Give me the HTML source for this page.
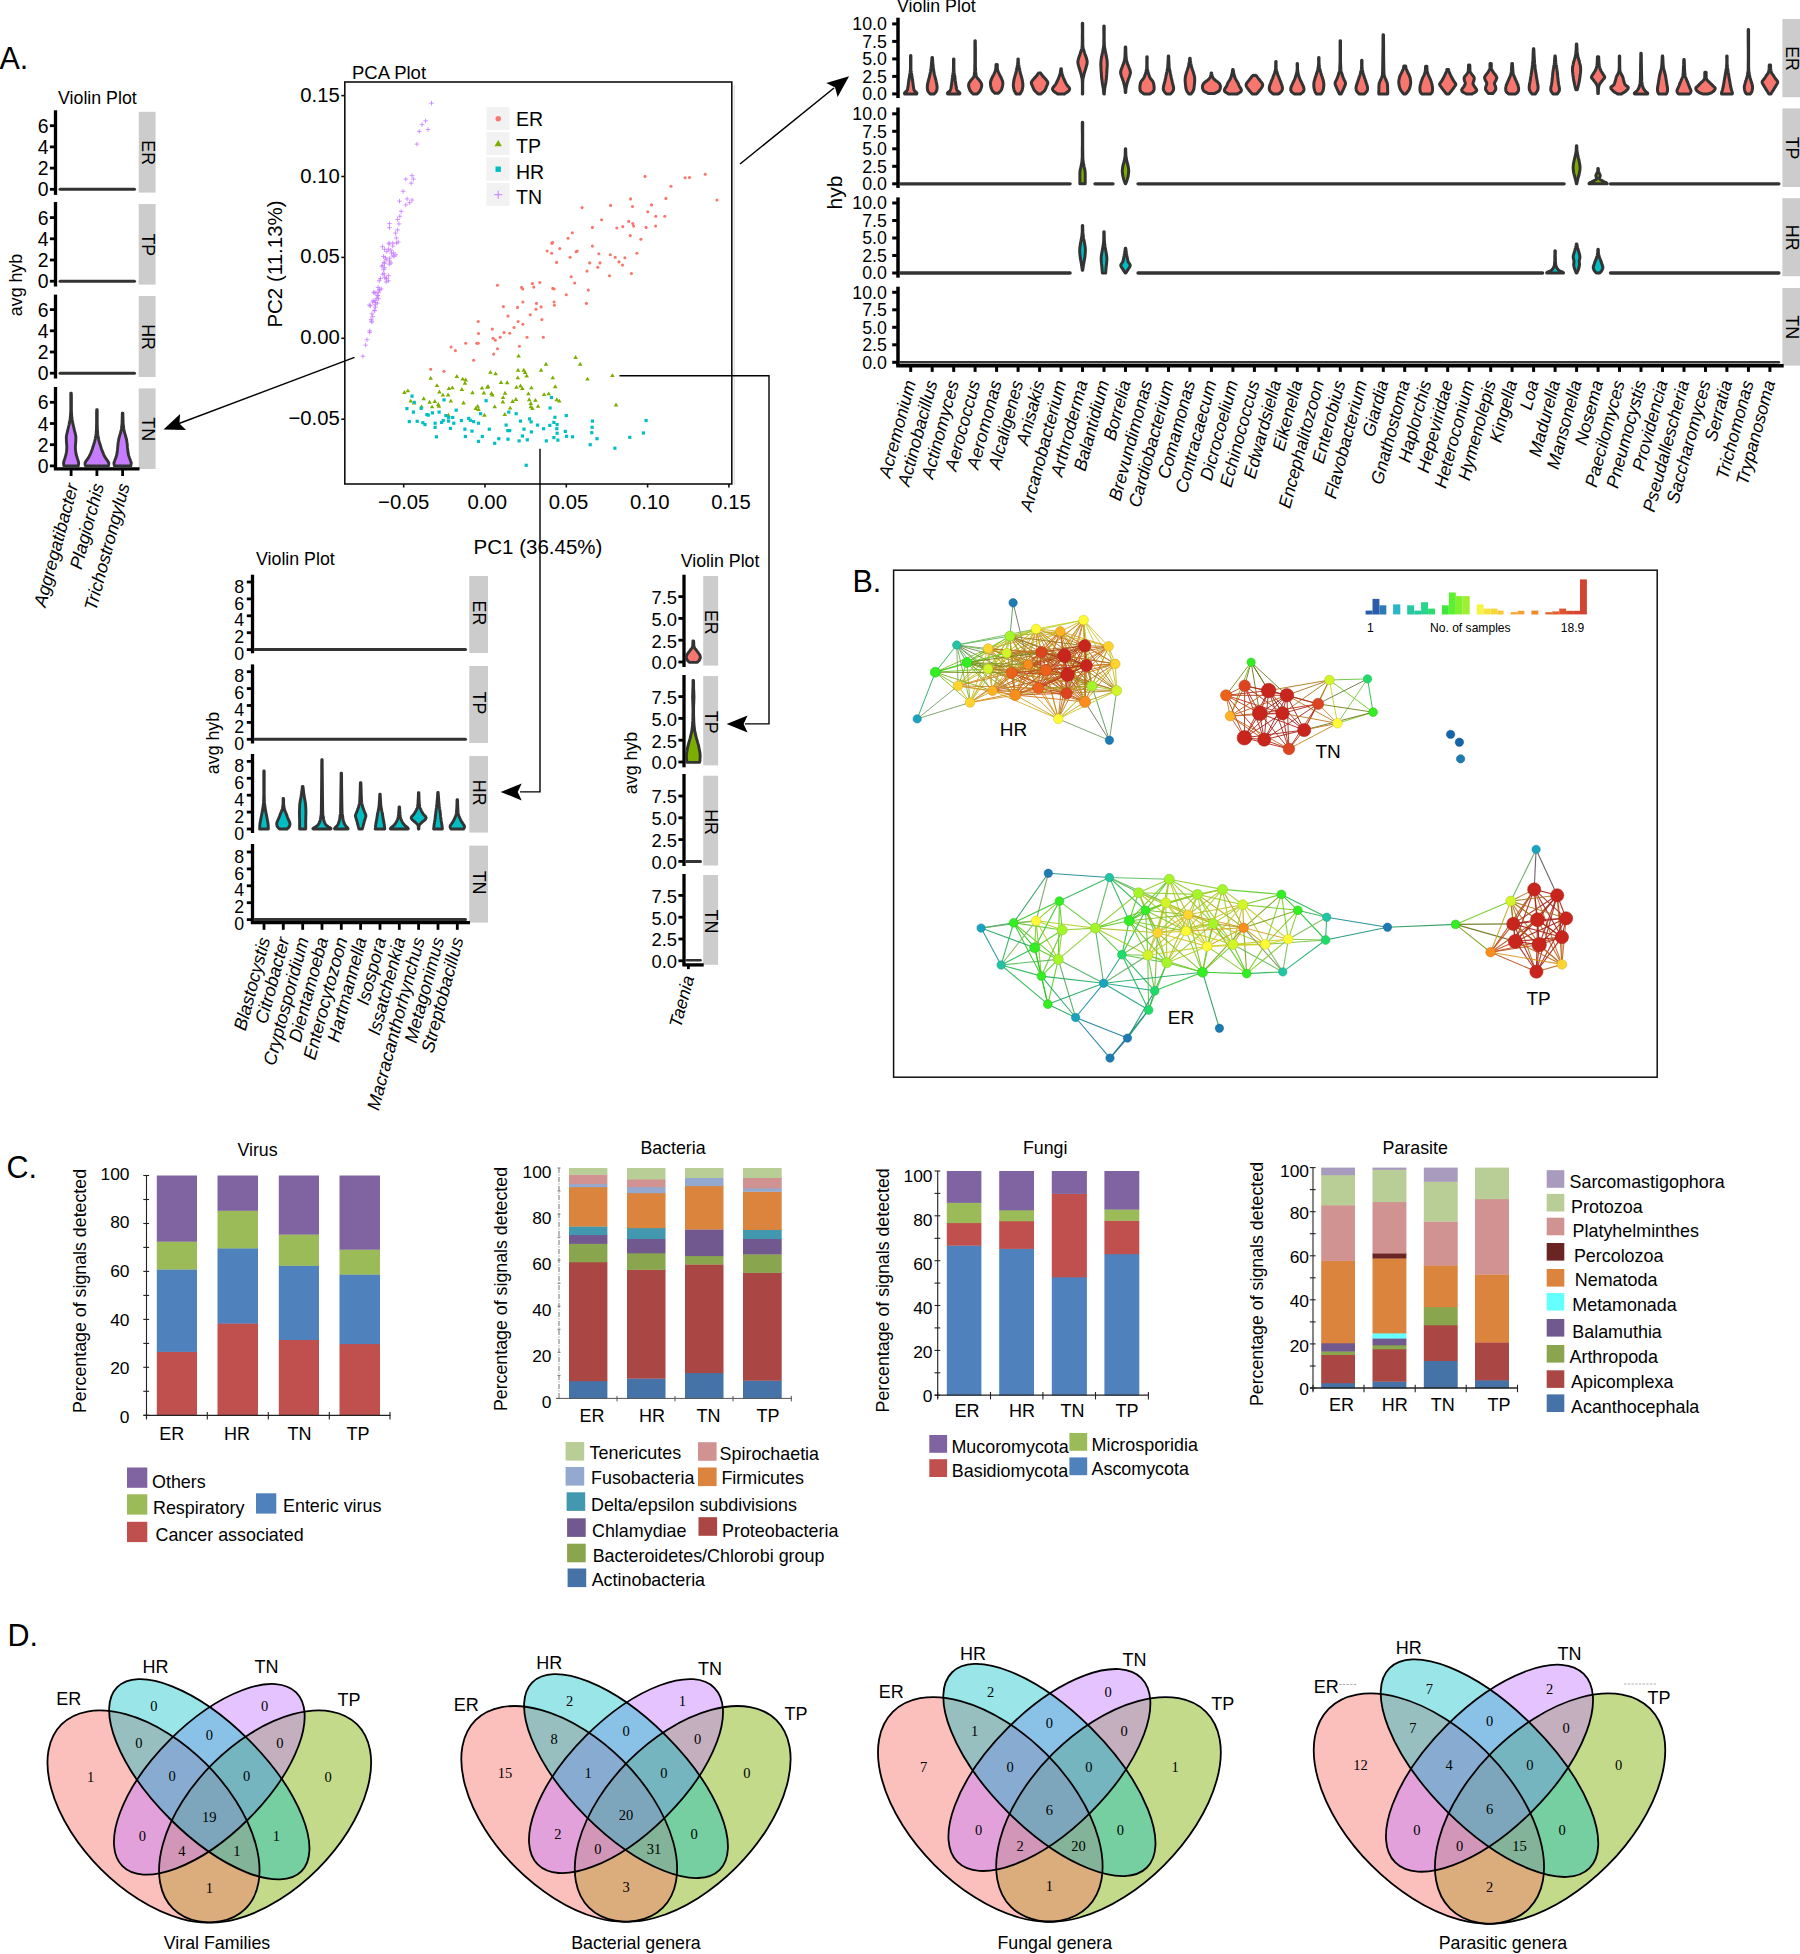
<!DOCTYPE html>
<html><head><meta charset="utf-8"><title>Figure</title>
<style>
html,body{margin:0;padding:0;background:#fff}
svg{display:block}
text{font-family:"Liberation Sans",sans-serif;fill:#000}
text.sf{font-family:"Liberation Serif",serif}
</style></head><body>
<svg width="1800" height="1954" viewBox="0 0 1800 1954" font-size="17.8">
<rect width="1800" height="1954" fill="#fff"/>
<text x="-0.5" y="68.5" font-size="30.5">A.</text>
<text x="852.5" y="591.7" font-size="30.5">B.</text>
<text x="6.5" y="1177.5" font-size="30.5">C.</text>
<text x="7.5" y="1646" font-size="30.5">D.</text>
<rect x="138.7" y="111.8" width="16.9" height="80.8" fill="#CCCCCC"/>
<text text-anchor="middle" transform="translate(141.7 152.7) rotate(90)">ER</text>
<line x1="55.5" y1="110.3" x2="55.5" y2="194.9" stroke="#000" stroke-width="3.3"/>
<line x1="49.9" y1="189.3" x2="55.5" y2="189.3" stroke="#000" stroke-width="2.8"/>
<text x="48.6" y="196.3" text-anchor="end" font-size="19.4">0</text>
<line x1="49.9" y1="168.1" x2="55.5" y2="168.1" stroke="#000" stroke-width="2.8"/>
<text x="48.6" y="175.1" text-anchor="end" font-size="19.4">2</text>
<line x1="49.9" y1="146.9" x2="55.5" y2="146.9" stroke="#000" stroke-width="2.8"/>
<text x="48.6" y="153.9" text-anchor="end" font-size="19.4">4</text>
<line x1="49.9" y1="125.7" x2="55.5" y2="125.7" stroke="#000" stroke-width="2.8"/>
<text x="48.6" y="132.7" text-anchor="end" font-size="19.4">6</text>
<rect x="138.7" y="204" width="16.9" height="80.6" fill="#CCCCCC"/>
<text text-anchor="middle" transform="translate(141.7 244.8) rotate(90)">TP</text>
<line x1="55.5" y1="202" x2="55.5" y2="286.5" stroke="#000" stroke-width="3.3"/>
<line x1="49.9" y1="281.2" x2="55.5" y2="281.2" stroke="#000" stroke-width="2.8"/>
<text x="48.6" y="288.2" text-anchor="end" font-size="19.4">0</text>
<line x1="49.9" y1="260" x2="55.5" y2="260" stroke="#000" stroke-width="2.8"/>
<text x="48.6" y="267" text-anchor="end" font-size="19.4">2</text>
<line x1="49.9" y1="238.8" x2="55.5" y2="238.8" stroke="#000" stroke-width="2.8"/>
<text x="48.6" y="245.8" text-anchor="end" font-size="19.4">4</text>
<line x1="49.9" y1="217.6" x2="55.5" y2="217.6" stroke="#000" stroke-width="2.8"/>
<text x="48.6" y="224.6" text-anchor="end" font-size="19.4">6</text>
<rect x="138.7" y="296" width="16.9" height="81" fill="#CCCCCC"/>
<text text-anchor="middle" transform="translate(141.7 337) rotate(90)">HR</text>
<line x1="55.5" y1="294.6" x2="55.5" y2="378.5" stroke="#000" stroke-width="3.3"/>
<line x1="49.9" y1="373.2" x2="55.5" y2="373.2" stroke="#000" stroke-width="2.8"/>
<text x="48.6" y="380.2" text-anchor="end" font-size="19.4">0</text>
<line x1="49.9" y1="352" x2="55.5" y2="352" stroke="#000" stroke-width="2.8"/>
<text x="48.6" y="359" text-anchor="end" font-size="19.4">2</text>
<line x1="49.9" y1="330.8" x2="55.5" y2="330.8" stroke="#000" stroke-width="2.8"/>
<text x="48.6" y="337.8" text-anchor="end" font-size="19.4">4</text>
<line x1="49.9" y1="309.6" x2="55.5" y2="309.6" stroke="#000" stroke-width="2.8"/>
<text x="48.6" y="316.6" text-anchor="end" font-size="19.4">6</text>
<rect x="138.7" y="388.4" width="16.9" height="80.6" fill="#CCCCCC"/>
<text text-anchor="middle" transform="translate(141.7 429.2) rotate(90)">TN</text>
<line x1="55.5" y1="387" x2="55.5" y2="468.9" stroke="#000" stroke-width="3.3"/>
<line x1="49.9" y1="465.9" x2="55.5" y2="465.9" stroke="#000" stroke-width="2.8"/>
<text x="48.6" y="472.9" text-anchor="end" font-size="19.4">0</text>
<line x1="49.9" y1="444.7" x2="55.5" y2="444.7" stroke="#000" stroke-width="2.8"/>
<text x="48.6" y="451.7" text-anchor="end" font-size="19.4">2</text>
<line x1="49.9" y1="423.5" x2="55.5" y2="423.5" stroke="#000" stroke-width="2.8"/>
<text x="48.6" y="430.5" text-anchor="end" font-size="19.4">4</text>
<line x1="49.9" y1="402.3" x2="55.5" y2="402.3" stroke="#000" stroke-width="2.8"/>
<text x="48.6" y="409.3" text-anchor="end" font-size="19.4">6</text>
<line x1="53.9" y1="468.9" x2="139.5" y2="468.9" stroke="#000" stroke-width="3.3"/>
<line x1="71.1" y1="468.9" x2="71.1" y2="476" stroke="#000" stroke-width="2.8"/>
<text text-anchor="end" font-style="italic" font-size="18" transform="translate(78.4 485.2) rotate(-75)">Aggregatibacter</text>
<line x1="96.9" y1="468.9" x2="96.9" y2="476" stroke="#000" stroke-width="2.8"/>
<text text-anchor="end" font-style="italic" font-size="18" transform="translate(104.2 485.2) rotate(-75)">Plagiorchis</text>
<line x1="122.6" y1="468.9" x2="122.6" y2="476" stroke="#000" stroke-width="2.8"/>
<text text-anchor="end" font-style="italic" font-size="18" transform="translate(129.9 485.2) rotate(-75)">Trichostrongylus</text>
<text x="58" y="103.7">Violin Plot</text>
<text text-anchor="middle" transform="translate(21.5 285) rotate(-90)">avg hyb</text>
<line x1="60" y1="189.3" x2="134.5" y2="189.3" stroke="#333" stroke-width="3" stroke-linecap="round"/>
<line x1="60" y1="281.2" x2="134.5" y2="281.2" stroke="#333" stroke-width="3" stroke-linecap="round"/>
<line x1="60" y1="373.2" x2="134.5" y2="373.2" stroke="#333" stroke-width="3" stroke-linecap="round"/>
<path d="M78.3 465.9 L78.4 465.1 L78.6 464 L78.6 462.7 L78.3 461.4 L77.9 459.9 L77.4 458.5 L77 457.1 L76.5 455.8 L76.1 454.2 L75.8 452.3 L75.5 450.1 L75.4 447.9 L75.4 445.7 L75.6 443.6 L75.8 441.5 L75.8 439.7 L75.9 438 L75.8 436.2 L75.4 434.2 L74.9 432.1 L74.3 429.9 L73.8 427.5 L73.2 425 L72.6 422.4 L72.2 420 L71.9 417.6 L71.6 415 L71.5 412.5 L71.4 409.8 L71.4 406.5 L71.4 402 L71.4 396.8 L71.3 393.2 L70.8 393.2 L70.8 396.8 L70.8 402 L70.8 406.5 L70.8 409.8 L70.7 412.5 L70.5 415 L70.3 417.6 L70 420 L69.5 422.4 L69 425 L68.4 427.5 L67.8 429.9 L67.3 432.1 L66.8 434.2 L66.4 436.2 L66.3 438 L66.4 439.7 L66.4 441.5 L66.6 443.6 L66.8 445.7 L66.8 447.9 L66.7 450.1 L66.4 452.3 L66 454.2 L65.7 455.8 L65.2 457.1 L64.8 458.5 L64.3 459.9 L63.9 461.4 L63.6 462.7 L63.6 464 L63.8 465.1 L63.9 465.9Z" fill="#C77CFF" stroke="#333" stroke-width="2.9" stroke-linejoin="round"/>
<path d="M108.4 465.9 L108.5 465.3 L108.7 464.5 L108.8 463.6 L108.7 462.7 L108.2 461.8 L107.6 460.9 L106.9 459.9 L106.2 459 L105.7 458.1 L105.1 457.3 L104.6 456.3 L104.1 455.3 L103.5 454.1 L103 452.7 L102.4 451.4 L101.9 450 L101.4 448.7 L101 447.4 L100.6 446.1 L100.2 444.7 L99.7 443.2 L99.2 441.6 L98.8 440 L98.5 438.3 L98.2 436.8 L97.9 435.3 L97.7 433.7 L97.6 432 L97.4 430.1 L97.3 428.2 L97.3 426 L97.2 423.5 L97.2 420.1 L97.2 416.1 L97.2 412.3 L97.2 409.7 L96.7 409.7 L96.6 412.3 L96.6 416.1 L96.6 420.1 L96.6 423.5 L96.5 426 L96.5 428.2 L96.4 430.1 L96.2 432 L96.1 433.7 L95.9 435.3 L95.6 436.8 L95.4 438.3 L95 440 L94.6 441.6 L94.1 443.2 L93.7 444.7 L93.2 446.1 L92.8 447.4 L92.4 448.7 L92 450 L91.4 451.4 L90.9 452.7 L90.3 454.1 L89.7 455.3 L89.2 456.3 L88.7 457.3 L88.1 458.1 L87.6 459 L86.9 459.9 L86.2 460.9 L85.6 461.8 L85.2 462.7 L85 463.6 L85.1 464.5 L85.3 465.3 L85.5 465.9Z" fill="#C77CFF" stroke="#333" stroke-width="2.9" stroke-linejoin="round"/>
<path d="M130.8 465.9 L130.9 465.4 L131 464.6 L131.2 463.7 L131.2 462.7 L130.9 461.7 L130.5 460.7 L130.1 459.6 L129.7 458.5 L129.3 457.5 L129 456.5 L128.6 455.4 L128.3 454.2 L128.1 452.8 L127.9 451.1 L127.7 449.4 L127.5 447.9 L127.4 446.5 L127.3 445.2 L127.2 443.9 L127 442.6 L126.8 441.3 L126.6 439.9 L126.3 438.6 L125.9 437.3 L125.6 436 L125.2 434.7 L124.8 433.4 L124.4 432 L124.1 430.5 L123.8 428.9 L123.6 427.2 L123.3 425.6 L123.2 424 L123.1 422.4 L123.1 420.8 L123 419.3 L123 417.6 L122.9 415.9 L122.9 414.4 L122.9 413.3 L122.3 413.3 L122.3 414.4 L122.3 415.9 L122.2 417.6 L122.2 419.3 L122.1 420.8 L122.1 422.4 L122 424 L121.8 425.6 L121.6 427.2 L121.4 428.9 L121.1 430.5 L120.8 432 L120.4 433.4 L120 434.7 L119.6 436 L119.2 437.3 L118.9 438.6 L118.6 439.9 L118.4 441.3 L118.1 442.6 L118 443.9 L117.9 445.2 L117.8 446.5 L117.6 447.9 L117.5 449.4 L117.3 451.1 L117.1 452.8 L116.8 454.2 L116.6 455.4 L116.2 456.5 L115.9 457.5 L115.5 458.5 L115.1 459.6 L114.7 460.7 L114.3 461.7 L114 462.7 L114 463.7 L114.2 464.6 L114.3 465.4 L114.4 465.9Z" fill="#C77CFF" stroke="#333" stroke-width="2.9" stroke-linejoin="round"/>
<rect x="344.8" y="82" width="386.99999999999994" height="402" fill="#fff" stroke="#111" stroke-width="1.6"/>
<line x1="734.3" y1="85" x2="734.3" y2="485" stroke="#e4e4e4" stroke-width="1.5"/>
<text x="352" y="79.3" font-size="18.5">PCA Plot</text>
<line x1="403.7" y1="484" x2="403.7" y2="487.5" stroke="#111" stroke-width="1.6"/>
<text x="403.7" y="509.3" text-anchor="middle" font-size="20.3">−0.05</text>
<line x1="341.3" y1="419.2" x2="344.8" y2="419.2" stroke="#111" stroke-width="1.6"/>
<text x="339.8" y="425.2" text-anchor="end" font-size="20.3">−0.05</text>
<line x1="485" y1="484" x2="485" y2="487.5" stroke="#111" stroke-width="1.6"/>
<text x="487.2" y="509.3" text-anchor="middle" font-size="20.3">0.00</text>
<line x1="341.3" y1="338.3" x2="344.8" y2="338.3" stroke="#111" stroke-width="1.6"/>
<text x="339.8" y="344.3" text-anchor="end" font-size="20.3">0.00</text>
<line x1="566.3" y1="484" x2="566.3" y2="487.5" stroke="#111" stroke-width="1.6"/>
<text x="568.5" y="509.3" text-anchor="middle" font-size="20.3">0.05</text>
<line x1="341.3" y1="257.4" x2="344.8" y2="257.4" stroke="#111" stroke-width="1.6"/>
<text x="339.8" y="263.4" text-anchor="end" font-size="20.3">0.05</text>
<line x1="647.6" y1="484" x2="647.6" y2="487.5" stroke="#111" stroke-width="1.6"/>
<text x="649.8" y="509.3" text-anchor="middle" font-size="20.3">0.10</text>
<line x1="341.3" y1="176.5" x2="344.8" y2="176.5" stroke="#111" stroke-width="1.6"/>
<text x="339.8" y="182.5" text-anchor="end" font-size="20.3">0.10</text>
<line x1="728.9" y1="484" x2="728.9" y2="487.5" stroke="#111" stroke-width="1.6"/>
<text x="731.1" y="509.3" text-anchor="middle" font-size="20.3">0.15</text>
<line x1="341.3" y1="95.6" x2="344.8" y2="95.6" stroke="#111" stroke-width="1.6"/>
<text x="339.8" y="101.6" text-anchor="end" font-size="20.3">0.15</text>
<text x="538" y="554.4" text-anchor="middle" font-size="20.5">PC1 (36.45%)</text>
<text text-anchor="middle" font-size="20.5" transform="translate(282 264) rotate(-90)">PC2 (11.13%)</text>
<g fill="#F8766D"><circle cx="645" cy="176.4" r="1.55"/><circle cx="705.2" cy="174.3" r="1.55"/><circle cx="685.1" cy="177.8" r="1.55"/><circle cx="689.5" cy="177.5" r="1.55"/><circle cx="671" cy="186.2" r="1.55"/><circle cx="716.9" cy="200" r="1.55"/><circle cx="630.6" cy="198.9" r="1.55"/><circle cx="665.9" cy="198.4" r="1.55"/><circle cx="610.6" cy="205.4" r="1.55"/><circle cx="582.1" cy="207.6" r="1.55"/><circle cx="632.5" cy="206.5" r="1.55"/><circle cx="651.5" cy="204.9" r="1.55"/><circle cx="647.7" cy="211.7" r="1.55"/><circle cx="655.8" cy="216.3" r="1.55"/><circle cx="664.8" cy="216.3" r="1.55"/><circle cx="601.6" cy="219.8" r="1.55"/><circle cx="628.7" cy="221.4" r="1.55"/><circle cx="632.8" cy="223.6" r="1.55"/><circle cx="633.6" cy="226.1" r="1.55"/><circle cx="592.4" cy="227.4" r="1.55"/><circle cx="616.8" cy="228" r="1.55"/><circle cx="622.8" cy="226.6" r="1.55"/><circle cx="646.1" cy="227.4" r="1.55"/><circle cx="655.6" cy="226.1" r="1.55"/><circle cx="572.3" cy="232.8" r="1.55"/><circle cx="568" cy="238.3" r="1.55"/><circle cx="630.3" cy="235.6" r="1.55"/><circle cx="640.9" cy="239.3" r="1.55"/><circle cx="552.5" cy="242.3" r="1.55"/><circle cx="552" cy="243.4" r="1.55"/><circle cx="559.8" cy="248.6" r="1.55"/><circle cx="592.4" cy="246.1" r="1.55"/><circle cx="547.1" cy="251" r="1.55"/><circle cx="551.7" cy="253.2" r="1.55"/><circle cx="570.1" cy="257.2" r="1.55"/><circle cx="576.1" cy="251.8" r="1.55"/><circle cx="577.2" cy="251" r="1.55"/><circle cx="598.9" cy="253.7" r="1.55"/><circle cx="610.3" cy="254.8" r="1.55"/><circle cx="615.2" cy="257.2" r="1.55"/><circle cx="624.9" cy="257.8" r="1.55"/><circle cx="636.9" cy="253.2" r="1.55"/><circle cx="556.6" cy="262.4" r="1.55"/><circle cx="589.7" cy="262.9" r="1.55"/><circle cx="600" cy="262.9" r="1.55"/><circle cx="597.8" cy="267.3" r="1.55"/><circle cx="619" cy="261.9" r="1.55"/><circle cx="622.5" cy="265.1" r="1.55"/><circle cx="587" cy="271.1" r="1.55"/><circle cx="631.4" cy="273.5" r="1.55"/><circle cx="571.2" cy="276.8" r="1.55"/><circle cx="609.5" cy="275.7" r="1.55"/><circle cx="574.7" cy="283" r="1.55"/><circle cx="532.4" cy="283.6" r="1.55"/><circle cx="539.8" cy="282.5" r="1.55"/><circle cx="497.5" cy="285.2" r="1.55"/><circle cx="521.6" cy="287.4" r="1.55"/><circle cx="522.7" cy="289" r="1.55"/><circle cx="533.8" cy="287.1" r="1.55"/><circle cx="552.8" cy="288.4" r="1.55"/><circle cx="554.1" cy="289" r="1.55"/><circle cx="588.3" cy="290.1" r="1.55"/><circle cx="566.3" cy="294.7" r="1.55"/><circle cx="522.9" cy="302" r="1.55"/><circle cx="536.5" cy="303.4" r="1.55"/><circle cx="554.1" cy="302" r="1.55"/><circle cx="554.4" cy="305.3" r="1.55"/><circle cx="586.4" cy="303.4" r="1.55"/><circle cx="503.4" cy="306.6" r="1.55"/><circle cx="517.5" cy="307.4" r="1.55"/><circle cx="536" cy="309.3" r="1.55"/><circle cx="541.1" cy="306.9" r="1.55"/><circle cx="530.3" cy="314.7" r="1.55"/><circle cx="508" cy="316.1" r="1.55"/><circle cx="541.9" cy="319.6" r="1.55"/><circle cx="478.2" cy="321.5" r="1.55"/><circle cx="518.1" cy="321.5" r="1.55"/><circle cx="522.9" cy="324.2" r="1.55"/><circle cx="492.3" cy="329.1" r="1.55"/><circle cx="514" cy="327.5" r="1.55"/><circle cx="478.5" cy="333.5" r="1.55"/><circle cx="504" cy="332.6" r="1.55"/><circle cx="509.7" cy="333.2" r="1.55"/><circle cx="493.1" cy="338.3" r="1.55"/><circle cx="500.2" cy="337.3" r="1.55"/><circle cx="495.3" cy="340.2" r="1.55"/><circle cx="527" cy="337.3" r="1.55"/><circle cx="543.3" cy="337.3" r="1.55"/><circle cx="465.7" cy="343.2" r="1.55"/><circle cx="476.8" cy="343.2" r="1.55"/><circle cx="478.2" cy="343.2" r="1.55"/><circle cx="451.1" cy="347" r="1.55"/><circle cx="455.4" cy="350.6" r="1.55"/><circle cx="497.5" cy="348.7" r="1.55"/><circle cx="519.4" cy="346.2" r="1.55"/><circle cx="493.7" cy="354.1" r="1.55"/><circle cx="473.6" cy="360.3" r="1.55"/><circle cx="430.7" cy="369.3" r="1.55"/><circle cx="444" cy="371.2" r="1.55"/></g>
<g fill="#7CAE00"><path d="M518.6 353.7l2.3 3.9h-4.6z"/><path d="M575.6 355l2.3 3.9h-4.6z"/><path d="M546 361.8l2.3 3.9h-4.6z"/><path d="M580.2 361.8l2.3 3.9h-4.6z"/><path d="M518.1 367.8l2.3 3.9h-4.6z"/><path d="M523.8 367.8l2.3 3.9h-4.6z"/><path d="M541.1 367.8l2.3 3.9h-4.6z"/><path d="M490.4 369.9l2.3 3.9h-4.6z"/><path d="M495.6 371.3l2.3 3.9h-4.6z"/><path d="M525.1 370.2l2.3 3.9h-4.6z"/><path d="M526.7 373.5l2.3 3.9h-4.6z"/><path d="M612.4 373.2l2.3 3.9h-4.6z"/><path d="M456.8 374l2.3 3.9h-4.6z"/><path d="M430.7 375.9l2.3 3.9h-4.6z"/><path d="M462.7 376.7l2.3 3.9h-4.6z"/><path d="M465.7 377.5l2.3 3.9h-4.6z"/><path d="M517.8 375.4l2.3 3.9h-4.6z"/><path d="M552.8 375.4l2.3 3.9h-4.6z"/><path d="M587.5 376.7l2.3 3.9h-4.6z"/><path d="M464.9 380.8l2.3 3.9h-4.6z"/><path d="M501 380l2.3 3.9h-4.6z"/><path d="M507.2 380.3l2.3 3.9h-4.6z"/><path d="M437 383.2l2.3 3.9h-4.6z"/><path d="M488 384.1l2.3 3.9h-4.6z"/><path d="M482 385.7l2.3 3.9h-4.6z"/><path d="M487.4 384.9l2.3 3.9h-4.6z"/><path d="M448.9 386.2l2.3 3.9h-4.6z"/><path d="M452.4 385.4l2.3 3.9h-4.6z"/><path d="M461.9 387l2.3 3.9h-4.6z"/><path d="M516.4 384.9l2.3 3.9h-4.6z"/><path d="M520.5 383.5l2.3 3.9h-4.6z"/><path d="M522.4 386.2l2.3 3.9h-4.6z"/><path d="M531.4 385.4l2.3 3.9h-4.6z"/><path d="M555.2 384.3l2.3 3.9h-4.6z"/><path d="M404.4 390l2.3 3.9h-4.6z"/><path d="M407.9 388.4l2.3 3.9h-4.6z"/><path d="M439.4 389.5l2.3 3.9h-4.6z"/><path d="M472.5 390.3l2.3 3.9h-4.6z"/><path d="M483.9 390.6l2.3 3.9h-4.6z"/><path d="M491.5 391.1l2.3 3.9h-4.6z"/><path d="M492.3 392.5l2.3 3.9h-4.6z"/><path d="M505 390.8l2.3 3.9h-4.6z"/><path d="M528.4 391.4l2.3 3.9h-4.6z"/><path d="M544.1 392.2l2.3 3.9h-4.6z"/><path d="M548.7 391.4l2.3 3.9h-4.6z"/><path d="M442.9 392.7l2.3 3.9h-4.6z"/><path d="M448.1 392.5l2.3 3.9h-4.6z"/><path d="M423.7 396.3l2.3 3.9h-4.6z"/><path d="M503.1 395.2l2.3 3.9h-4.6z"/><path d="M515.9 397.1l2.3 3.9h-4.6z"/><path d="M529.2 397.3l2.3 3.9h-4.6z"/><path d="M535.4 397.9l2.3 3.9h-4.6z"/><path d="M556.8 397.3l2.3 3.9h-4.6z"/><path d="M559.3 398.7l2.3 3.9h-4.6z"/><path d="M410.7 398.7l2.3 3.9h-4.6z"/><path d="M414.2 400.6l2.3 3.9h-4.6z"/><path d="M429.6 399.8l2.3 3.9h-4.6z"/><path d="M434.8 399l2.3 3.9h-4.6z"/><path d="M438.3 402l2.3 3.9h-4.6z"/><path d="M450.8 398.7l2.3 3.9h-4.6z"/><path d="M463.5 400.6l2.3 3.9h-4.6z"/><path d="M502.9 399.5l2.3 3.9h-4.6z"/><path d="M512.6 399l2.3 3.9h-4.6z"/><path d="M530.8 401.1l2.3 3.9h-4.6z"/><path d="M616 402.5l2.3 3.9h-4.6z"/><path d="M421.5 404.4l2.3 3.9h-4.6z"/><path d="M432.1 404.4l2.3 3.9h-4.6z"/><path d="M438.9 403.9l2.3 3.9h-4.6z"/><path d="M477.7 403.9l2.3 3.9h-4.6z"/><path d="M475.8 406l2.3 3.9h-4.6z"/><path d="M478.5 407.1l2.3 3.9h-4.6z"/><path d="M494.7 404.4l2.3 3.9h-4.6z"/><path d="M510.2 405.7l2.3 3.9h-4.6z"/><path d="M530.8 404.4l2.3 3.9h-4.6z"/><path d="M532.4 406l2.3 3.9h-4.6z"/><path d="M538.1 403.9l2.3 3.9h-4.6z"/><path d="M484.4 412.8l2.3 3.9h-4.6z"/><path d="M504.8 412l2.3 3.9h-4.6z"/><path d="M448.4 412.8l2.3 3.9h-4.6z"/></g>
<g fill="#00BFC4"><rect x="410.4" y="394.5" width="3.2" height="3.2"/><rect x="412.6" y="400.8" width="3.2" height="3.2"/><rect x="442.4" y="398.3" width="3.2" height="3.2"/><rect x="484.5" y="399.1" width="3.2" height="3.2"/><rect x="549.8" y="395.9" width="3.2" height="3.2"/><rect x="405.3" y="407" width="3.2" height="3.2"/><rect x="411.8" y="410.5" width="3.2" height="3.2"/><rect x="419.6" y="406.7" width="3.2" height="3.2"/><rect x="454.6" y="408.6" width="3.2" height="3.2"/><rect x="548.5" y="406.4" width="3.2" height="3.2"/><rect x="430.8" y="411.3" width="3.2" height="3.2"/><rect x="425.3" y="413" width="3.2" height="3.2"/><rect x="426.7" y="413.5" width="3.2" height="3.2"/><rect x="437.5" y="410.5" width="3.2" height="3.2"/><rect x="444.3" y="414" width="3.2" height="3.2"/><rect x="447" y="415.9" width="3.2" height="3.2"/><rect x="451.1" y="415.9" width="3.2" height="3.2"/><rect x="467.1" y="416.8" width="3.2" height="3.2"/><rect x="479" y="412.1" width="3.2" height="3.2"/><rect x="507.2" y="410.5" width="3.2" height="3.2"/><rect x="514.6" y="412.1" width="3.2" height="3.2"/><rect x="527.9" y="417.3" width="3.2" height="3.2"/><rect x="553.3" y="415.7" width="3.2" height="3.2"/><rect x="564.7" y="414" width="3.2" height="3.2"/><rect x="407.7" y="420" width="3.2" height="3.2"/><rect x="415.6" y="419.7" width="3.2" height="3.2"/><rect x="421.3" y="421.1" width="3.2" height="3.2"/><rect x="423.4" y="423" width="3.2" height="3.2"/><rect x="433.5" y="421.6" width="3.2" height="3.2"/><rect x="440" y="420.8" width="3.2" height="3.2"/><rect x="441.6" y="418.9" width="3.2" height="3.2"/><rect x="447" y="419.5" width="3.2" height="3.2"/><rect x="452.2" y="421.6" width="3.2" height="3.2"/><rect x="459.8" y="418.9" width="3.2" height="3.2"/><rect x="468.7" y="418.7" width="3.2" height="3.2"/><rect x="472" y="420" width="3.2" height="3.2"/><rect x="476.9" y="421.6" width="3.2" height="3.2"/><rect x="504.5" y="423.5" width="3.2" height="3.2"/><rect x="518.9" y="419.5" width="3.2" height="3.2"/><rect x="529.5" y="420.3" width="3.2" height="3.2"/><rect x="536" y="423.5" width="3.2" height="3.2"/><rect x="548.2" y="423.8" width="3.2" height="3.2"/><rect x="552.3" y="420.8" width="3.2" height="3.2"/><rect x="555.5" y="423" width="3.2" height="3.2"/><rect x="590.8" y="419.5" width="3.2" height="3.2"/><rect x="644.5" y="418.9" width="3.2" height="3.2"/><rect x="433.5" y="425.7" width="3.2" height="3.2"/><rect x="448.9" y="426.8" width="3.2" height="3.2"/><rect x="463.3" y="427.6" width="3.2" height="3.2"/><rect x="470.4" y="429.5" width="3.2" height="3.2"/><rect x="487.7" y="427.6" width="3.2" height="3.2"/><rect x="506.2" y="429" width="3.2" height="3.2"/><rect x="508.1" y="429" width="3.2" height="3.2"/><rect x="522.4" y="427.6" width="3.2" height="3.2"/><rect x="529.8" y="430.3" width="3.2" height="3.2"/><rect x="542" y="427.1" width="3.2" height="3.2"/><rect x="555.2" y="427.1" width="3.2" height="3.2"/><rect x="555.5" y="431.7" width="3.2" height="3.2"/><rect x="563.7" y="429.8" width="3.2" height="3.2"/><rect x="590.5" y="425.7" width="3.2" height="3.2"/><rect x="590.2" y="431.1" width="3.2" height="3.2"/><rect x="641.8" y="431.4" width="3.2" height="3.2"/><rect x="434.8" y="435.2" width="3.2" height="3.2"/><rect x="463.8" y="434.9" width="3.2" height="3.2"/><rect x="480.7" y="434.9" width="3.2" height="3.2"/><rect x="476.9" y="439.8" width="3.2" height="3.2"/><rect x="497.2" y="437.1" width="3.2" height="3.2"/><rect x="506.4" y="437.6" width="3.2" height="3.2"/><rect x="520.8" y="434.4" width="3.2" height="3.2"/><rect x="517.5" y="439.3" width="3.2" height="3.2"/><rect x="525.7" y="438.2" width="3.2" height="3.2"/><rect x="493.1" y="441.7" width="3.2" height="3.2"/><rect x="544.7" y="439.3" width="3.2" height="3.2"/><rect x="552.3" y="436" width="3.2" height="3.2"/><rect x="556.3" y="438.5" width="3.2" height="3.2"/><rect x="565" y="434.7" width="3.2" height="3.2"/><rect x="571" y="435.2" width="3.2" height="3.2"/><rect x="595.4" y="437.1" width="3.2" height="3.2"/><rect x="628.2" y="435.7" width="3.2" height="3.2"/><rect x="588.6" y="443.1" width="3.2" height="3.2"/><rect x="613.3" y="446.6" width="3.2" height="3.2"/><rect x="524.6" y="463.7" width="3.2" height="3.2"/></g>
<path d="M429.2 103.2h4.6M431.5 100.9v4.6M423.3 120.8h4.6M425.6 118.5v4.6M419.8 124.6h4.6M422.1 122.3v4.6M425.7 129.5h4.6M428 127.2v4.6M417 131.4h4.6M419.3 129.1v4.6M414.6 144.1h4.6M416.9 141.8v4.6M409.7 175.6h4.6M412 173.3v4.6M403.5 179.1h4.6M405.8 176.8v4.6M408.9 183.2h4.6M411.2 180.9v4.6M411.1 179.1h4.6M413.4 176.8v4.6M400.8 191.3h4.6M403.1 189v4.6M397.2 201.1h4.6M399.5 198.8v4.6M404.8 198.9h4.6M407.1 196.6v4.6M409.7 200h4.6M412 197.7v4.6M407.3 202.7h4.6M409.6 200.4v4.6M403.5 204.9h4.6M405.8 202.6v4.6M398.9 211.4h4.6M401.2 209.1v4.6M397.5 216.3h4.6M399.8 214v4.6M395.3 219.5h4.6M397.6 217.2v4.6M387.2 223.6h4.6M389.5 221.3v4.6M396.7 223.9h4.6M399 221.6v4.6M387.2 227.7h4.6M389.5 225.4v4.6M395.3 229.9h4.6M397.6 227.6v4.6M393.2 233.1h4.6M395.5 230.8v4.6M394 238h4.6M396.3 235.7v4.6M395.9 242.1h4.6M398.2 239.8v4.6M386.7 244h4.6M389 241.7v4.6M390.5 246.1h4.6M392.8 243.8v4.6M382.3 249.4h4.6M384.6 247.1v4.6M384.5 251.6h4.6M386.8 249.3v4.6M388.6 250.2h4.6M390.9 247.9v4.6M391.3 252.9h4.6M393.6 250.6v4.6M391.8 256.2h4.6M394.1 253.9v4.6M383.1 257.8h4.6M385.4 255.5v4.6M383.9 259.7h4.6M386.2 257.4v4.6M381.8 262.4h4.6M384.1 260.1v4.6M387.2 261h4.6M389.5 258.7v4.6M388.6 262.9h4.6M390.9 260.6v4.6M380.4 265.7h4.6M382.7 263.4v4.6M382.3 267.8h4.6M384.6 265.5v4.6M381.8 273.8h4.6M384.1 271.5v4.6M382.3 277.3h4.6M384.6 275v4.6M383.9 278.1h4.6M386.2 275.8v4.6M376.9 280.8h4.6M379.2 278.5v4.6M386.1 280.8h4.6M388.4 278.5v4.6M375.8 287.4h4.6M378.1 285.1v4.6M377.2 290.1h4.6M379.5 287.8v4.6M371.5 292.2h4.6M373.8 289.9v4.6M373.6 292.8h4.6M375.9 290.5v4.6M376.4 292.2h4.6M378.7 289.9v4.6M375.5 295.5h4.6M377.8 293.2v4.6M374.5 298.2h4.6M376.8 295.9v4.6M370.9 300.9h4.6M373.2 298.6v4.6M373.1 302.5h4.6M375.4 300.2v4.6M375 303.1h4.6M377.3 300.8v4.6M368.2 305.8h4.6M370.5 303.5v4.6M373.1 307.2h4.6M375.4 304.9v4.6M372.3 310.4h4.6M374.6 308.1v4.6M369.6 313.9h4.6M371.9 311.6v4.6M370.4 316.6h4.6M372.7 314.3v4.6M368.8 319.4h4.6M371.1 317.1v4.6M369.6 322.1h4.6M371.9 319.8v4.6M367.4 330.8h4.6M369.7 328.5v4.6M367.4 332.4h4.6M369.7 330.1v4.6M364.7 339.7h4.6M367 337.4v4.6M363.3 345.1h4.6M365.6 342.8v4.6M360.6 356.2h4.6M362.9 353.9v4.6M394.2 243h4.6M396.5 240.7v4.6M386.8 243.1h4.6M389.1 240.8v4.6M390.5 243.1h4.6M392.8 240.8v4.6M380.2 246.7h4.6M382.5 244.4v4.6M386.1 249.1h4.6M388.4 246.8v4.6M389.2 253.1h4.6M391.5 250.8v4.6M390.8 256h4.6M393.1 253.7v4.6M393.6 254.8h4.6M395.9 252.5v4.6M381.3 256.5h4.6M383.6 254.2v4.6M382.2 263.3h4.6M384.5 261v4.6M387.4 258.2h4.6M389.7 255.9v4.6M387.1 264.1h4.6M389.4 261.8v4.6M379.5 266.2h4.6M381.8 263.9v4.6M381.3 269.7h4.6M383.6 267.4v4.6M380.5 274.3h4.6M382.8 272v4.6M384.2 278.8h4.6M386.5 276.5v4.6M386.3 275.6h4.6M388.6 273.3v4.6M378.2 278.6h4.6M380.5 276.3v4.6M383.9 281.9h4.6M386.2 279.6v4.6M379 288.9h4.6M381.3 286.6v4.6M371.9 292.8h4.6M374.2 290.5v4.6M375.3 295.7h4.6M377.6 293.4v4.6M377.2 289.4h4.6M379.5 287.1v4.6M376.3 298.7h4.6M378.6 296.4v4.6M370.4 302h4.6M372.7 299.7v4.6M372.9 300.4h4.6M375.2 298.1v4.6M372.8 304.8h4.6M375.1 302.5v4.6M367 305.1h4.6M369.3 302.8v4.6M372 310.7h4.6M374.3 308.4v4.6M369.2 321.2h4.6M371.5 318.9v4.6" stroke="#C77CFF" stroke-width="0.8" fill="none"/>
<rect x="486.5" y="107" width="23" height="23" fill="#F2F2F2"/>
<circle cx="498.2" cy="118.7" r="2.7" fill="#F8766D"/>
<text x="516" y="126.4" font-size="19.5">ER</text>
<rect x="486.5" y="132" width="23" height="23" fill="#F2F2F2"/>
<path d="M498.2 139.89999999999998l3.7 6.3h-7.4z" fill="#7CAE00"/>
<text x="516" y="153.4" font-size="19.5">TP</text>
<rect x="486.5" y="157.5" width="23" height="23" fill="#F2F2F2"/>
<rect x="495.5" y="166.5" width="5.4" height="5.4" fill="#00BFC4"/>
<text x="516" y="178.6" font-size="19.5">HR</text>
<rect x="486.5" y="183" width="23" height="23" fill="#F2F2F2"/>
<path d="M494.2 194.7h8M498.2 190.7v8" stroke="#C77CFF" stroke-width="1" fill="none"/>
<text x="516" y="204" font-size="19.5">TN</text>
<rect x="1782.4" y="19" width="17.6" height="78.2" fill="#CCCCCC"/>
<text text-anchor="middle" transform="translate(1785.8 58.5) rotate(90)">ER</text>
<line x1="898" y1="17.7" x2="898" y2="98" stroke="#000" stroke-width="3.5"/>
<line x1="892.2" y1="93.9" x2="898" y2="93.9" stroke="#000" stroke-width="3"/>
<text x="886.9" y="100.3" text-anchor="end">0.0</text>
<line x1="892.2" y1="76.4" x2="898" y2="76.4" stroke="#000" stroke-width="3"/>
<text x="886.9" y="82.8" text-anchor="end">2.5</text>
<line x1="892.2" y1="58.9" x2="898" y2="58.9" stroke="#000" stroke-width="3"/>
<text x="886.9" y="65.3" text-anchor="end">5.0</text>
<line x1="892.2" y1="41.4" x2="898" y2="41.4" stroke="#000" stroke-width="3"/>
<text x="886.9" y="47.8" text-anchor="end">7.5</text>
<line x1="892.2" y1="23.9" x2="898" y2="23.9" stroke="#000" stroke-width="3"/>
<text x="886.9" y="30.3" text-anchor="end">10.0</text>
<rect x="1782.4" y="108.4" width="17.6" height="78.6" fill="#CCCCCC"/>
<text text-anchor="middle" transform="translate(1785.8 148.1) rotate(90)">TP</text>
<line x1="898" y1="107.5" x2="898" y2="187.9" stroke="#000" stroke-width="3.5"/>
<line x1="892.2" y1="183.8" x2="898" y2="183.8" stroke="#000" stroke-width="3"/>
<text x="886.9" y="190.2" text-anchor="end">0.0</text>
<line x1="892.2" y1="166.3" x2="898" y2="166.3" stroke="#000" stroke-width="3"/>
<text x="886.9" y="172.7" text-anchor="end">2.5</text>
<line x1="892.2" y1="148.8" x2="898" y2="148.8" stroke="#000" stroke-width="3"/>
<text x="886.9" y="155.2" text-anchor="end">5.0</text>
<line x1="892.2" y1="131.3" x2="898" y2="131.3" stroke="#000" stroke-width="3"/>
<text x="886.9" y="137.7" text-anchor="end">7.5</text>
<line x1="892.2" y1="113.8" x2="898" y2="113.8" stroke="#000" stroke-width="3"/>
<text x="886.9" y="120.2" text-anchor="end">10.0</text>
<rect x="1782.4" y="198.2" width="17.6" height="78.1" fill="#CCCCCC"/>
<text text-anchor="middle" transform="translate(1785.8 237.7) rotate(90)">HR</text>
<line x1="898" y1="197.4" x2="898" y2="277.7" stroke="#000" stroke-width="3.5"/>
<line x1="892.2" y1="273" x2="898" y2="273" stroke="#000" stroke-width="3"/>
<text x="886.9" y="279.4" text-anchor="end">0.0</text>
<line x1="892.2" y1="255.5" x2="898" y2="255.5" stroke="#000" stroke-width="3"/>
<text x="886.9" y="261.9" text-anchor="end">2.5</text>
<line x1="892.2" y1="238" x2="898" y2="238" stroke="#000" stroke-width="3"/>
<text x="886.9" y="244.4" text-anchor="end">5.0</text>
<line x1="892.2" y1="220.5" x2="898" y2="220.5" stroke="#000" stroke-width="3"/>
<text x="886.9" y="226.9" text-anchor="end">7.5</text>
<line x1="892.2" y1="203" x2="898" y2="203" stroke="#000" stroke-width="3"/>
<text x="886.9" y="209.4" text-anchor="end">10.0</text>
<rect x="1782.4" y="288" width="17.6" height="77.6" fill="#CCCCCC"/>
<text text-anchor="middle" transform="translate(1785.8 327.2) rotate(90)">TN</text>
<line x1="898" y1="286.7" x2="898" y2="365.8" stroke="#000" stroke-width="3.5"/>
<line x1="892.2" y1="362.3" x2="898" y2="362.3" stroke="#000" stroke-width="3"/>
<text x="886.9" y="368.7" text-anchor="end">0.0</text>
<line x1="892.2" y1="344.8" x2="898" y2="344.8" stroke="#000" stroke-width="3"/>
<text x="886.9" y="351.2" text-anchor="end">2.5</text>
<line x1="892.2" y1="327.3" x2="898" y2="327.3" stroke="#000" stroke-width="3"/>
<text x="886.9" y="333.7" text-anchor="end">5.0</text>
<line x1="892.2" y1="309.8" x2="898" y2="309.8" stroke="#000" stroke-width="3"/>
<text x="886.9" y="316.2" text-anchor="end">7.5</text>
<line x1="892.2" y1="292.3" x2="898" y2="292.3" stroke="#000" stroke-width="3"/>
<text x="886.9" y="298.7" text-anchor="end">10.0</text>
<line x1="896.2" y1="365.8" x2="1783.7" y2="365.8" stroke="#000" stroke-width="3.5"/>
<line x1="910.7" y1="365.8" x2="910.7" y2="371.9" stroke="#000" stroke-width="3"/>
<text text-anchor="end" font-style="italic" transform="translate(916 382.3) rotate(-75)">Acremonium</text>
<line x1="932.2" y1="365.8" x2="932.2" y2="371.9" stroke="#000" stroke-width="3"/>
<text text-anchor="end" font-style="italic" transform="translate(937.5 382.3) rotate(-75)">Actinobacillus</text>
<line x1="953.7" y1="365.8" x2="953.7" y2="371.9" stroke="#000" stroke-width="3"/>
<text text-anchor="end" font-style="italic" transform="translate(959 382.3) rotate(-75)">Actinomyces</text>
<line x1="975.1" y1="365.8" x2="975.1" y2="371.9" stroke="#000" stroke-width="3"/>
<text text-anchor="end" font-style="italic" transform="translate(980.4 382.3) rotate(-75)">Aerococcus</text>
<line x1="996.6" y1="365.8" x2="996.6" y2="371.9" stroke="#000" stroke-width="3"/>
<text text-anchor="end" font-style="italic" transform="translate(1001.9 382.3) rotate(-75)">Aeromonas</text>
<line x1="1018.1" y1="365.8" x2="1018.1" y2="371.9" stroke="#000" stroke-width="3"/>
<text text-anchor="end" font-style="italic" transform="translate(1023.4 382.3) rotate(-75)">Alcaligenes</text>
<line x1="1039.6" y1="365.8" x2="1039.6" y2="371.9" stroke="#000" stroke-width="3"/>
<text text-anchor="end" font-style="italic" transform="translate(1044.9 382.3) rotate(-75)">Anisakis</text>
<line x1="1061.1" y1="365.8" x2="1061.1" y2="371.9" stroke="#000" stroke-width="3"/>
<text text-anchor="end" font-style="italic" transform="translate(1066.4 382.3) rotate(-75)">Arcanobacterium</text>
<line x1="1082.5" y1="365.8" x2="1082.5" y2="371.9" stroke="#000" stroke-width="3"/>
<text text-anchor="end" font-style="italic" transform="translate(1087.8 382.3) rotate(-75)">Arthroderma</text>
<line x1="1104" y1="365.8" x2="1104" y2="371.9" stroke="#000" stroke-width="3"/>
<text text-anchor="end" font-style="italic" transform="translate(1109.3 382.3) rotate(-75)">Balantidium</text>
<line x1="1125.5" y1="365.8" x2="1125.5" y2="371.9" stroke="#000" stroke-width="3"/>
<text text-anchor="end" font-style="italic" transform="translate(1130.8 382.3) rotate(-75)">Borrelia</text>
<line x1="1147" y1="365.8" x2="1147" y2="371.9" stroke="#000" stroke-width="3"/>
<text text-anchor="end" font-style="italic" transform="translate(1152.3 382.3) rotate(-75)">Brevundimonas</text>
<line x1="1168.5" y1="365.8" x2="1168.5" y2="371.9" stroke="#000" stroke-width="3"/>
<text text-anchor="end" font-style="italic" transform="translate(1173.8 382.3) rotate(-75)">Cardiobacterium</text>
<line x1="1189.9" y1="365.8" x2="1189.9" y2="371.9" stroke="#000" stroke-width="3"/>
<text text-anchor="end" font-style="italic" transform="translate(1195.2 382.3) rotate(-75)">Comamonas</text>
<line x1="1211.4" y1="365.8" x2="1211.4" y2="371.9" stroke="#000" stroke-width="3"/>
<text text-anchor="end" font-style="italic" transform="translate(1216.7 382.3) rotate(-75)">Contracaecum</text>
<line x1="1232.9" y1="365.8" x2="1232.9" y2="371.9" stroke="#000" stroke-width="3"/>
<text text-anchor="end" font-style="italic" transform="translate(1238.2 382.3) rotate(-75)">Dicrocoelium</text>
<line x1="1254.4" y1="365.8" x2="1254.4" y2="371.9" stroke="#000" stroke-width="3"/>
<text text-anchor="end" font-style="italic" transform="translate(1259.7 382.3) rotate(-75)">Echinococcus</text>
<line x1="1275.9" y1="365.8" x2="1275.9" y2="371.9" stroke="#000" stroke-width="3"/>
<text text-anchor="end" font-style="italic" transform="translate(1281.2 382.3) rotate(-75)">Edwardsiella</text>
<line x1="1297.3" y1="365.8" x2="1297.3" y2="371.9" stroke="#000" stroke-width="3"/>
<text text-anchor="end" font-style="italic" transform="translate(1302.6 382.3) rotate(-75)">Eikenella</text>
<line x1="1318.8" y1="365.8" x2="1318.8" y2="371.9" stroke="#000" stroke-width="3"/>
<text text-anchor="end" font-style="italic" transform="translate(1324.1 382.3) rotate(-75)">Encephalitozoon</text>
<line x1="1340.3" y1="365.8" x2="1340.3" y2="371.9" stroke="#000" stroke-width="3"/>
<text text-anchor="end" font-style="italic" transform="translate(1345.6 382.3) rotate(-75)">Enterobius</text>
<line x1="1361.8" y1="365.8" x2="1361.8" y2="371.9" stroke="#000" stroke-width="3"/>
<text text-anchor="end" font-style="italic" transform="translate(1367.1 382.3) rotate(-75)">Flavobacterium</text>
<line x1="1383.3" y1="365.8" x2="1383.3" y2="371.9" stroke="#000" stroke-width="3"/>
<text text-anchor="end" font-style="italic" transform="translate(1388.6 382.3) rotate(-75)">Giardia</text>
<line x1="1404.7" y1="365.8" x2="1404.7" y2="371.9" stroke="#000" stroke-width="3"/>
<text text-anchor="end" font-style="italic" transform="translate(1410 382.3) rotate(-75)">Gnathostoma</text>
<line x1="1426.2" y1="365.8" x2="1426.2" y2="371.9" stroke="#000" stroke-width="3"/>
<text text-anchor="end" font-style="italic" transform="translate(1431.5 382.3) rotate(-75)">Haplorchis</text>
<line x1="1447.7" y1="365.8" x2="1447.7" y2="371.9" stroke="#000" stroke-width="3"/>
<text text-anchor="end" font-style="italic" transform="translate(1453 382.3) rotate(-75)">Hepeviridae</text>
<line x1="1469.2" y1="365.8" x2="1469.2" y2="371.9" stroke="#000" stroke-width="3"/>
<text text-anchor="end" font-style="italic" transform="translate(1474.5 382.3) rotate(-75)">Heteroconium</text>
<line x1="1490.7" y1="365.8" x2="1490.7" y2="371.9" stroke="#000" stroke-width="3"/>
<text text-anchor="end" font-style="italic" transform="translate(1496 382.3) rotate(-75)">Hymenolepis</text>
<line x1="1512.1" y1="365.8" x2="1512.1" y2="371.9" stroke="#000" stroke-width="3"/>
<text text-anchor="end" font-style="italic" transform="translate(1517.4 382.3) rotate(-75)">Kingella</text>
<line x1="1533.6" y1="365.8" x2="1533.6" y2="371.9" stroke="#000" stroke-width="3"/>
<text text-anchor="end" font-style="italic" transform="translate(1538.9 382.3) rotate(-75)">Loa</text>
<line x1="1555.1" y1="365.8" x2="1555.1" y2="371.9" stroke="#000" stroke-width="3"/>
<text text-anchor="end" font-style="italic" transform="translate(1560.4 382.3) rotate(-75)">Madurella</text>
<line x1="1576.6" y1="365.8" x2="1576.6" y2="371.9" stroke="#000" stroke-width="3"/>
<text text-anchor="end" font-style="italic" transform="translate(1581.9 382.3) rotate(-75)">Mansonella</text>
<line x1="1598.1" y1="365.8" x2="1598.1" y2="371.9" stroke="#000" stroke-width="3"/>
<text text-anchor="end" font-style="italic" transform="translate(1603.4 382.3) rotate(-75)">Nosema</text>
<line x1="1619.5" y1="365.8" x2="1619.5" y2="371.9" stroke="#000" stroke-width="3"/>
<text text-anchor="end" font-style="italic" transform="translate(1624.8 382.3) rotate(-75)">Paecilomyces</text>
<line x1="1641" y1="365.8" x2="1641" y2="371.9" stroke="#000" stroke-width="3"/>
<text text-anchor="end" font-style="italic" transform="translate(1646.3 382.3) rotate(-75)">Pneumocystis</text>
<line x1="1662.5" y1="365.8" x2="1662.5" y2="371.9" stroke="#000" stroke-width="3"/>
<text text-anchor="end" font-style="italic" transform="translate(1667.8 382.3) rotate(-75)">Providencia</text>
<line x1="1684" y1="365.8" x2="1684" y2="371.9" stroke="#000" stroke-width="3"/>
<text text-anchor="end" font-style="italic" transform="translate(1689.3 382.3) rotate(-75)">Pseudallescheria</text>
<line x1="1705.5" y1="365.8" x2="1705.5" y2="371.9" stroke="#000" stroke-width="3"/>
<text text-anchor="end" font-style="italic" transform="translate(1710.8 382.3) rotate(-75)">Saccharomyces</text>
<line x1="1726.9" y1="365.8" x2="1726.9" y2="371.9" stroke="#000" stroke-width="3"/>
<text text-anchor="end" font-style="italic" transform="translate(1732.2 382.3) rotate(-75)">Serratia</text>
<line x1="1748.4" y1="365.8" x2="1748.4" y2="371.9" stroke="#000" stroke-width="3"/>
<text text-anchor="end" font-style="italic" transform="translate(1753.7 382.3) rotate(-75)">Trichomonas</text>
<line x1="1769.9" y1="365.8" x2="1769.9" y2="371.9" stroke="#000" stroke-width="3"/>
<text text-anchor="end" font-style="italic" transform="translate(1775.2 382.3) rotate(-75)">Trypanosoma</text>
<text x="897" y="12.3">Violin Plot</text>
<text text-anchor="middle" font-size="21" transform="translate(842 192.6) rotate(-90)">hyb</text>
<path d="M916.7 93.9 L916.7 93.8 L916.8 93.6 L916.9 93.4 L916.9 93.2 L916.8 92.9 L916.4 92.5 L915.9 92 L915.3 91.5 L914.7 91 L914.3 90.4 L914 89.8 L913.8 89.1 L913.7 88.4 L913.6 87.7 L913.5 86.9 L913.3 86.1 L913.2 85.3 L913.1 84.4 L913 83.6 L912.9 82.7 L912.8 81.9 L912.7 81.1 L912.5 80.2 L912.4 79.4 L912.3 78.5 L912.1 77.6 L911.9 76.6 L911.8 75.6 L911.6 74.6 L911.5 73.6 L911.3 72.8 L911.2 72 L911.1 71.3 L911 70.2 L910.9 68.7 L910.9 66.4 L910.9 63.3 L910.9 60.2 L910.9 57.3 L910.9 55.4 L910.5 55.4 L910.5 57.3 L910.5 60.2 L910.5 63.3 L910.5 66.4 L910.5 68.7 L910.4 70.2 L910.3 71.3 L910.2 72 L910.1 72.8 L909.9 73.6 L909.8 74.6 L909.6 75.6 L909.5 76.6 L909.3 77.6 L909.1 78.5 L909 79.4 L908.9 80.2 L908.7 81.1 L908.6 81.9 L908.5 82.7 L908.4 83.6 L908.3 84.4 L908.2 85.3 L908.1 86.1 L907.9 86.9 L907.8 87.7 L907.7 88.4 L907.6 89.1 L907.4 89.8 L907.1 90.4 L906.7 91 L906.1 91.5 L905.5 92 L905 92.5 L904.6 92.9 L904.5 93.2 L904.5 93.4 L904.6 93.6 L904.7 93.8 L904.7 93.9Z" fill="#F8766D" stroke="#333" stroke-width="3" stroke-linejoin="round"/>
<path d="M934.3 93.9 L934.6 93.5 L935.1 93 L935.6 92.5 L936 91.8 L936.4 91.1 L936.7 90.4 L936.9 89.6 L937 88.7 L937.1 87.9 L937.1 86.9 L937 85.9 L936.8 84.8 L936.6 83.6 L936.4 82.4 L936.1 81.3 L935.9 80.2 L935.6 79.1 L935.3 77.9 L935 76.8 L934.7 75.7 L934.4 74.6 L934.2 73.5 L934 72.3 L933.8 71.2 L933.6 70.1 L933.5 69 L933.3 67.9 L933.2 66.8 L933.1 65.7 L932.9 64.5 L932.8 63.1 L932.7 61.5 L932.6 59.9 L932.5 58.5 L932.4 57.5 L931.9 57.5 L931.9 58.5 L931.8 59.9 L931.7 61.5 L931.5 63.1 L931.4 64.5 L931.3 65.7 L931.2 66.8 L931 67.9 L930.9 69 L930.7 70.1 L930.6 71.2 L930.4 72.3 L930.2 73.5 L929.9 74.6 L929.7 75.7 L929.4 76.8 L929.1 77.9 L928.8 79.1 L928.5 80.2 L928.2 81.3 L928 82.4 L927.7 83.6 L927.5 84.8 L927.4 85.9 L927.3 86.9 L927.3 87.9 L927.4 88.7 L927.5 89.6 L927.7 90.4 L927.9 91.1 L928.3 91.8 L928.8 92.5 L929.3 93 L929.8 93.5 L930.1 93.9Z" fill="#F8766D" stroke="#333" stroke-width="3" stroke-linejoin="round"/>
<path d="M959.6 93.9 L959.7 93.8 L959.8 93.6 L959.9 93.4 L959.9 93.2 L959.8 92.9 L959.4 92.5 L958.8 92 L958.2 91.5 L957.6 91 L957.1 90.4 L956.8 89.8 L956.6 89.2 L956.4 88.5 L956.3 87.8 L956.2 86.9 L956 85.9 L955.8 84.8 L955.7 83.6 L955.5 82.5 L955.4 81.3 L955.2 80.2 L955.1 79 L955 77.9 L954.8 76.8 L954.7 75.7 L954.5 74.8 L954.4 74 L954.2 73.2 L954.1 72.2 L954 70.8 L953.9 68.7 L953.9 66 L953.9 63.1 L953.9 60.6 L953.9 58.9 L953.5 58.9 L953.5 60.6 L953.5 63.1 L953.5 66 L953.4 68.7 L953.4 70.8 L953.3 72.2 L953.1 73.2 L952.9 74 L952.8 74.8 L952.6 75.7 L952.5 76.8 L952.4 77.9 L952.2 79 L952.1 80.2 L952 81.3 L951.8 82.5 L951.7 83.6 L951.5 84.8 L951.3 85.9 L951.2 86.9 L951 87.8 L950.9 88.5 L950.7 89.2 L950.5 89.8 L950.2 90.4 L949.8 91 L949.2 91.5 L948.5 92 L947.9 92.5 L947.6 92.9 L947.4 93.2 L947.4 93.4 L947.5 93.6 L947.6 93.8 L947.7 93.9Z" fill="#F8766D" stroke="#333" stroke-width="3" stroke-linejoin="round"/>
<path d="M977.2 93.9 L977.7 93.5 L978.3 92.9 L979 92.1 L979.7 91.3 L980.2 90.4 L980.7 89.4 L981.1 88.2 L981.5 87 L981.7 85.9 L981.7 84.8 L981.5 83.9 L981.1 83 L980.7 82.2 L980.1 81.4 L979.6 80.6 L979 79.9 L978.4 79.1 L977.7 78.5 L977.2 77.8 L976.7 77.1 L976.4 76.5 L976.2 75.9 L976.1 75.3 L976 74.6 L975.9 73.6 L975.8 72.6 L975.7 71.7 L975.6 70.4 L975.5 68.6 L975.4 65.9 L975.4 61.6 L975.4 55.9 L975.4 49.8 L975.3 44.4 L975.3 40.7 L974.9 40.7 L974.9 44.4 L974.9 49.8 L974.9 55.9 L974.9 61.6 L974.8 65.9 L974.8 68.6 L974.7 70.4 L974.6 71.7 L974.5 72.6 L974.4 73.6 L974.3 74.6 L974.2 75.3 L974.1 75.9 L973.9 76.5 L973.6 77.1 L973.1 77.8 L972.5 78.5 L971.9 79.1 L971.3 79.9 L970.7 80.6 L970.2 81.4 L969.6 82.2 L969.1 83 L968.8 83.9 L968.6 84.8 L968.6 85.9 L968.8 87 L969.2 88.2 L969.6 89.4 L970 90.4 L970.6 91.3 L971.3 92.1 L972 92.9 L972.6 93.5 L973 93.9Z" fill="#F8766D" stroke="#333" stroke-width="3" stroke-linejoin="round"/>
<path d="M998.4 93.2 L998.7 92.9 L999.2 92.4 L999.8 91.8 L1000.4 91.2 L1000.9 90.5 L1001.4 89.7 L1001.8 88.8 L1002.1 87.8 L1002.4 86.6 L1002.6 85.5 L1002.8 84.4 L1002.9 83.4 L1002.8 82.5 L1002.7 81.7 L1002.4 80.9 L1002.2 80.1 L1001.8 79.3 L1001.5 78.5 L1001.2 77.7 L1000.7 76.8 L1000.3 76 L999.8 75.2 L999.4 74.4 L999.1 73.6 L998.7 72.9 L998.4 72.2 L998.1 71.5 L997.9 70.8 L997.7 70.1 L997.5 69.4 L997.4 68.6 L997.3 67.6 L997.3 66.7 L997.3 65.8 L997.3 65 L997.3 64.5 L996 64.5 L996 65 L996 65.8 L995.9 66.7 L995.9 67.6 L995.8 68.6 L995.7 69.4 L995.5 70.1 L995.3 70.8 L995.1 71.5 L994.8 72.2 L994.5 72.9 L994.2 73.6 L993.8 74.4 L993.4 75.2 L992.9 76 L992.5 76.8 L992.1 77.7 L991.7 78.5 L991.4 79.3 L991.1 80.1 L990.8 80.9 L990.6 81.7 L990.4 82.5 L990.4 83.4 L990.5 84.4 L990.6 85.5 L990.8 86.6 L991.1 87.8 L991.5 88.8 L991.9 89.7 L992.3 90.5 L992.9 91.2 L993.4 91.8 L994 92.4 L994.5 92.9 L994.9 93.2Z" fill="#F8766D" stroke="#333" stroke-width="3" stroke-linejoin="round"/>
<path d="M1020.2 93.9 L1020.5 93.3 L1020.9 92.6 L1021.4 91.6 L1021.9 90.7 L1022.2 89.7 L1022.4 88.8 L1022.6 87.9 L1022.8 86.9 L1022.9 85.9 L1022.9 84.8 L1022.8 83.6 L1022.6 82.3 L1022.4 81 L1022.2 79.7 L1021.9 78.5 L1021.6 77.3 L1021.3 76.2 L1021 75.1 L1020.6 74 L1020.3 72.9 L1020.1 71.8 L1019.8 70.6 L1019.6 69.5 L1019.3 68.4 L1019.1 67.3 L1018.9 66.3 L1018.8 65.2 L1018.6 64.2 L1018.5 63.3 L1018.4 62.4 L1018.3 61.6 L1018.3 60.7 L1018.3 60 L1018.3 59.4 L1018.3 58.9 L1017.9 58.9 L1017.9 59.4 L1017.9 60 L1017.9 60.7 L1017.9 61.6 L1017.8 62.4 L1017.7 63.3 L1017.6 64.2 L1017.4 65.2 L1017.3 66.3 L1017.1 67.3 L1016.9 68.4 L1016.6 69.5 L1016.4 70.6 L1016.1 71.8 L1015.9 72.9 L1015.6 74 L1015.2 75.1 L1014.9 76.2 L1014.6 77.3 L1014.3 78.5 L1014 79.7 L1013.8 81 L1013.6 82.3 L1013.4 83.6 L1013.3 84.8 L1013.3 85.9 L1013.4 86.9 L1013.6 87.9 L1013.8 88.8 L1014 89.7 L1014.3 90.7 L1014.8 91.6 L1015.3 92.6 L1015.7 93.3 L1016 93.9Z" fill="#F8766D" stroke="#333" stroke-width="3" stroke-linejoin="round"/>
<path d="M1041 93.9 L1041.5 93.4 L1042.3 92.8 L1043.2 92 L1044 91.2 L1044.7 90.4 L1045.1 89.7 L1045.5 89 L1045.8 88.4 L1046.1 87.6 L1046.3 86.9 L1046.7 86.1 L1047.1 85.2 L1047.5 84.4 L1047.8 83.5 L1047.8 82.7 L1047.6 81.9 L1047.2 81.2 L1046.7 80.5 L1046.2 79.8 L1045.7 79.2 L1045.2 78.6 L1044.6 78 L1044.1 77.5 L1043.5 76.9 L1043 76.4 L1042.5 75.8 L1042.1 75.2 L1041.7 74.6 L1041.3 74 L1041 73.6 L1040.8 73.3 L1040.6 73.1 L1040.5 73 L1040.4 73 L1040.3 72.9 L1038.8 72.9 L1038.7 73 L1038.7 73 L1038.5 73.1 L1038.4 73.3 L1038.1 73.6 L1037.8 74 L1037.5 74.6 L1037.1 75.2 L1036.6 75.8 L1036.1 76.4 L1035.6 76.9 L1035.1 77.5 L1034.5 78 L1034 78.6 L1033.5 79.2 L1033 79.8 L1032.4 80.5 L1031.9 81.2 L1031.5 81.9 L1031.3 82.7 L1031.4 83.5 L1031.7 84.4 L1032 85.2 L1032.4 86.1 L1032.8 86.9 L1033.1 87.6 L1033.4 88.4 L1033.7 89 L1034 89.7 L1034.5 90.4 L1035.1 91.2 L1036 92 L1036.8 92.8 L1037.6 93.4 L1038.1 93.9Z" fill="#F8766D" stroke="#333" stroke-width="3" stroke-linejoin="round"/>
<path d="M1064.5 93.9 L1065.1 93.5 L1065.9 93 L1066.9 92.4 L1067.8 91.7 L1068.5 91.1 L1068.9 90.6 L1069.3 90 L1069.5 89.5 L1069.6 88.9 L1069.5 88.3 L1069.2 87.7 L1068.7 87 L1068 86.3 L1067.4 85.6 L1066.8 84.8 L1066.3 84 L1065.9 83.2 L1065.5 82.3 L1065 81.5 L1064.6 80.6 L1064.2 79.7 L1063.9 78.9 L1063.5 78 L1063.2 77.2 L1062.9 76.4 L1062.6 75.7 L1062.4 75 L1062.2 74.3 L1062 73.6 L1061.8 72.9 L1061.7 72 L1061.5 71.1 L1061.4 70.1 L1061.4 69.3 L1061.3 68.7 L1060.8 68.7 L1060.8 69.3 L1060.7 70.1 L1060.6 71.1 L1060.4 72 L1060.3 72.9 L1060.1 73.6 L1059.9 74.3 L1059.7 75 L1059.5 75.7 L1059.2 76.4 L1058.9 77.2 L1058.6 78 L1058.3 78.9 L1057.9 79.7 L1057.5 80.6 L1057.1 81.5 L1056.7 82.3 L1056.2 83.2 L1055.8 84 L1055.3 84.8 L1054.7 85.6 L1054.1 86.3 L1053.5 87 L1052.9 87.7 L1052.6 88.3 L1052.5 88.9 L1052.6 89.5 L1052.8 90 L1053.2 90.6 L1053.6 91.1 L1054.3 91.7 L1055.2 92.4 L1056.2 93 L1057 93.5 L1057.6 93.9Z" fill="#F8766D" stroke="#333" stroke-width="3" stroke-linejoin="round"/>
<path d="M1082.7 93.9 L1082.7 92.1 L1082.7 89.5 L1082.7 86.5 L1082.7 83.7 L1082.8 81.3 L1082.9 79.5 L1083.1 78.1 L1083.4 76.8 L1083.7 75.6 L1084 74.3 L1084.4 72.9 L1084.8 71.4 L1085.3 70 L1085.7 68.6 L1086.1 67.3 L1086.4 66.1 L1086.7 65 L1087 63.9 L1087.1 62.8 L1087.2 61.7 L1087 60.6 L1086.8 59.5 L1086.4 58.3 L1086.1 57.2 L1085.7 56.1 L1085.3 55 L1084.9 53.9 L1084.5 52.7 L1084.2 51.6 L1083.8 50.5 L1083.6 49.6 L1083.3 49 L1083.1 48.3 L1083 47.1 L1082.8 44.9 L1082.8 41.2 L1082.7 36.3 L1082.7 31.1 L1082.7 26.4 L1082.7 23.2 L1082.3 23.2 L1082.3 26.4 L1082.4 31.1 L1082.3 36.3 L1082.3 41.2 L1082.2 44.9 L1082.1 47.1 L1081.9 48.3 L1081.7 49 L1081.5 49.6 L1081.2 50.5 L1080.9 51.6 L1080.5 52.7 L1080.1 53.9 L1079.7 55 L1079.4 56.1 L1079 57.2 L1078.6 58.3 L1078.3 59.5 L1078 60.6 L1077.9 61.7 L1077.9 62.8 L1078.1 63.9 L1078.3 65 L1078.7 66.1 L1079 67.3 L1079.3 68.6 L1079.8 70 L1080.3 71.4 L1080.7 72.9 L1081.1 74.3 L1081.4 75.6 L1081.7 76.8 L1082 78.1 L1082.2 79.5 L1082.3 81.3 L1082.4 83.7 L1082.4 86.5 L1082.4 89.5 L1082.4 92.1 L1082.3 93.9Z" fill="#F8766D" stroke="#333" stroke-width="3" stroke-linejoin="round"/>
<path d="M1104.3 93.9 L1104.3 93.2 L1104.4 92.1 L1104.5 90.9 L1104.6 89.6 L1104.8 88.3 L1105 87 L1105.2 85.7 L1105.5 84.3 L1105.8 82.8 L1106 81.3 L1106.2 79.7 L1106.4 78.1 L1106.5 76.5 L1106.7 74.7 L1106.8 72.9 L1106.9 70.9 L1107 68.7 L1107.2 66.4 L1107.2 64.3 L1107.2 62.4 L1107.1 60.8 L1106.9 59.3 L1106.6 57.9 L1106.4 56.7 L1106.1 55.4 L1105.9 54.2 L1105.7 53.1 L1105.5 52 L1105.2 50.9 L1105.1 49.8 L1104.9 48.8 L1104.7 47.9 L1104.5 46.9 L1104.4 45.5 L1104.3 43.5 L1104.2 40.4 L1104.2 36.5 L1104.2 32.3 L1104.2 28.6 L1104.2 26 L1103.8 26 L1103.8 28.6 L1103.8 32.3 L1103.9 36.5 L1103.8 40.4 L1103.8 43.5 L1103.7 45.5 L1103.5 46.9 L1103.4 47.9 L1103.2 48.8 L1103 49.8 L1102.8 50.9 L1102.6 52 L1102.4 53.1 L1102.1 54.2 L1101.9 55.4 L1101.7 56.7 L1101.4 57.9 L1101.2 59.3 L1101 60.8 L1100.9 62.4 L1100.8 64.3 L1100.9 66.4 L1101 68.7 L1101.1 70.9 L1101.3 72.9 L1101.4 74.7 L1101.5 76.5 L1101.7 78.1 L1101.9 79.7 L1102.1 81.3 L1102.3 82.8 L1102.5 84.3 L1102.8 85.7 L1103 87 L1103.3 88.3 L1103.4 89.6 L1103.5 90.9 L1103.6 92.1 L1103.7 93.2 L1103.8 93.9Z" fill="#F8766D" stroke="#333" stroke-width="3" stroke-linejoin="round"/>
<path d="M1125.7 92.5 L1125.8 91.7 L1125.8 90.7 L1125.9 89.4 L1126.1 88.1 L1126.3 86.9 L1126.5 85.8 L1126.8 84.6 L1127.1 83.5 L1127.4 82.4 L1127.7 81.3 L1128.1 80.3 L1128.4 79.3 L1128.8 78.3 L1129.2 77.3 L1129.5 76.4 L1129.7 75.5 L1130 74.7 L1130.2 73.9 L1130.4 73.1 L1130.4 72.2 L1130.3 71.3 L1130 70.3 L1129.7 69.3 L1129.3 68.3 L1128.9 67.3 L1128.6 66.3 L1128.2 65.3 L1127.8 64.4 L1127.4 63.4 L1127.1 62.4 L1126.8 61.5 L1126.6 60.7 L1126.4 59.9 L1126.3 58.8 L1126.1 57.5 L1126 55.6 L1125.9 53.2 L1125.8 50.7 L1125.8 48.5 L1125.7 47 L1125.3 47 L1125.2 48.5 L1125.2 50.7 L1125.1 53.2 L1125 55.6 L1124.9 57.5 L1124.7 58.8 L1124.6 59.9 L1124.4 60.7 L1124.2 61.5 L1123.9 62.4 L1123.6 63.4 L1123.2 64.4 L1122.8 65.3 L1122.4 66.3 L1122.1 67.3 L1121.7 68.3 L1121.3 69.3 L1121 70.3 L1120.7 71.3 L1120.6 72.2 L1120.6 73.1 L1120.8 73.9 L1121 74.7 L1121.3 75.5 L1121.5 76.4 L1121.8 77.3 L1122.2 78.3 L1122.6 79.3 L1122.9 80.3 L1123.3 81.3 L1123.6 82.4 L1123.9 83.5 L1124.2 84.6 L1124.5 85.8 L1124.7 86.9 L1124.9 88.1 L1125.1 89.4 L1125.2 90.7 L1125.2 91.7 L1125.3 92.5Z" fill="#F8766D" stroke="#333" stroke-width="3" stroke-linejoin="round"/>
<path d="M1150.1 93.9 L1150.6 93.5 L1151.3 93 L1152.1 92.5 L1152.9 91.8 L1153.4 91.1 L1153.7 90.4 L1154 89.6 L1154.1 88.7 L1154.1 87.8 L1154.1 86.9 L1154 86 L1153.9 85 L1153.7 83.9 L1153.4 82.9 L1153.1 82 L1152.6 81.1 L1152 80.3 L1151.3 79.5 L1150.6 78.7 L1150.1 77.8 L1149.6 76.9 L1149.2 75.9 L1148.9 74.9 L1148.6 73.9 L1148.3 72.9 L1148 71.9 L1147.8 70.9 L1147.5 69.9 L1147.3 68.7 L1147.2 67.3 L1147.1 65.3 L1147.1 62.9 L1147.1 60.5 L1147.2 58.3 L1147.2 56.8 L1146.8 56.8 L1146.8 58.3 L1146.8 60.5 L1146.8 62.9 L1146.8 65.3 L1146.7 67.3 L1146.6 68.7 L1146.4 69.9 L1146.2 70.9 L1146 71.9 L1145.7 72.9 L1145.4 73.9 L1145.1 74.9 L1144.7 75.9 L1144.3 76.9 L1143.9 77.8 L1143.3 78.7 L1142.7 79.5 L1142 80.3 L1141.4 81.1 L1140.9 82 L1140.5 82.9 L1140.3 83.9 L1140.1 85 L1139.9 86 L1139.9 86.9 L1139.9 87.8 L1139.9 88.7 L1140 89.6 L1140.2 90.4 L1140.5 91.1 L1141.1 91.8 L1141.8 92.5 L1142.7 93 L1143.4 93.5 L1143.9 93.9Z" fill="#F8766D" stroke="#333" stroke-width="3" stroke-linejoin="round"/>
<path d="M1170.6 93.9 L1170.8 93.6 L1171.2 93.2 L1171.7 92.7 L1172.2 92.2 L1172.6 91.6 L1172.9 91.1 L1173.1 90.6 L1173.3 90.1 L1173.5 89.7 L1173.6 89.1 L1173.6 88.4 L1173.6 87.6 L1173.4 86.6 L1173.1 85.3 L1172.8 84 L1172.4 82.6 L1172.1 81.2 L1171.8 79.9 L1171.5 78.7 L1171.2 77.5 L1171 76.4 L1170.8 75.2 L1170.5 74.1 L1170.3 72.9 L1170.1 71.8 L1169.8 70.7 L1169.6 69.6 L1169.4 68.4 L1169.2 67.2 L1169.1 65.9 L1169 64.3 L1168.9 62.5 L1168.8 60.6 L1168.7 58.7 L1168.7 57.2 L1168.7 56.1 L1168.3 56.1 L1168.2 57.2 L1168.2 58.7 L1168.1 60.6 L1168 62.5 L1167.9 64.3 L1167.8 65.9 L1167.7 67.2 L1167.5 68.4 L1167.3 69.6 L1167.1 70.7 L1166.9 71.8 L1166.6 72.9 L1166.4 74.1 L1166.2 75.2 L1165.9 76.4 L1165.7 77.5 L1165.4 78.7 L1165.2 79.9 L1164.9 81.2 L1164.5 82.6 L1164.1 84 L1163.8 85.3 L1163.5 86.6 L1163.4 87.6 L1163.3 88.4 L1163.3 89.1 L1163.4 89.7 L1163.6 90.1 L1163.8 90.6 L1164 91.1 L1164.3 91.6 L1164.8 92.2 L1165.2 92.7 L1165.7 93.2 L1166.1 93.6 L1166.4 93.9Z" fill="#F8766D" stroke="#333" stroke-width="3" stroke-linejoin="round"/>
<path d="M1191.1 93.9 L1191.4 93.4 L1191.9 92.8 L1192.5 92.1 L1193 91.2 L1193.4 90.4 L1193.7 89.5 L1193.9 88.6 L1194 87.7 L1194.2 86.6 L1194.3 85.5 L1194.4 84.2 L1194.6 82.8 L1194.7 81.3 L1194.7 79.8 L1194.7 78.5 L1194.6 77.3 L1194.4 76.2 L1194.1 75.1 L1193.8 74 L1193.5 72.9 L1193.2 71.8 L1192.8 70.7 L1192.4 69.5 L1192 68.4 L1191.7 67.3 L1191.4 66.1 L1191.2 65 L1190.9 63.8 L1190.7 62.7 L1190.6 61.7 L1190.4 60.8 L1190.3 60 L1190.2 59.2 L1190.2 58.6 L1190.1 58.2 L1189.7 58.2 L1189.7 58.6 L1189.6 59.2 L1189.6 60 L1189.4 60.8 L1189.3 61.7 L1189.1 62.7 L1188.9 63.8 L1188.7 65 L1188.5 66.1 L1188.2 67.3 L1187.8 68.4 L1187.5 69.5 L1187.1 70.7 L1186.7 71.8 L1186.4 72.9 L1186.1 74 L1185.8 75.1 L1185.5 76.2 L1185.3 77.3 L1185.2 78.5 L1185.1 79.8 L1185.2 81.3 L1185.3 82.8 L1185.4 84.2 L1185.6 85.5 L1185.7 86.6 L1185.8 87.7 L1186 88.6 L1186.2 89.5 L1186.5 90.4 L1186.9 91.2 L1187.4 92.1 L1188 92.8 L1188.4 93.4 L1188.8 93.9Z" fill="#F8766D" stroke="#333" stroke-width="3" stroke-linejoin="round"/>
<path d="M1214.2 93.6 L1214.8 93.3 L1215.6 92.9 L1216.6 92.4 L1217.6 91.9 L1218.5 91.4 L1219.2 90.8 L1219.6 90.1 L1220 89.3 L1220.2 88.5 L1220.4 87.7 L1220.4 86.9 L1220.4 86.2 L1220.3 85.5 L1220.1 84.9 L1219.8 84.3 L1219.4 83.8 L1219 83.2 L1218.5 82.7 L1218 82.2 L1217.4 81.7 L1216.7 81.3 L1216 80.8 L1215.4 80.4 L1214.9 79.9 L1214.4 79.4 L1213.9 79 L1213.5 78.6 L1213.2 78.1 L1212.9 77.6 L1212.6 77.1 L1212.3 76.4 L1212.1 75.6 L1212 74.8 L1211.8 74 L1211.7 73.4 L1211.7 72.9 L1211.2 72.9 L1211.1 73.4 L1211 74 L1210.9 74.8 L1210.7 75.6 L1210.5 76.4 L1210.3 77.1 L1210 77.6 L1209.6 78.1 L1209.3 78.6 L1208.9 79 L1208.5 79.4 L1208 79.9 L1207.4 80.4 L1206.8 80.8 L1206.1 81.3 L1205.5 81.7 L1204.8 82.2 L1204.3 82.7 L1203.9 83.2 L1203.5 83.8 L1203.1 84.3 L1202.8 84.9 L1202.6 85.5 L1202.5 86.2 L1202.4 86.9 L1202.5 87.7 L1202.6 88.5 L1202.9 89.3 L1203.2 90.1 L1203.7 90.8 L1204.3 91.4 L1205.2 91.9 L1206.2 92.4 L1207.2 92.9 L1208.1 93.3 L1208.7 93.6Z" fill="#F8766D" stroke="#333" stroke-width="3" stroke-linejoin="round"/>
<path d="M1237.3 93.9 L1237.8 93.6 L1238.6 93.2 L1239.4 92.7 L1240.1 92.3 L1240.7 91.8 L1241 91.4 L1241.3 91 L1241.4 90.6 L1241.4 90.2 L1241.3 89.7 L1241.1 89.1 L1240.7 88.4 L1240.2 87.7 L1239.7 86.9 L1239.3 86.2 L1239 85.5 L1238.7 84.8 L1238.5 84.2 L1238.2 83.4 L1237.8 82.7 L1237.4 81.9 L1236.8 81.1 L1236.3 80.3 L1235.8 79.4 L1235.3 78.5 L1235 77.6 L1234.6 76.6 L1234.3 75.5 L1234 74.5 L1233.8 73.6 L1233.6 72.6 L1233.4 71.7 L1233.3 70.7 L1233.2 70 L1233.1 69.4 L1232.7 69.4 L1232.6 70 L1232.5 70.7 L1232.4 71.7 L1232.2 72.6 L1232 73.6 L1231.8 74.5 L1231.5 75.5 L1231.2 76.6 L1230.8 77.6 L1230.5 78.5 L1230 79.4 L1229.5 80.3 L1229 81.1 L1228.4 81.9 L1228 82.7 L1227.6 83.4 L1227.3 84.2 L1227.1 84.8 L1226.8 85.5 L1226.5 86.2 L1226.1 86.9 L1225.6 87.7 L1225.1 88.4 L1224.7 89.1 L1224.5 89.7 L1224.4 90.2 L1224.4 90.6 L1224.5 91 L1224.8 91.4 L1225.1 91.8 L1225.7 92.3 L1226.4 92.7 L1227.2 93.2 L1228 93.6 L1228.5 93.9Z" fill="#F8766D" stroke="#333" stroke-width="3" stroke-linejoin="round"/>
<path d="M1256.5 93.9 L1256.8 93.6 L1257.2 93.2 L1257.6 92.7 L1258.2 92.1 L1258.7 91.5 L1259.2 90.9 L1259.7 90.3 L1260.1 89.7 L1260.6 89.1 L1261 88.5 L1261.4 87.9 L1261.8 87.3 L1262.2 86.7 L1262.5 86 L1262.6 85.4 L1262.7 84.8 L1262.6 84.2 L1262.3 83.6 L1261.9 82.9 L1261.4 82.3 L1260.9 81.7 L1260.4 81.1 L1259.9 80.5 L1259.5 79.9 L1259.1 79.3 L1258.6 78.7 L1258.1 78.1 L1257.7 77.5 L1257.2 77 L1256.8 76.5 L1256.5 76 L1256.1 75.7 L1255.9 75.5 L1255.7 75.3 L1255.6 75.3 L1255.4 75.3 L1255.3 75.3 L1255.3 75.3 L1255.2 75.4 L1255.1 75.4 L1253.6 75.4 L1253.6 75.4 L1253.5 75.3 L1253.4 75.3 L1253.3 75.3 L1253.2 75.3 L1253.1 75.3 L1252.9 75.5 L1252.6 75.7 L1252.3 76 L1251.9 76.5 L1251.5 77 L1251.1 77.5 L1250.6 78.1 L1250.2 78.7 L1249.7 79.3 L1249.3 79.9 L1248.8 80.5 L1248.3 81.1 L1247.8 81.7 L1247.3 82.3 L1246.9 82.9 L1246.5 83.6 L1246.2 84.2 L1246.1 84.8 L1246.1 85.4 L1246.3 86 L1246.6 86.7 L1246.9 87.3 L1247.3 87.9 L1247.8 88.5 L1248.2 89.1 L1248.6 89.7 L1249 90.3 L1249.5 90.9 L1250.1 91.5 L1250.6 92.1 L1251.1 92.7 L1251.6 93.2 L1252 93.6 L1252.3 93.9Z" fill="#F8766D" stroke="#333" stroke-width="3" stroke-linejoin="round"/>
<path d="M1278.6 93.9 L1279.1 93.5 L1279.7 93 L1280.4 92.4 L1281.1 91.7 L1281.6 91.1 L1282 90.5 L1282.2 89.8 L1282.4 89.1 L1282.4 88.4 L1282.4 87.6 L1282.3 86.7 L1282 85.7 L1281.7 84.7 L1281.3 83.7 L1281 82.7 L1280.6 81.7 L1280.2 80.7 L1279.8 79.8 L1279.4 78.8 L1279 77.8 L1278.6 76.8 L1278.2 75.8 L1277.8 74.8 L1277.5 73.8 L1277.2 72.9 L1276.9 72.1 L1276.7 71.3 L1276.5 70.6 L1276.3 69.7 L1276.2 68.7 L1276.1 67.3 L1276.1 65.6 L1276 63.9 L1276.1 62.4 L1276.1 61.4 L1275.7 61.4 L1275.7 62.4 L1275.7 63.9 L1275.7 65.6 L1275.6 67.3 L1275.6 68.7 L1275.4 69.7 L1275.3 70.6 L1275.1 71.3 L1274.8 72.1 L1274.6 72.9 L1274.3 73.8 L1273.9 74.8 L1273.5 75.8 L1273.1 76.8 L1272.8 77.8 L1272.4 78.8 L1271.9 79.8 L1271.5 80.7 L1271.1 81.7 L1270.8 82.7 L1270.4 83.7 L1270 84.7 L1269.7 85.7 L1269.4 86.7 L1269.3 87.6 L1269.3 88.4 L1269.3 89.1 L1269.5 89.8 L1269.8 90.5 L1270.1 91.1 L1270.6 91.7 L1271.3 92.4 L1272 93 L1272.7 93.5 L1273.1 93.9Z" fill="#F8766D" stroke="#333" stroke-width="3" stroke-linejoin="round"/>
<path d="M1300.4 93.9 L1300.9 93.6 L1301.5 93.1 L1302.2 92.6 L1302.8 92 L1303.3 91.5 L1303.6 90.9 L1303.8 90.3 L1304 89.7 L1304 89.1 L1303.9 88.3 L1303.7 87.4 L1303.3 86.4 L1302.9 85.4 L1302.4 84.4 L1302 83.4 L1301.6 82.5 L1301.2 81.7 L1300.7 80.9 L1300.3 80.1 L1300 79.2 L1299.6 78.3 L1299.3 77.3 L1298.9 76.2 L1298.6 75.2 L1298.4 74.3 L1298.1 73.5 L1298 72.7 L1297.8 71.9 L1297.7 71.1 L1297.6 70.1 L1297.5 68.8 L1297.5 67.3 L1297.5 65.7 L1297.5 64.4 L1297.5 63.5 L1297.1 63.5 L1297.1 64.4 L1297.2 65.7 L1297.2 67.3 L1297.2 68.8 L1297.1 70.1 L1297 71.1 L1296.9 71.9 L1296.7 72.7 L1296.5 73.5 L1296.3 74.3 L1296 75.2 L1295.7 76.2 L1295.4 77.3 L1295.1 78.3 L1294.7 79.2 L1294.3 80.1 L1293.9 80.9 L1293.5 81.7 L1293.1 82.5 L1292.7 83.4 L1292.3 84.4 L1291.8 85.4 L1291.4 86.4 L1291 87.4 L1290.8 88.3 L1290.7 89.1 L1290.7 89.7 L1290.8 90.3 L1291.1 90.9 L1291.4 91.5 L1291.8 92 L1292.5 92.6 L1293.2 93.1 L1293.8 93.6 L1294.2 93.9Z" fill="#F8766D" stroke="#333" stroke-width="3" stroke-linejoin="round"/>
<path d="M1321.3 93.9 L1321.5 93.5 L1321.9 92.9 L1322.3 92.1 L1322.7 91.3 L1323.1 90.4 L1323.3 89.4 L1323.5 88.3 L1323.7 87.1 L1323.8 85.9 L1323.9 84.8 L1323.8 83.8 L1323.7 82.8 L1323.5 81.9 L1323.3 80.9 L1323.1 79.9 L1322.8 78.8 L1322.4 77.7 L1322 76.6 L1321.6 75.4 L1321.3 74.3 L1320.9 73.2 L1320.6 72 L1320.3 70.9 L1320 69.8 L1319.7 68.7 L1319.5 67.7 L1319.4 66.8 L1319.2 65.8 L1319.1 64.9 L1319.1 63.8 L1319 62.5 L1319 61.1 L1319 59.6 L1319 58.4 L1319 57.5 L1318.6 57.5 L1318.6 58.4 L1318.6 59.6 L1318.6 61.1 L1318.6 62.5 L1318.6 63.8 L1318.5 64.9 L1318.4 65.8 L1318.3 66.8 L1318.1 67.7 L1317.9 68.7 L1317.7 69.8 L1317.4 70.9 L1317.1 72 L1316.7 73.2 L1316.4 74.3 L1316 75.4 L1315.6 76.6 L1315.2 77.7 L1314.9 78.8 L1314.6 79.9 L1314.3 80.9 L1314.1 81.9 L1313.9 82.8 L1313.8 83.8 L1313.8 84.8 L1313.8 85.9 L1313.9 87.1 L1314.1 88.3 L1314.3 89.4 L1314.6 90.4 L1314.9 91.3 L1315.3 92.1 L1315.7 92.9 L1316.1 93.5 L1316.4 93.9Z" fill="#F8766D" stroke="#333" stroke-width="3" stroke-linejoin="round"/>
<path d="M1341.2 93.9 L1341.5 93.2 L1342 92.3 L1342.5 91.2 L1343 90.1 L1343.5 89 L1344 87.9 L1344.5 86.7 L1345 85.6 L1345.4 84.4 L1345.5 83.4 L1345.4 82.5 L1345.1 81.7 L1344.7 80.9 L1344.3 80.1 L1343.9 79.2 L1343.5 78.3 L1343.1 77.3 L1342.7 76.3 L1342.4 75.3 L1342.1 74.3 L1341.8 73.4 L1341.5 72.6 L1341.3 71.8 L1341.1 70.7 L1340.9 69.4 L1340.8 67.8 L1340.7 66 L1340.6 63.9 L1340.5 61.6 L1340.5 58.9 L1340.5 55.5 L1340.5 51.3 L1340.5 47 L1340.5 43.3 L1340.5 40.7 L1340.1 40.7 L1340.1 43.3 L1340.1 47 L1340.1 51.3 L1340.1 55.5 L1340.1 58.9 L1340.1 61.6 L1340 63.9 L1339.9 66 L1339.8 67.8 L1339.7 69.4 L1339.5 70.7 L1339.3 71.8 L1339.1 72.6 L1338.8 73.4 L1338.5 74.3 L1338.2 75.3 L1337.9 76.3 L1337.5 77.3 L1337.1 78.3 L1336.7 79.2 L1336.3 80.1 L1335.9 80.9 L1335.5 81.7 L1335.2 82.5 L1335.1 83.4 L1335.2 84.4 L1335.6 85.6 L1336.1 86.7 L1336.6 87.9 L1337.1 89 L1337.6 90.1 L1338.1 91.2 L1338.6 92.3 L1339.1 93.2 L1339.4 93.9Z" fill="#F8766D" stroke="#333" stroke-width="3" stroke-linejoin="round"/>
<path d="M1364.5 93.9 L1364.9 93.5 L1365.4 93 L1366 92.4 L1366.5 91.7 L1366.9 91.1 L1367.2 90.5 L1367.4 89.8 L1367.5 89.1 L1367.6 88.4 L1367.5 87.6 L1367.4 86.7 L1367.2 85.7 L1366.9 84.7 L1366.5 83.7 L1366.2 82.7 L1365.9 81.7 L1365.6 80.7 L1365.2 79.8 L1364.9 78.8 L1364.5 77.8 L1364.2 76.8 L1363.9 75.8 L1363.6 74.9 L1363.3 73.9 L1363 72.9 L1362.8 72 L1362.6 71.1 L1362.4 70.2 L1362.2 69.2 L1362.1 68 L1362 66.5 L1362 64.8 L1362 63 L1362 61.4 L1362 60.3 L1361.6 60.3 L1361.6 61.4 L1361.6 63 L1361.6 64.8 L1361.6 66.5 L1361.5 68 L1361.4 69.2 L1361.2 70.2 L1361 71.1 L1360.8 72 L1360.5 72.9 L1360.3 73.9 L1360 74.9 L1359.7 75.8 L1359.3 76.8 L1359 77.8 L1358.7 78.8 L1358.3 79.8 L1358 80.7 L1357.7 81.7 L1357.3 82.7 L1357 83.7 L1356.7 84.7 L1356.4 85.7 L1356.1 86.7 L1356 87.6 L1356 88.4 L1356.1 89.1 L1356.2 89.8 L1356.4 90.5 L1356.7 91.1 L1357.1 91.7 L1357.6 92.4 L1358.2 93 L1358.7 93.5 L1359 93.9Z" fill="#F8766D" stroke="#333" stroke-width="3" stroke-linejoin="round"/>
<path d="M1387.5 93.9 L1387.5 93.9 L1387.6 93.9 L1387.6 93.9 L1387.7 93.8 L1387.7 93.5 L1387.7 92.9 L1387.7 91.8 L1387.7 90.3 L1387.6 88.7 L1387.6 87 L1387.5 85.4 L1387.4 84.1 L1387.2 83.1 L1387 82.3 L1386.7 81.7 L1386.4 81.1 L1386.1 80.5 L1385.9 79.9 L1385.7 79.3 L1385.4 78.7 L1385.2 78.2 L1385 77.6 L1384.7 77.1 L1384.6 76.4 L1384.4 76 L1384.3 76.1 L1384.2 76 L1384.1 75.5 L1384 74.2 L1383.9 71.5 L1383.8 66.8 L1383.7 60.2 L1383.6 52.8 L1383.6 45.5 L1383.5 39.1 L1383.5 34.8 L1383.1 34.8 L1383 39.1 L1383 45.5 L1382.9 52.8 L1382.8 60.2 L1382.7 66.8 L1382.6 71.5 L1382.5 74.2 L1382.4 75.5 L1382.3 76 L1382.2 76.1 L1382.1 76 L1382 76.4 L1381.8 77.1 L1381.6 77.6 L1381.3 78.2 L1381.1 78.7 L1380.9 79.3 L1380.6 79.9 L1380.4 80.5 L1380.1 81.1 L1379.8 81.7 L1379.6 82.3 L1379.3 83.1 L1379.2 84.1 L1379 85.4 L1378.9 87 L1378.9 88.7 L1378.9 90.3 L1378.8 91.8 L1378.8 92.9 L1378.8 93.5 L1378.9 93.8 L1378.9 93.9 L1379 93.9 L1379 93.9 L1379 93.9Z" fill="#F8766D" stroke="#333" stroke-width="3" stroke-linejoin="round"/>
<path d="M1405.9 93.9 L1406.4 93.3 L1407 92.5 L1407.7 91.6 L1408.4 90.6 L1409 89.7 L1409.4 88.9 L1409.7 88 L1409.9 87.2 L1410.1 86.3 L1410.3 85.5 L1410.5 84.7 L1410.6 83.9 L1410.7 83 L1410.7 82.2 L1410.6 81.3 L1410.5 80.4 L1410.4 79.4 L1410.2 78.3 L1409.9 77.3 L1409.6 76.4 L1409.3 75.5 L1408.9 74.6 L1408.4 73.8 L1408 73 L1407.6 72.2 L1407.3 71.4 L1407 70.7 L1406.7 70 L1406.4 69.3 L1406.2 68.7 L1406 68.1 L1405.9 67.4 L1405.8 66.8 L1405.7 66.3 L1405.6 65.9 L1403.8 65.9 L1403.8 66.3 L1403.7 66.8 L1403.6 67.4 L1403.5 68.1 L1403.3 68.7 L1403.1 69.3 L1402.8 70 L1402.5 70.7 L1402.2 71.4 L1401.8 72.2 L1401.5 73 L1401 73.8 L1400.6 74.6 L1400.2 75.5 L1399.8 76.4 L1399.6 77.3 L1399.3 78.3 L1399.1 79.4 L1398.9 80.4 L1398.8 81.3 L1398.8 82.2 L1398.8 83 L1398.9 83.9 L1399 84.7 L1399.2 85.5 L1399.3 86.3 L1399.6 87.2 L1399.8 88 L1400.1 88.9 L1400.5 89.7 L1401.1 90.6 L1401.8 91.6 L1402.5 92.5 L1403.1 93.3 L1403.6 93.9Z" fill="#F8766D" stroke="#333" stroke-width="3" stroke-linejoin="round"/>
<path d="M1430.7 93.9 L1430.9 93.6 L1431.2 93.3 L1431.6 92.9 L1431.9 92.4 L1432.2 91.8 L1432.4 91.1 L1432.5 90.3 L1432.5 89.4 L1432.6 88.5 L1432.5 87.6 L1432.4 86.7 L1432.2 85.7 L1432 84.6 L1431.8 83.6 L1431.5 82.7 L1431.3 81.8 L1431 81 L1430.7 80.1 L1430.3 79.3 L1430 78.5 L1429.6 77.6 L1429.2 76.8 L1428.8 75.9 L1428.4 75.1 L1428.1 74.3 L1427.8 73.6 L1427.6 72.9 L1427.4 72.2 L1427.2 71.6 L1427.1 70.8 L1427 69.9 L1427 68.8 L1426.9 67.8 L1426.9 66.9 L1426.9 66.2 L1425.6 66.2 L1425.6 66.9 L1425.5 67.8 L1425.5 68.8 L1425.4 69.9 L1425.3 70.8 L1425.2 71.6 L1425 72.2 L1424.9 72.9 L1424.6 73.6 L1424.4 74.3 L1424.1 75.1 L1423.7 75.9 L1423.2 76.8 L1422.8 77.6 L1422.5 78.5 L1422.1 79.3 L1421.8 80.1 L1421.5 81 L1421.2 81.8 L1420.9 82.7 L1420.7 83.6 L1420.4 84.6 L1420.2 85.7 L1420 86.7 L1419.9 87.6 L1419.9 88.5 L1419.9 89.4 L1420 90.3 L1420.1 91.1 L1420.3 91.8 L1420.5 92.4 L1420.9 92.9 L1421.2 93.3 L1421.6 93.6 L1421.8 93.9Z" fill="#F8766D" stroke="#333" stroke-width="3" stroke-linejoin="round"/>
<path d="M1449 93.9 L1449.5 93.3 L1450.2 92.5 L1450.9 91.5 L1451.7 90.5 L1452.3 89.7 L1452.8 89.1 L1453.3 88.5 L1453.6 88 L1454 87.4 L1454.3 86.9 L1454.7 86.4 L1455.1 85.8 L1455.5 85.3 L1455.8 84.7 L1455.8 84.1 L1455.6 83.5 L1455.1 82.8 L1454.6 82.1 L1454 81.4 L1453.5 80.6 L1453 79.8 L1452.6 79 L1452.1 78.1 L1451.7 77.3 L1451.3 76.4 L1450.8 75.5 L1450.4 74.7 L1450 73.8 L1449.6 73 L1449.3 72.2 L1449 71.5 L1448.8 70.8 L1448.7 70.3 L1448.6 69.8 L1448.5 69.4 L1446.9 69.4 L1446.8 69.8 L1446.7 70.3 L1446.6 70.8 L1446.4 71.5 L1446.1 72.2 L1445.8 73 L1445.4 73.8 L1445 74.7 L1444.6 75.5 L1444.1 76.4 L1443.7 77.3 L1443.3 78.1 L1442.8 79 L1442.4 79.8 L1441.9 80.6 L1441.4 81.4 L1440.8 82.1 L1440.3 82.8 L1439.8 83.5 L1439.6 84.1 L1439.6 84.7 L1439.9 85.3 L1440.3 85.8 L1440.7 86.4 L1441.1 86.9 L1441.4 87.4 L1441.8 88 L1442.1 88.5 L1442.6 89.1 L1443.1 89.7 L1443.7 90.5 L1444.5 91.5 L1445.2 92.5 L1445.9 93.3 L1446.4 93.9Z" fill="#F8766D" stroke="#333" stroke-width="3" stroke-linejoin="round"/>
<path d="M1472.1 93.9 L1472.8 93.5 L1473.9 93 L1475 92.4 L1475.8 91.8 L1476.3 91.3 L1476.6 90.8 L1476.7 90.3 L1476.6 89.7 L1476.2 88.9 L1475.6 88 L1474.9 87.1 L1474.3 86.2 L1473.8 85.5 L1473.4 84.8 L1473.1 84.1 L1473 83.4 L1473.1 82.6 L1473.5 81.7 L1473.8 80.7 L1474.1 79.9 L1474.2 79.2 L1474.2 78.5 L1474.2 77.8 L1473.9 77.1 L1473.4 76.3 L1472.7 75.4 L1471.9 74.4 L1471.3 73.6 L1470.9 72.9 L1470.5 72.4 L1470.3 71.7 L1470.1 70.8 L1469.9 69.4 L1469.9 67.7 L1469.8 66 L1469.8 64.9 L1468.5 64.9 L1468.5 66 L1468.5 67.7 L1468.4 69.4 L1468.3 70.8 L1468.1 71.7 L1467.8 72.4 L1467.5 72.9 L1467.1 73.6 L1466.5 74.4 L1465.7 75.4 L1464.9 76.3 L1464.4 77.1 L1464.2 77.8 L1464.1 78.5 L1464.2 79.2 L1464.3 79.9 L1464.5 80.7 L1464.9 81.7 L1465.2 82.6 L1465.3 83.4 L1465.2 84.1 L1464.9 84.8 L1464.5 85.5 L1464.1 86.2 L1463.5 87.1 L1462.8 88 L1462.1 88.9 L1461.7 89.7 L1461.7 90.3 L1461.8 90.8 L1462.1 91.3 L1462.5 91.8 L1463.4 92.4 L1464.5 93 L1465.5 93.5 L1466.3 93.9Z" fill="#F8766D" stroke="#333" stroke-width="3" stroke-linejoin="round"/>
<path d="M1492.8 93.6 L1493.3 93 L1494 92.2 L1494.7 91.2 L1495.3 90.4 L1495.6 89.7 L1495.8 89.1 L1495.8 88.4 L1495.8 87.6 L1495.5 86.6 L1495.1 85.5 L1494.6 84.4 L1494.5 83.4 L1494.7 82.5 L1495.2 81.6 L1495.7 80.7 L1496.1 79.9 L1496.4 79.2 L1496.6 78.5 L1496.8 77.8 L1496.7 77.1 L1496.3 76.3 L1495.7 75.4 L1495 74.4 L1494.4 73.6 L1493.9 72.9 L1493.3 72.2 L1492.9 71.5 L1492.4 70.8 L1492.1 70.1 L1491.8 69.5 L1491.6 68.8 L1491.4 68 L1491.3 66.9 L1491.3 65.5 L1491.3 64.3 L1491.3 63.5 L1490 63.5 L1490 64.3 L1490 65.5 L1490 66.9 L1489.9 68 L1489.7 68.8 L1489.5 69.5 L1489.2 70.1 L1488.9 70.8 L1488.5 71.5 L1488 72.2 L1487.4 72.9 L1486.9 73.6 L1486.3 74.4 L1485.6 75.4 L1485 76.3 L1484.6 77.1 L1484.6 77.8 L1484.7 78.5 L1484.9 79.2 L1485.2 79.9 L1485.6 80.7 L1486.1 81.6 L1486.6 82.5 L1486.8 83.4 L1486.7 84.4 L1486.3 85.5 L1485.8 86.6 L1485.6 87.6 L1485.5 88.4 L1485.6 89.1 L1485.7 89.7 L1486 90.4 L1486.6 91.2 L1487.3 92.2 L1488.1 93 L1488.6 93.6Z" fill="#F8766D" stroke="#333" stroke-width="3" stroke-linejoin="round"/>
<path d="M1515.7 93.9 L1516.1 93.6 L1516.6 93.2 L1517.2 92.6 L1517.7 92.1 L1518.1 91.5 L1518.4 90.8 L1518.5 90 L1518.6 89.2 L1518.6 88.4 L1518.6 87.6 L1518.4 86.8 L1518.2 85.9 L1517.9 85.1 L1517.6 84.2 L1517.2 83.4 L1516.9 82.6 L1516.6 81.8 L1516.2 80.9 L1515.8 80.1 L1515.4 79.2 L1515 78.2 L1514.6 77.2 L1514.1 76.2 L1513.7 75.2 L1513.4 74.3 L1513.2 73.6 L1513.1 73 L1513 72.4 L1513 71.7 L1512.9 70.8 L1512.8 69.5 L1512.7 67.8 L1512.6 66 L1512.5 64.5 L1512.4 63.5 L1511.8 63.5 L1511.8 64.5 L1511.7 66 L1511.6 67.8 L1511.5 69.5 L1511.4 70.8 L1511.3 71.7 L1511.2 72.4 L1511.2 73 L1511 73.6 L1510.8 74.3 L1510.5 75.2 L1510.1 76.2 L1509.7 77.2 L1509.3 78.2 L1508.8 79.2 L1508.5 80.1 L1508.1 80.9 L1507.7 81.8 L1507.4 82.6 L1507 83.4 L1506.7 84.2 L1506.4 85.1 L1506.1 85.9 L1505.9 86.8 L1505.7 87.6 L1505.7 88.4 L1505.7 89.2 L1505.8 90 L1505.9 90.8 L1506.2 91.5 L1506.6 92.1 L1507.1 92.6 L1507.7 93.2 L1508.2 93.6 L1508.6 93.9Z" fill="#F8766D" stroke="#333" stroke-width="3" stroke-linejoin="round"/>
<path d="M1535.4 93.9 L1535.7 93.4 L1536.2 92.8 L1536.7 92 L1537.2 91.2 L1537.6 90.4 L1537.8 89.7 L1538 89.1 L1538 88.5 L1538.1 87.7 L1538.1 86.9 L1538 85.9 L1537.8 84.9 L1537.6 83.7 L1537.4 82.5 L1537.2 81.3 L1537 80 L1536.7 78.6 L1536.5 77.2 L1536.3 75.7 L1536.1 74.3 L1535.8 72.9 L1535.6 71.5 L1535.4 70.1 L1535.2 68.7 L1535.1 67.3 L1534.9 66 L1534.8 64.7 L1534.6 63.4 L1534.5 62 L1534.4 60.3 L1534.3 58.1 L1534.1 55.5 L1534 52.8 L1533.9 50.4 L1533.8 48.8 L1533.4 48.8 L1533.3 50.4 L1533.2 52.8 L1533.1 55.5 L1533 58.1 L1532.9 60.3 L1532.7 62 L1532.6 63.4 L1532.5 64.7 L1532.3 66 L1532.2 67.3 L1532 68.7 L1531.8 70.1 L1531.6 71.5 L1531.4 72.9 L1531.2 74.3 L1531 75.7 L1530.7 77.2 L1530.5 78.6 L1530.3 80 L1530.1 81.3 L1529.8 82.5 L1529.6 83.7 L1529.4 84.9 L1529.3 85.9 L1529.2 86.9 L1529.2 87.7 L1529.2 88.5 L1529.3 89.1 L1529.4 89.7 L1529.7 90.4 L1530 91.2 L1530.5 92 L1531 92.8 L1531.5 93.4 L1531.9 93.9Z" fill="#F8766D" stroke="#333" stroke-width="3" stroke-linejoin="round"/>
<path d="M1557.2 93.9 L1557.5 93.5 L1557.9 93 L1558.3 92.4 L1558.8 91.7 L1559.1 91.1 L1559.3 90.6 L1559.4 90.1 L1559.4 89.6 L1559.4 89 L1559.4 88.3 L1559.3 87.4 L1559.1 86.3 L1558.8 85.1 L1558.6 83.9 L1558.4 82.7 L1558.2 81.5 L1558.1 80.3 L1558 79 L1557.9 77.7 L1557.7 76.4 L1557.6 75 L1557.4 73.5 L1557.3 72.1 L1557.1 70.7 L1556.9 69.4 L1556.8 68.3 L1556.6 67.5 L1556.4 66.6 L1556.2 65.7 L1556 64.5 L1555.8 62.9 L1555.7 61 L1555.5 59 L1555.4 57.3 L1555.3 56.1 L1554.9 56.1 L1554.8 57.3 L1554.7 59 L1554.5 61 L1554.4 62.9 L1554.2 64.5 L1554 65.7 L1553.8 66.6 L1553.6 67.5 L1553.4 68.3 L1553.3 69.4 L1553.1 70.7 L1552.9 72.1 L1552.8 73.5 L1552.6 75 L1552.5 76.4 L1552.3 77.7 L1552.2 79 L1552.1 80.3 L1552 81.5 L1551.8 82.7 L1551.6 83.9 L1551.4 85.1 L1551.1 86.3 L1550.9 87.4 L1550.8 88.3 L1550.8 89 L1550.8 89.6 L1550.8 90.1 L1550.9 90.6 L1551.1 91.1 L1551.4 91.7 L1551.9 92.4 L1552.3 93 L1552.7 93.5 L1553 93.9Z" fill="#F8766D" stroke="#333" stroke-width="3" stroke-linejoin="round"/>
<path d="M1577.2 89.7 L1577.4 89.2 L1577.6 88.5 L1577.8 87.6 L1578.1 86.6 L1578.3 85.5 L1578.6 84.3 L1578.9 83 L1579.2 81.6 L1579.5 80.1 L1579.7 78.5 L1580 76.8 L1580.2 74.9 L1580.5 72.9 L1580.6 71.1 L1580.7 69.4 L1580.6 67.9 L1580.5 66.6 L1580.3 65.4 L1580 64.3 L1579.7 63.1 L1579.5 61.9 L1579.1 60.8 L1578.8 59.7 L1578.4 58.6 L1578.1 57.5 L1577.9 56.4 L1577.7 55.4 L1577.5 54.3 L1577.4 53.2 L1577.2 51.9 L1577.1 50.3 L1577 48.5 L1576.9 46.6 L1576.8 45 L1576.8 43.9 L1576.4 43.9 L1576.3 45 L1576.3 46.6 L1576.2 48.5 L1576.1 50.3 L1575.9 51.9 L1575.8 53.2 L1575.6 54.3 L1575.5 55.4 L1575.3 56.4 L1575 57.5 L1574.7 58.6 L1574.4 59.7 L1574 60.8 L1573.7 61.9 L1573.4 63.1 L1573.2 64.3 L1572.9 65.4 L1572.7 66.6 L1572.5 67.9 L1572.5 69.4 L1572.5 71.1 L1572.7 72.9 L1572.9 74.9 L1573.2 76.8 L1573.4 78.5 L1573.7 80.1 L1574 81.6 L1574.3 83 L1574.5 84.3 L1574.8 85.5 L1575.1 86.6 L1575.3 87.6 L1575.6 88.5 L1575.8 89.2 L1575.9 89.7Z" fill="#F8766D" stroke="#333" stroke-width="3" stroke-linejoin="round"/>
<path d="M1598.3 93.6 L1598.3 92.6 L1598.4 91.2 L1598.4 89.7 L1598.5 88.1 L1598.7 86.9 L1598.9 86 L1599.1 85.3 L1599.4 84.6 L1599.8 84 L1600.2 83.4 L1600.6 82.7 L1601.2 82 L1601.8 81.2 L1602.3 80.6 L1602.8 79.9 L1603.3 79.3 L1603.8 78.8 L1604.3 78.2 L1604.6 77.7 L1604.7 77.1 L1604.5 76.5 L1604.2 75.8 L1603.7 75.1 L1603.2 74.4 L1602.7 73.6 L1602.2 72.8 L1601.7 72 L1601.2 71.2 L1600.7 70.3 L1600.3 69.4 L1600 68.5 L1599.7 67.6 L1599.5 66.7 L1599.3 65.7 L1599.1 64.5 L1599 63 L1598.9 61.3 L1598.8 59.5 L1598.7 57.9 L1598.7 56.8 L1597.4 56.8 L1597.4 57.9 L1597.3 59.5 L1597.3 61.3 L1597.2 63 L1597 64.5 L1596.9 65.7 L1596.7 66.7 L1596.4 67.6 L1596.2 68.5 L1595.8 69.4 L1595.4 70.3 L1594.9 71.2 L1594.4 72 L1593.9 72.8 L1593.4 73.6 L1592.9 74.4 L1592.4 75.1 L1591.9 75.8 L1591.6 76.5 L1591.4 77.1 L1591.5 77.7 L1591.9 78.2 L1592.3 78.8 L1592.8 79.3 L1593.3 79.9 L1593.8 80.6 L1594.4 81.2 L1594.9 82 L1595.5 82.7 L1596 83.4 L1596.3 84 L1596.7 84.6 L1597 85.3 L1597.2 86 L1597.4 86.9 L1597.6 88.1 L1597.7 89.7 L1597.7 91.2 L1597.8 92.6 L1597.8 93.6Z" fill="#F8766D" stroke="#333" stroke-width="3" stroke-linejoin="round"/>
<path d="M1621.5 93.9 L1622.1 93.5 L1623 93 L1624 92.4 L1625 91.7 L1625.8 91.1 L1626.5 90.4 L1627.2 89.7 L1627.8 89 L1628.2 88.3 L1628.3 87.6 L1628 87 L1627.4 86.5 L1626.7 85.9 L1625.9 85.4 L1625.3 84.8 L1624.9 84.2 L1624.6 83.5 L1624.4 82.8 L1624.1 82.1 L1623.9 81.3 L1623.7 80.5 L1623.5 79.7 L1623.3 78.8 L1623.1 78 L1622.8 77.1 L1622.5 76.3 L1622 75.4 L1621.5 74.6 L1621.1 73.7 L1620.7 72.9 L1620.4 72.2 L1620.2 71.6 L1620.1 71 L1619.9 70.1 L1619.8 68.7 L1619.8 66.5 L1619.7 63.7 L1619.7 60.6 L1619.7 57.9 L1619.7 56.1 L1619.3 56.1 L1619.3 57.9 L1619.3 60.6 L1619.3 63.7 L1619.3 66.5 L1619.2 68.7 L1619.1 70.1 L1619 71 L1618.8 71.6 L1618.6 72.2 L1618.4 72.9 L1618 73.7 L1617.6 74.6 L1617.1 75.4 L1616.6 76.3 L1616.2 77.1 L1616 78 L1615.8 78.8 L1615.6 79.7 L1615.4 80.5 L1615.2 81.3 L1614.9 82.1 L1614.7 82.8 L1614.5 83.5 L1614.2 84.2 L1613.8 84.8 L1613.2 85.4 L1612.4 85.9 L1611.7 86.5 L1611 87 L1610.8 87.6 L1610.9 88.3 L1611.3 89 L1611.9 89.7 L1612.6 90.4 L1613.3 91.1 L1614.1 91.7 L1615.1 92.4 L1616.1 93 L1617 93.5 L1617.6 93.9Z" fill="#F8766D" stroke="#333" stroke-width="3" stroke-linejoin="round"/>
<path d="M1647.5 93.9 L1647.5 93.8 L1647.6 93.7 L1647.7 93.6 L1647.8 93.5 L1647.7 93.3 L1647.6 93.1 L1647.3 92.7 L1646.8 92.3 L1646.3 91.9 L1645.7 91.4 L1645.2 90.9 L1644.7 90.4 L1644.4 89.9 L1644.1 89.5 L1643.8 89.1 L1643.6 88.6 L1643.3 88.1 L1643.1 87.6 L1642.9 87.1 L1642.7 86.6 L1642.6 86 L1642.4 85.4 L1642.3 84.8 L1642.2 84.1 L1642.1 83.5 L1642 83.1 L1641.9 82.7 L1641.8 81.9 L1641.7 80.6 L1641.7 78.5 L1641.6 75.1 L1641.5 70.6 L1641.4 65.5 L1641.3 60.6 L1641.3 56.3 L1641.2 53.3 L1640.8 53.3 L1640.8 56.3 L1640.7 60.6 L1640.6 65.5 L1640.6 70.6 L1640.5 75.1 L1640.4 78.5 L1640.3 80.6 L1640.2 81.9 L1640.2 82.7 L1640.1 83.1 L1640 83.5 L1639.9 84.1 L1639.7 84.8 L1639.6 85.4 L1639.5 86 L1639.3 86.6 L1639.1 87.1 L1638.9 87.6 L1638.7 88.1 L1638.5 88.6 L1638.2 89.1 L1638 89.5 L1637.7 89.9 L1637.3 90.4 L1636.9 90.9 L1636.3 91.4 L1635.8 91.9 L1635.2 92.3 L1634.8 92.7 L1634.5 93.1 L1634.3 93.3 L1634.3 93.5 L1634.3 93.6 L1634.4 93.7 L1634.5 93.8 L1634.6 93.9Z" fill="#F8766D" stroke="#333" stroke-width="3" stroke-linejoin="round"/>
<path d="M1666.3 93.9 L1666.4 93.6 L1666.6 93.3 L1666.9 92.8 L1667.1 92.3 L1667.3 91.8 L1667.4 91.2 L1667.5 90.6 L1667.5 89.9 L1667.5 89.2 L1667.5 88.3 L1667.4 87.3 L1667.2 86.2 L1667 85.1 L1666.8 83.9 L1666.6 82.7 L1666.4 81.5 L1666.2 80.2 L1666 78.9 L1665.8 77.6 L1665.6 76.4 L1665.3 75.2 L1665.1 74.1 L1664.8 73 L1664.5 71.9 L1664.3 70.8 L1664 69.9 L1663.8 69 L1663.6 68.2 L1663.4 67.2 L1663.3 65.9 L1663.1 64.1 L1663 61.9 L1662.9 59.5 L1662.8 57.5 L1662.7 56.1 L1662.3 56.1 L1662.2 57.5 L1662.1 59.5 L1662 61.9 L1661.9 64.1 L1661.7 65.9 L1661.6 67.2 L1661.4 68.2 L1661.2 69 L1661 69.9 L1660.7 70.8 L1660.5 71.9 L1660.2 73 L1659.9 74.1 L1659.7 75.2 L1659.4 76.4 L1659.2 77.6 L1659 78.9 L1658.8 80.2 L1658.6 81.5 L1658.4 82.7 L1658.2 83.9 L1658 85.1 L1657.8 86.2 L1657.6 87.3 L1657.5 88.3 L1657.5 89.2 L1657.5 89.9 L1657.5 90.6 L1657.6 91.2 L1657.7 91.8 L1657.9 92.3 L1658.1 92.8 L1658.4 93.3 L1658.6 93.6 L1658.7 93.9Z" fill="#F8766D" stroke="#333" stroke-width="3" stroke-linejoin="round"/>
<path d="M1689.3 93.9 L1689.5 93.7 L1689.8 93.5 L1690.1 93.2 L1690.4 92.8 L1690.6 92.5 L1690.8 92.1 L1690.9 91.8 L1690.9 91.4 L1691 90.9 L1690.9 90.4 L1690.7 89.8 L1690.4 89.1 L1690.1 88.4 L1689.7 87.7 L1689.4 86.9 L1689.1 86.1 L1688.8 85.3 L1688.5 84.4 L1688.1 83.6 L1687.8 82.7 L1687.5 81.9 L1687.1 81 L1686.7 80.2 L1686.4 79.3 L1686.1 78.5 L1685.8 77.8 L1685.5 77.3 L1685.3 76.7 L1685.1 75.8 L1684.9 74.3 L1684.7 71.8 L1684.5 68.5 L1684.4 64.9 L1684.3 61.8 L1684.2 59.6 L1683.8 59.6 L1683.7 61.8 L1683.6 64.9 L1683.4 68.5 L1683.3 71.8 L1683.1 74.3 L1682.9 75.8 L1682.7 76.7 L1682.4 77.3 L1682.2 77.8 L1681.9 78.5 L1681.6 79.3 L1681.2 80.2 L1680.9 81 L1680.5 81.9 L1680.1 82.7 L1679.8 83.6 L1679.5 84.4 L1679.2 85.3 L1678.9 86.1 L1678.5 86.9 L1678.2 87.7 L1677.9 88.4 L1677.5 89.1 L1677.3 89.8 L1677.1 90.4 L1677 90.9 L1677 91.4 L1677.1 91.8 L1677.2 92.1 L1677.3 92.5 L1677.6 92.8 L1677.9 93.2 L1678.2 93.5 L1678.5 93.7 L1678.7 93.9Z" fill="#F8766D" stroke="#333" stroke-width="3" stroke-linejoin="round"/>
<path d="M1708.2 93.9 L1708.9 93.6 L1709.9 93.3 L1711 92.8 L1712 92.3 L1712.9 91.8 L1713.6 91.2 L1714.2 90.5 L1714.7 89.7 L1715.1 89 L1715.2 88.3 L1715 87.7 L1714.5 87.1 L1713.8 86.6 L1713.2 86 L1712.6 85.5 L1712 84.9 L1711.5 84.4 L1711 83.8 L1710.4 83.3 L1709.9 82.7 L1709.3 82.1 L1708.7 81.6 L1708 81 L1707.5 80.5 L1707 79.9 L1706.7 79.4 L1706.5 78.9 L1706.4 78.4 L1706.3 77.8 L1706.2 77.1 L1706.2 76.2 L1706.1 75.1 L1706.1 73.9 L1706.1 72.9 L1706.1 72.2 L1704.8 72.2 L1704.8 72.9 L1704.8 73.9 L1704.8 75.1 L1704.8 76.2 L1704.7 77.1 L1704.6 77.8 L1704.5 78.4 L1704.4 78.9 L1704.2 79.4 L1703.9 79.9 L1703.4 80.5 L1702.9 81 L1702.3 81.6 L1701.6 82.1 L1701 82.7 L1700.5 83.3 L1699.9 83.8 L1699.4 84.4 L1698.9 84.9 L1698.4 85.5 L1697.8 86 L1697.1 86.6 L1696.4 87.1 L1696 87.7 L1695.8 88.3 L1695.9 89 L1696.2 89.7 L1696.7 90.5 L1697.3 91.2 L1698 91.8 L1698.9 92.3 L1699.9 92.8 L1701 93.3 L1702 93.6 L1702.7 93.9Z" fill="#F8766D" stroke="#333" stroke-width="3" stroke-linejoin="round"/>
<path d="M1732.2 93.9 L1732.3 93.8 L1732.4 93.7 L1732.4 93.6 L1732.4 93.3 L1732.4 92.9 L1732.2 92.2 L1731.9 91.3 L1731.6 90.4 L1731.3 89.3 L1731 88.3 L1730.8 87.3 L1730.6 86.2 L1730.4 85 L1730.2 83.9 L1730 82.7 L1729.8 81.5 L1729.5 80.2 L1729.3 79 L1729.1 77.7 L1728.9 76.4 L1728.7 75.1 L1728.5 73.8 L1728.2 72.6 L1728 71.3 L1727.8 70.1 L1727.7 69 L1727.5 67.9 L1727.4 66.9 L1727.3 65.8 L1727.2 64.5 L1727.1 62.9 L1727.1 60.9 L1727.1 59 L1727.1 57.3 L1727.1 56.1 L1726.7 56.1 L1726.7 57.3 L1726.8 59 L1726.8 60.9 L1726.8 62.9 L1726.7 64.5 L1726.6 65.8 L1726.5 66.9 L1726.4 67.9 L1726.2 69 L1726 70.1 L1725.9 71.3 L1725.6 72.6 L1725.4 73.8 L1725.2 75.1 L1725 76.4 L1724.8 77.7 L1724.5 79 L1724.3 80.2 L1724.1 81.5 L1723.9 82.7 L1723.7 83.9 L1723.5 85 L1723.3 86.2 L1723.1 87.3 L1722.8 88.3 L1722.6 89.3 L1722.3 90.4 L1721.9 91.3 L1721.7 92.2 L1721.5 92.9 L1721.4 93.3 L1721.5 93.6 L1721.5 93.7 L1721.6 93.8 L1721.6 93.9Z" fill="#F8766D" stroke="#333" stroke-width="3" stroke-linejoin="round"/>
<path d="M1750.5 93.9 L1750.7 93.5 L1751 93 L1751.4 92.5 L1751.7 91.8 L1752 91.1 L1752.2 90.3 L1752.3 89.5 L1752.5 88.6 L1752.5 87.8 L1752.5 86.9 L1752.4 86.1 L1752.3 85.2 L1752.1 84.4 L1751.8 83.5 L1751.6 82.7 L1751.3 81.9 L1751.1 81.1 L1750.8 80.2 L1750.5 79.4 L1750.3 78.5 L1750 77.6 L1749.8 76.7 L1749.6 75.8 L1749.4 74.8 L1749.2 73.6 L1749 72.7 L1748.9 72.1 L1748.8 71.2 L1748.7 69.3 L1748.6 65.9 L1748.6 59.9 L1748.6 51.7 L1748.6 42.8 L1748.6 34.9 L1748.6 29.5 L1748.2 29.5 L1748.2 34.9 L1748.2 42.8 L1748.3 51.7 L1748.3 59.9 L1748.2 65.9 L1748.2 69.3 L1748.1 71.2 L1747.9 72.1 L1747.8 72.7 L1747.7 73.6 L1747.5 74.8 L1747.3 75.8 L1747.1 76.7 L1746.8 77.6 L1746.6 78.5 L1746.3 79.4 L1746.1 80.2 L1745.8 81.1 L1745.5 81.9 L1745.3 82.7 L1745 83.5 L1744.8 84.4 L1744.6 85.2 L1744.4 86.1 L1744.3 86.9 L1744.3 87.8 L1744.4 88.6 L1744.5 89.5 L1744.7 90.3 L1744.9 91.1 L1745.1 91.8 L1745.4 92.5 L1745.8 93 L1746.1 93.5 L1746.3 93.9Z" fill="#F8766D" stroke="#333" stroke-width="3" stroke-linejoin="round"/>
<path d="M1770.9 93.9 L1771.2 93.4 L1771.6 92.8 L1772.1 92 L1772.6 91.2 L1773.1 90.4 L1773.6 89.6 L1774.1 88.8 L1774.6 87.9 L1775.2 87.1 L1775.7 86.2 L1776.2 85.3 L1776.7 84.5 L1777.2 83.6 L1777.6 82.8 L1777.7 82 L1777.5 81.3 L1777 80.5 L1776.5 79.9 L1775.9 79.2 L1775.3 78.5 L1774.9 77.8 L1774.4 77.1 L1774 76.4 L1773.5 75.7 L1773.1 75 L1772.6 74.4 L1772.2 73.8 L1771.7 73.1 L1771.4 72.4 L1771.1 71.5 L1770.9 70.3 L1770.7 68.7 L1770.6 67.2 L1770.6 65.8 L1770.5 64.9 L1769.3 64.9 L1769.2 65.8 L1769.2 67.2 L1769.1 68.7 L1768.9 70.3 L1768.7 71.5 L1768.4 72.4 L1768.1 73.1 L1767.6 73.8 L1767.2 74.4 L1766.7 75 L1766.3 75.7 L1765.8 76.4 L1765.4 77.1 L1764.9 77.8 L1764.5 78.5 L1763.9 79.2 L1763.3 79.9 L1762.8 80.5 L1762.3 81.3 L1762.1 82 L1762.2 82.8 L1762.6 83.6 L1763.1 84.5 L1763.6 85.3 L1764.1 86.2 L1764.6 87.1 L1765.2 87.9 L1765.7 88.8 L1766.2 89.6 L1766.7 90.4 L1767.2 91.2 L1767.7 92 L1768.2 92.8 L1768.6 93.4 L1768.9 93.9Z" fill="#F8766D" stroke="#333" stroke-width="3" stroke-linejoin="round"/>
<line x1="900.5" y1="183.8" x2="1070.1" y2="183.8" stroke="#333" stroke-width="3.3" stroke-linecap="round"/>
<line x1="1095" y1="183.8" x2="1113" y2="183.8" stroke="#333" stroke-width="3.3" stroke-linecap="round"/>
<line x1="1138" y1="183.8" x2="1564.1" y2="183.8" stroke="#333" stroke-width="3.3" stroke-linecap="round"/>
<line x1="1610.5" y1="183.8" x2="1778.9" y2="183.8" stroke="#333" stroke-width="3.3" stroke-linecap="round"/>
<path d="M1085.2 183.8 L1085.2 183.1 L1085.2 182.2 L1085.2 181 L1085.2 179.8 L1085.2 178.6 L1085.2 177.5 L1085.2 176.4 L1085.2 175.4 L1085.2 174.3 L1085.2 173.2 L1085.1 172.2 L1085 171.2 L1084.9 170.2 L1084.7 169.3 L1084.5 168.4 L1084.3 167.5 L1084 166.6 L1083.8 165.6 L1083.7 164.6 L1083.5 163.7 L1083.3 162.8 L1083.2 161.7 L1083 160.6 L1082.9 159.3 L1082.9 158 L1082.8 156.7 L1082.8 155.3 L1082.8 153.6 L1082.8 151.5 L1082.7 148.8 L1082.7 145 L1082.7 140.2 L1082.7 134.9 L1082.7 129.8 L1082.7 125.4 L1082.7 122.3 L1082.3 122.3 L1082.3 125.4 L1082.3 129.8 L1082.4 134.9 L1082.4 140.2 L1082.4 145 L1082.3 148.8 L1082.3 151.5 L1082.3 153.6 L1082.3 155.3 L1082.3 156.7 L1082.2 158 L1082.1 159.3 L1082 160.6 L1081.9 161.7 L1081.8 162.8 L1081.6 163.7 L1081.4 164.6 L1081.2 165.6 L1081 166.6 L1080.8 167.5 L1080.6 168.4 L1080.4 169.3 L1080.2 170.2 L1080 171.2 L1080 172.2 L1079.9 173.2 L1079.9 174.3 L1079.9 175.4 L1079.9 176.4 L1079.9 177.5 L1079.9 178.6 L1079.9 179.8 L1079.9 181 L1079.9 182.2 L1079.9 183.1 L1079.9 183.8Z" fill="#7CAE00" stroke="#333" stroke-width="3" stroke-linejoin="round"/>
<path d="M1125.7 183.8 L1125.9 183.3 L1126.1 182.7 L1126.4 182 L1126.7 181.1 L1127 180.3 L1127.3 179.4 L1127.5 178.4 L1127.8 177.4 L1128.1 176.4 L1128.2 175.4 L1128.4 174.4 L1128.5 173.4 L1128.6 172.5 L1128.7 171.5 L1128.7 170.5 L1128.6 169.5 L1128.5 168.5 L1128.4 167.6 L1128.2 166.6 L1128 165.6 L1127.8 164.6 L1127.5 163.6 L1127.2 162.7 L1127 161.7 L1126.8 160.7 L1126.5 159.8 L1126.3 158.8 L1126.2 157.9 L1126 156.9 L1125.9 155.8 L1125.8 154.4 L1125.8 152.8 L1125.7 151.2 L1125.7 149.8 L1125.7 148.8 L1125.3 148.8 L1125.3 149.8 L1125.3 151.2 L1125.2 152.8 L1125.2 154.4 L1125.1 155.8 L1125 156.9 L1124.8 157.9 L1124.7 158.8 L1124.5 159.8 L1124.2 160.7 L1124 161.7 L1123.8 162.7 L1123.5 163.6 L1123.2 164.6 L1123 165.6 L1122.8 166.6 L1122.6 167.6 L1122.5 168.5 L1122.4 169.5 L1122.3 170.5 L1122.3 171.5 L1122.4 172.5 L1122.5 173.4 L1122.6 174.4 L1122.8 175.4 L1122.9 176.4 L1123.2 177.4 L1123.5 178.4 L1123.7 179.4 L1124 180.3 L1124.3 181.1 L1124.6 182 L1124.9 182.7 L1125.1 183.3 L1125.3 183.8Z" fill="#7CAE00" stroke="#333" stroke-width="3" stroke-linejoin="round"/>
<path d="M1576.8 183.8 L1576.9 183.1 L1577.1 182.2 L1577.3 181.1 L1577.6 180 L1577.8 178.9 L1578.1 177.8 L1578.4 176.7 L1578.8 175.6 L1579.1 174.4 L1579.3 173.3 L1579.5 172.2 L1579.7 171.1 L1579.9 169.9 L1580 168.8 L1580 167.7 L1580 166.6 L1579.9 165.5 L1579.7 164.3 L1579.5 163.2 L1579.3 162.1 L1579.1 161 L1578.9 159.8 L1578.6 158.7 L1578.3 157.6 L1578.1 156.5 L1577.9 155.5 L1577.6 154.5 L1577.4 153.6 L1577.2 152.6 L1577.1 151.6 L1577 150.4 L1576.9 149 L1576.8 147.7 L1576.8 146.5 L1576.8 145.7 L1576.4 145.7 L1576.4 146.5 L1576.3 147.7 L1576.3 149 L1576.2 150.4 L1576.1 151.6 L1575.9 152.6 L1575.7 153.6 L1575.5 154.5 L1575.3 155.5 L1575.1 156.5 L1574.8 157.6 L1574.6 158.7 L1574.3 159.8 L1574 161 L1573.8 162.1 L1573.6 163.2 L1573.4 164.3 L1573.3 165.5 L1573.2 166.6 L1573.1 167.7 L1573.2 168.8 L1573.3 169.9 L1573.4 171.1 L1573.6 172.2 L1573.8 173.3 L1574.1 174.4 L1574.4 175.6 L1574.7 176.7 L1575 177.8 L1575.3 178.9 L1575.6 180 L1575.8 181.1 L1576.1 182.2 L1576.2 183.1 L1576.4 183.8Z" fill="#7CAE00" stroke="#333" stroke-width="3" stroke-linejoin="round"/>
<path d="M1607.2 183.8 L1607.1 183.7 L1607.1 183.6 L1607.1 183.5 L1607 183.3 L1606.8 183.2 L1606.6 183 L1606.2 182.7 L1605.7 182.5 L1605.2 182.3 L1604.6 182 L1604 181.7 L1603.4 181.4 L1602.7 181 L1602 180.6 L1601.2 180.2 L1600.5 179.8 L1599.9 179.4 L1599.6 178.9 L1599.4 178.4 L1599.5 177.8 L1599.7 177.2 L1600 176.6 L1600.2 176 L1600.2 175.4 L1600.1 174.8 L1599.8 174.2 L1599.5 173.7 L1599.2 173.1 L1598.9 172.5 L1598.7 171.9 L1598.5 171.3 L1598.4 170.6 L1598.4 169.9 L1598.3 169.3 L1598.3 168.8 L1598.3 168.4 L1597.9 168.4 L1597.8 168.8 L1597.8 169.3 L1597.8 169.9 L1597.7 170.6 L1597.6 171.3 L1597.5 171.9 L1597.2 172.5 L1596.9 173.1 L1596.6 173.7 L1596.3 174.2 L1596.1 174.8 L1595.9 175.4 L1595.9 176 L1596.1 176.6 L1596.4 177.2 L1596.6 177.8 L1596.7 178.4 L1596.6 178.9 L1596.2 179.4 L1595.6 179.8 L1594.9 180.2 L1594.1 180.6 L1593.4 181 L1592.8 181.4 L1592.2 181.7 L1591.6 182 L1591 182.3 L1590.4 182.5 L1589.9 182.7 L1589.6 183 L1589.3 183.2 L1589.1 183.3 L1589.1 183.5 L1589 183.6 L1589 183.7 L1589 183.8Z" fill="#7CAE00" stroke="#333" stroke-width="3" stroke-linejoin="round"/>
<line x1="900.5" y1="273" x2="1070.1" y2="273" stroke="#333" stroke-width="3.3" stroke-linecap="round"/>
<line x1="1138" y1="273" x2="1542.6" y2="273" stroke="#333" stroke-width="3.3" stroke-linecap="round"/>
<line x1="1610.5" y1="273" x2="1778.9" y2="273" stroke="#333" stroke-width="3.3" stroke-linecap="round"/>
<path d="M1082.7 270.2 L1082.8 269.5 L1083 268.4 L1083.1 267.2 L1083.3 265.9 L1083.5 264.6 L1083.8 263.3 L1084 261.9 L1084.3 260.5 L1084.6 259.1 L1084.8 257.6 L1085 256.1 L1085.1 254.5 L1085.3 252.9 L1085.3 251.4 L1085.4 249.9 L1085.3 248.5 L1085.2 247.2 L1085 246 L1084.8 244.8 L1084.6 243.6 L1084.4 242.4 L1084.2 241.3 L1084 240.2 L1083.7 239.1 L1083.5 238 L1083.4 236.9 L1083.2 235.8 L1083.1 234.7 L1082.9 233.6 L1082.8 232.4 L1082.8 231 L1082.8 229.4 L1082.7 227.8 L1082.7 226.4 L1082.7 225.4 L1082.3 225.4 L1082.3 226.4 L1082.3 227.8 L1082.3 229.4 L1082.3 231 L1082.2 232.4 L1082.1 233.6 L1082 234.7 L1081.9 235.8 L1081.7 236.9 L1081.5 238 L1081.3 239.1 L1081.1 240.2 L1080.9 241.3 L1080.6 242.4 L1080.4 243.6 L1080.3 244.8 L1080.1 246 L1079.9 247.2 L1079.8 248.5 L1079.7 249.9 L1079.7 251.4 L1079.8 252.9 L1079.9 254.5 L1080.1 256.1 L1080.3 257.6 L1080.5 259.1 L1080.8 260.5 L1081 261.9 L1081.3 263.3 L1081.5 264.6 L1081.7 265.9 L1081.9 267.2 L1082.1 268.4 L1082.2 269.5 L1082.3 270.2Z" fill="#00BFC4" stroke="#333" stroke-width="3" stroke-linejoin="round"/>
<path d="M1105.7 273 L1105.7 272.2 L1105.8 271.2 L1105.9 269.9 L1106 268.6 L1106.1 267.4 L1106.2 266.3 L1106.4 265.1 L1106.5 263.9 L1106.6 262.8 L1106.7 261.8 L1106.8 260.9 L1106.8 260.1 L1106.9 259.3 L1106.9 258.5 L1106.8 257.6 L1106.7 256.6 L1106.6 255.5 L1106.4 254.3 L1106.2 253.1 L1106 252 L1105.8 250.9 L1105.6 249.8 L1105.4 248.6 L1105.2 247.5 L1105 246.4 L1104.9 245.3 L1104.7 244.3 L1104.6 243.3 L1104.5 242.1 L1104.4 240.8 L1104.3 239.1 L1104.3 237 L1104.2 234.9 L1104.2 233 L1104.2 231.7 L1103.8 231.7 L1103.8 233 L1103.8 234.9 L1103.8 237 L1103.7 239.1 L1103.7 240.8 L1103.6 242.1 L1103.5 243.3 L1103.3 244.3 L1103.2 245.3 L1103 246.4 L1102.8 247.5 L1102.6 248.6 L1102.4 249.8 L1102.2 250.9 L1102 252 L1101.8 253.1 L1101.6 254.3 L1101.4 255.5 L1101.3 256.6 L1101.2 257.6 L1101.2 258.5 L1101.2 259.3 L1101.2 260.1 L1101.2 260.9 L1101.3 261.8 L1101.4 262.8 L1101.5 263.9 L1101.7 265.1 L1101.8 266.3 L1101.9 267.4 L1102 268.6 L1102.1 269.9 L1102.2 271.2 L1102.3 272.2 L1102.4 273Z" fill="#00BFC4" stroke="#333" stroke-width="3" stroke-linejoin="round"/>
<path d="M1125.8 273 L1126 272.6 L1126.4 272.1 L1126.8 271.5 L1127.2 270.8 L1127.6 270.2 L1128 269.5 L1128.4 268.8 L1128.9 268.1 L1129.4 267.4 L1129.8 266.7 L1130.1 266 L1130.2 265.3 L1130.1 264.7 L1129.8 264.1 L1129.4 263.6 L1129 263 L1128.6 262.4 L1128.2 261.8 L1128 261.1 L1127.8 260.5 L1127.7 259.8 L1127.5 259.1 L1127.4 258.3 L1127.2 257.6 L1127.1 256.8 L1126.9 256 L1126.8 255.2 L1126.6 254.3 L1126.4 253.5 L1126.3 252.7 L1126.2 251.9 L1126.1 251 L1125.9 250.2 L1125.8 249.4 L1125.8 248.7 L1125.7 248.2 L1125.3 248.2 L1125.2 248.7 L1125.2 249.4 L1125.1 250.2 L1124.9 251 L1124.8 251.9 L1124.7 252.7 L1124.6 253.5 L1124.4 254.3 L1124.2 255.2 L1124.1 256 L1123.9 256.8 L1123.8 257.6 L1123.6 258.3 L1123.5 259.1 L1123.3 259.8 L1123.2 260.5 L1123 261.1 L1122.8 261.8 L1122.4 262.4 L1122 263 L1121.6 263.6 L1121.2 264.1 L1120.9 264.7 L1120.8 265.3 L1120.9 266 L1121.2 266.7 L1121.6 267.4 L1122.1 268.1 L1122.6 268.8 L1123 269.5 L1123.4 270.2 L1123.8 270.8 L1124.2 271.5 L1124.6 272.1 L1125 272.6 L1125.2 273Z" fill="#00BFC4" stroke="#333" stroke-width="3" stroke-linejoin="round"/>
<path d="M1563.5 273 L1563.5 272.9 L1563.5 272.9 L1563.5 272.8 L1563.4 272.7 L1563.4 272.6 L1563.3 272.5 L1563.1 272.3 L1562.8 272.2 L1562.5 272 L1562 271.8 L1561.5 271.6 L1560.9 271.3 L1560.3 271.1 L1559.7 270.8 L1559.2 270.5 L1558.7 270.2 L1558.3 269.8 L1557.9 269.4 L1557.6 269 L1557.3 268.6 L1557 268.1 L1556.7 267.7 L1556.5 267.2 L1556.3 266.7 L1556.1 266.3 L1556 265.9 L1555.9 265.5 L1555.8 265.1 L1555.7 264.7 L1555.6 264.1 L1555.6 263.4 L1555.5 262.5 L1555.4 261.3 L1555.4 259.8 L1555.4 258.1 L1555.3 256.3 L1555.3 254.6 L1555.3 253 L1555.3 251.6 L1555.3 250.7 L1554.9 250.7 L1554.9 251.6 L1554.9 253 L1554.9 254.6 L1554.8 256.3 L1554.8 258.1 L1554.8 259.8 L1554.8 261.3 L1554.7 262.5 L1554.6 263.4 L1554.6 264.1 L1554.5 264.7 L1554.4 265.1 L1554.3 265.5 L1554.2 265.9 L1554.1 266.3 L1553.9 266.7 L1553.7 267.2 L1553.5 267.7 L1553.2 268.1 L1552.9 268.6 L1552.6 269 L1552.3 269.4 L1551.9 269.8 L1551.5 270.2 L1551 270.5 L1550.5 270.8 L1549.9 271.1 L1549.3 271.3 L1548.7 271.6 L1548.2 271.8 L1547.7 272 L1547.3 272.2 L1547.1 272.3 L1546.9 272.5 L1546.8 272.6 L1546.8 272.7 L1546.7 272.8 L1546.7 272.9 L1546.7 272.9 L1546.7 273Z" fill="#00BFC4" stroke="#333" stroke-width="3" stroke-linejoin="round"/>
<path d="M1576.9 273 L1577.1 272.4 L1577.5 271.6 L1577.9 270.7 L1578.3 269.7 L1578.6 268.8 L1578.8 267.9 L1579.1 267.1 L1579.2 266.2 L1579.4 265.4 L1579.5 264.6 L1579.5 263.9 L1579.4 263.2 L1579.3 262.5 L1579.2 261.8 L1579.2 261.1 L1579.3 260.3 L1579.5 259.5 L1579.7 258.7 L1579.9 257.8 L1579.9 256.9 L1579.8 256 L1579.6 255 L1579.4 253.9 L1579.1 252.9 L1578.8 252 L1578.6 251.1 L1578.3 250.3 L1578.1 249.4 L1577.8 248.6 L1577.6 247.8 L1577.4 246.9 L1577.2 246 L1577 245.2 L1576.9 244.4 L1576.8 243.9 L1576.4 243.9 L1576.3 244.4 L1576.1 245.2 L1576 246 L1575.8 246.9 L1575.6 247.8 L1575.4 248.6 L1575.1 249.4 L1574.8 250.3 L1574.6 251.1 L1574.3 252 L1574.1 252.9 L1573.8 253.9 L1573.5 255 L1573.3 256 L1573.2 256.9 L1573.3 257.8 L1573.4 258.7 L1573.7 259.5 L1573.9 260.3 L1574 261.1 L1574 261.8 L1573.9 262.5 L1573.8 263.2 L1573.7 263.9 L1573.7 264.6 L1573.8 265.4 L1573.9 266.2 L1574.1 267.1 L1574.3 267.9 L1574.6 268.8 L1574.9 269.7 L1575.3 270.7 L1575.7 271.6 L1576 272.4 L1576.3 273Z" fill="#00BFC4" stroke="#333" stroke-width="3" stroke-linejoin="round"/>
<path d="M1599.7 273 L1600 272.7 L1600.4 272.2 L1600.9 271.7 L1601.4 271.1 L1601.8 270.6 L1602.1 270 L1602.4 269.4 L1602.6 268.7 L1602.8 268.1 L1602.9 267.4 L1602.8 266.7 L1602.6 266 L1602.3 265.3 L1602.1 264.6 L1601.8 263.9 L1601.6 263.2 L1601.4 262.5 L1601.2 261.9 L1600.9 261.1 L1600.7 260.4 L1600.4 259.6 L1600 258.8 L1599.7 257.9 L1599.3 257.1 L1599.1 256.2 L1598.9 255.3 L1598.7 254.5 L1598.6 253.6 L1598.4 252.8 L1598.4 252 L1598.3 251.3 L1598.3 250.6 L1598.3 250.1 L1598.3 249.6 L1598.3 249.2 L1597.9 249.2 L1597.9 249.6 L1597.9 250.1 L1597.8 250.6 L1597.8 251.3 L1597.8 252 L1597.7 252.8 L1597.6 253.6 L1597.4 254.5 L1597.3 255.3 L1597.1 256.2 L1596.8 257.1 L1596.5 257.9 L1596.1 258.8 L1595.8 259.6 L1595.5 260.4 L1595.2 261.1 L1595 261.9 L1594.7 262.5 L1594.5 263.2 L1594.3 263.9 L1594.1 264.6 L1593.8 265.3 L1593.5 266 L1593.3 266.7 L1593.3 267.4 L1593.3 268.1 L1593.5 268.7 L1593.7 269.4 L1594 270 L1594.3 270.6 L1594.7 271.1 L1595.2 271.7 L1595.7 272.2 L1596.1 272.7 L1596.4 273Z" fill="#00BFC4" stroke="#333" stroke-width="3" stroke-linejoin="round"/>
<line x1="900.5" y1="362.3" x2="1778.9" y2="362.3" stroke="#333" stroke-width="2.6" stroke-linecap="round"/>
<rect x="469.3" y="576" width="18.7" height="77" fill="#CCCCCC"/>
<text text-anchor="middle" transform="translate(473.2 612.9) rotate(90)">ER</text>
<line x1="252.5" y1="574.7" x2="252.5" y2="653.3" stroke="#000" stroke-width="3.3"/>
<line x1="246.8" y1="649.6" x2="252.5" y2="649.6" stroke="#000" stroke-width="2.8"/>
<text x="244.2" y="660.2" text-anchor="end">0</text>
<line x1="246.8" y1="632.7" x2="252.5" y2="632.7" stroke="#000" stroke-width="2.8"/>
<text x="244.2" y="643.3" text-anchor="end">2</text>
<line x1="246.8" y1="615.8" x2="252.5" y2="615.8" stroke="#000" stroke-width="2.8"/>
<text x="244.2" y="626.4" text-anchor="end">4</text>
<line x1="246.8" y1="598.9" x2="252.5" y2="598.9" stroke="#000" stroke-width="2.8"/>
<text x="244.2" y="609.5" text-anchor="end">6</text>
<line x1="246.8" y1="582" x2="252.5" y2="582" stroke="#000" stroke-width="2.8"/>
<text x="244.2" y="592.6" text-anchor="end">8</text>
<rect x="469.3" y="666" width="18.7" height="77" fill="#CCCCCC"/>
<text text-anchor="middle" transform="translate(473.2 702.9) rotate(90)">TP</text>
<line x1="252.5" y1="664.4" x2="252.5" y2="743.5" stroke="#000" stroke-width="3.3"/>
<line x1="246.8" y1="739.3" x2="252.5" y2="739.3" stroke="#000" stroke-width="2.8"/>
<text x="244.2" y="749.9" text-anchor="end">0</text>
<line x1="246.8" y1="722.4" x2="252.5" y2="722.4" stroke="#000" stroke-width="2.8"/>
<text x="244.2" y="733" text-anchor="end">2</text>
<line x1="246.8" y1="705.5" x2="252.5" y2="705.5" stroke="#000" stroke-width="2.8"/>
<text x="244.2" y="716.1" text-anchor="end">4</text>
<line x1="246.8" y1="688.6" x2="252.5" y2="688.6" stroke="#000" stroke-width="2.8"/>
<text x="244.2" y="699.2" text-anchor="end">6</text>
<line x1="246.8" y1="671.7" x2="252.5" y2="671.7" stroke="#000" stroke-width="2.8"/>
<text x="244.2" y="682.3" text-anchor="end">8</text>
<rect x="469.3" y="756" width="18.7" height="76.6" fill="#CCCCCC"/>
<text text-anchor="middle" transform="translate(473.2 792.7) rotate(90)">HR</text>
<line x1="252.5" y1="754" x2="252.5" y2="833" stroke="#000" stroke-width="3.3"/>
<line x1="246.8" y1="829" x2="252.5" y2="829" stroke="#000" stroke-width="2.8"/>
<text x="244.2" y="839.6" text-anchor="end">0</text>
<line x1="246.8" y1="812.1" x2="252.5" y2="812.1" stroke="#000" stroke-width="2.8"/>
<text x="244.2" y="822.7" text-anchor="end">2</text>
<line x1="246.8" y1="795.2" x2="252.5" y2="795.2" stroke="#000" stroke-width="2.8"/>
<text x="244.2" y="805.8" text-anchor="end">4</text>
<line x1="246.8" y1="778.3" x2="252.5" y2="778.3" stroke="#000" stroke-width="2.8"/>
<text x="244.2" y="788.9" text-anchor="end">6</text>
<line x1="246.8" y1="761.4" x2="252.5" y2="761.4" stroke="#000" stroke-width="2.8"/>
<text x="244.2" y="772" text-anchor="end">8</text>
<rect x="469.3" y="845.6" width="18.7" height="77" fill="#CCCCCC"/>
<text text-anchor="middle" transform="translate(473.2 882.5) rotate(90)">TN</text>
<line x1="252.5" y1="844" x2="252.5" y2="922.6" stroke="#000" stroke-width="3.3"/>
<line x1="246.8" y1="919.6" x2="252.5" y2="919.6" stroke="#000" stroke-width="2.8"/>
<text x="244.2" y="930.2" text-anchor="end">0</text>
<line x1="246.8" y1="902.7" x2="252.5" y2="902.7" stroke="#000" stroke-width="2.8"/>
<text x="244.2" y="913.3" text-anchor="end">2</text>
<line x1="246.8" y1="885.8" x2="252.5" y2="885.8" stroke="#000" stroke-width="2.8"/>
<text x="244.2" y="896.4" text-anchor="end">4</text>
<line x1="246.8" y1="868.9" x2="252.5" y2="868.9" stroke="#000" stroke-width="2.8"/>
<text x="244.2" y="879.5" text-anchor="end">6</text>
<line x1="246.8" y1="852" x2="252.5" y2="852" stroke="#000" stroke-width="2.8"/>
<text x="244.2" y="862.6" text-anchor="end">8</text>
<line x1="250.8" y1="922.6" x2="470" y2="922.6" stroke="#000" stroke-width="3.3"/>
<line x1="264" y1="922.6" x2="264" y2="929.8" stroke="#000" stroke-width="2.8"/>
<text text-anchor="end" font-style="italic" font-size="18.1" transform="translate(270.3 939.2) rotate(-75)">Blastocystis</text>
<line x1="283.3" y1="922.6" x2="283.3" y2="929.8" stroke="#000" stroke-width="2.8"/>
<text text-anchor="end" font-style="italic" font-size="18.1" transform="translate(289.6 939.2) rotate(-75)">Citrobacter</text>
<line x1="302.7" y1="922.6" x2="302.7" y2="929.8" stroke="#000" stroke-width="2.8"/>
<text text-anchor="end" font-style="italic" font-size="18.1" transform="translate(309 939.2) rotate(-75)">Cryptosporidium</text>
<line x1="322" y1="922.6" x2="322" y2="929.8" stroke="#000" stroke-width="2.8"/>
<text text-anchor="end" font-style="italic" font-size="18.1" transform="translate(328.3 939.2) rotate(-75)">Dientamoeba</text>
<line x1="341.3" y1="922.6" x2="341.3" y2="929.8" stroke="#000" stroke-width="2.8"/>
<text text-anchor="end" font-style="italic" font-size="18.1" transform="translate(347.6 939.2) rotate(-75)">Enterocytozoon</text>
<line x1="360.6" y1="922.6" x2="360.6" y2="929.8" stroke="#000" stroke-width="2.8"/>
<text text-anchor="end" font-style="italic" font-size="18.1" transform="translate(366.9 939.2) rotate(-75)">Hartmannella</text>
<line x1="380" y1="922.6" x2="380" y2="929.8" stroke="#000" stroke-width="2.8"/>
<text text-anchor="end" font-style="italic" font-size="18.1" transform="translate(386.3 939.2) rotate(-75)">Isospora</text>
<line x1="399.3" y1="922.6" x2="399.3" y2="929.8" stroke="#000" stroke-width="2.8"/>
<text text-anchor="end" font-style="italic" font-size="18.1" transform="translate(405.6 939.2) rotate(-75)">Issatchenkia</text>
<line x1="418.6" y1="922.6" x2="418.6" y2="929.8" stroke="#000" stroke-width="2.8"/>
<text text-anchor="end" font-style="italic" font-size="18.1" transform="translate(424.9 939.2) rotate(-75)">Macracanthorhynchus</text>
<line x1="438" y1="922.6" x2="438" y2="929.8" stroke="#000" stroke-width="2.8"/>
<text text-anchor="end" font-style="italic" font-size="18.1" transform="translate(444.3 939.2) rotate(-75)">Metagonimus</text>
<line x1="457.3" y1="922.6" x2="457.3" y2="929.8" stroke="#000" stroke-width="2.8"/>
<text text-anchor="end" font-style="italic" font-size="18.1" transform="translate(463.6 939.2) rotate(-75)">Streptobacillus</text>
<text x="256" y="564.7">Violin Plot</text>
<text text-anchor="middle" transform="translate(219 743) rotate(-90)">avg hyb</text>
<line x1="255" y1="649.6" x2="465.5" y2="649.6" stroke="#333" stroke-width="3" stroke-linecap="round"/>
<line x1="255" y1="739.3" x2="465.5" y2="739.3" stroke="#333" stroke-width="3" stroke-linecap="round"/>
<line x1="255" y1="919.6" x2="465.5" y2="919.6" stroke="#333" stroke-width="3" stroke-linecap="round"/>
<path d="M268.4 829 L268.3 828.4 L268.3 827.6 L268.3 826.7 L268.2 825.7 L268.1 824.8 L268.1 823.9 L267.9 823.1 L267.8 822.3 L267.6 821.4 L267.5 820.5 L267.3 819.6 L267.1 818.6 L266.9 817.5 L266.7 816.5 L266.5 815.5 L266.3 814.5 L266.1 813.5 L265.9 812.4 L265.7 811.4 L265.5 810.4 L265.3 809.4 L265.2 808.5 L265.1 807.5 L264.9 806.5 L264.8 805.3 L264.7 804.4 L264.6 803.8 L264.5 802.9 L264.4 801.3 L264.3 798.6 L264.2 794 L264.2 787.7 L264.2 781.1 L264.2 775.1 L264.2 771 L263.8 771 L263.8 775.1 L263.8 781.1 L263.8 787.7 L263.8 794 L263.7 798.6 L263.6 801.3 L263.5 802.9 L263.4 803.8 L263.3 804.4 L263.2 805.3 L263.1 806.5 L262.9 807.5 L262.8 808.5 L262.7 809.4 L262.5 810.4 L262.3 811.4 L262.1 812.4 L261.9 813.5 L261.7 814.5 L261.5 815.5 L261.3 816.5 L261.1 817.5 L260.9 818.6 L260.7 819.6 L260.5 820.5 L260.4 821.4 L260.2 822.3 L260.1 823.1 L259.9 823.9 L259.9 824.8 L259.8 825.7 L259.7 826.7 L259.7 827.6 L259.7 828.4 L259.6 829Z" fill="#00BFC4" stroke="#333" stroke-width="2.9" stroke-linejoin="round"/>
<path d="M287.1 829 L287.5 828.7 L287.9 828.2 L288.5 827.7 L289 827.1 L289.3 826.5 L289.6 825.9 L289.8 825.2 L289.9 824.5 L289.9 823.8 L289.9 823.1 L289.7 822.3 L289.3 821.5 L288.9 820.6 L288.5 819.7 L288.1 818.9 L287.8 818 L287.5 817.2 L287.2 816.4 L286.9 815.5 L286.5 814.6 L286.2 813.7 L285.7 812.7 L285.3 811.6 L284.9 810.6 L284.5 809.6 L284.3 808.6 L284.1 807.6 L283.9 806.6 L283.8 805.6 L283.7 804.5 L283.6 803.2 L283.6 801.8 L283.6 800.5 L283.6 799.3 L283.5 798.4 L283.1 798.4 L283.1 799.3 L283.1 800.5 L283.1 801.8 L283.1 803.2 L283 804.5 L282.9 805.6 L282.7 806.6 L282.6 807.6 L282.4 808.6 L282.1 809.6 L281.8 810.6 L281.4 811.6 L280.9 812.7 L280.5 813.7 L280.1 814.6 L279.8 815.5 L279.5 816.4 L279.1 817.2 L278.8 818 L278.5 818.9 L278.1 819.7 L277.7 820.6 L277.3 821.5 L277 822.3 L276.8 823.1 L276.7 823.8 L276.8 824.5 L276.9 825.2 L277.1 825.9 L277.3 826.5 L277.7 827.1 L278.2 827.7 L278.7 828.2 L279.2 828.7 L279.5 829Z" fill="#00BFC4" stroke="#333" stroke-width="2.9" stroke-linejoin="round"/>
<path d="M305.7 829 L305.7 828.1 L305.7 826.8 L305.7 825.3 L305.7 823.7 L305.7 822.1 L305.7 820.5 L305.8 819.1 L305.8 817.7 L305.8 816.3 L305.9 814.9 L305.9 813.5 L305.9 812.1 L305.9 810.7 L305.8 809.2 L305.8 807.8 L305.7 806.3 L305.6 805 L305.5 803.6 L305.3 802.4 L305.1 801.2 L304.9 800.1 L304.7 799 L304.5 797.9 L304.3 796.9 L304.1 795.8 L304 794.8 L303.8 793.8 L303.7 792.8 L303.6 791.9 L303.5 791 L303.4 790.1 L303.3 789.2 L303.2 788.3 L303.1 787.5 L303 786.9 L302.9 786.4 L302.4 786.4 L302.3 786.9 L302.2 787.5 L302.2 788.3 L302.1 789.2 L302 790.1 L301.8 791 L301.7 791.9 L301.6 792.8 L301.5 793.8 L301.3 794.8 L301.2 795.8 L301 796.9 L300.9 797.9 L300.6 799 L300.4 800.1 L300.2 801.2 L300 802.4 L299.8 803.6 L299.7 805 L299.6 806.3 L299.6 807.8 L299.5 809.2 L299.5 810.7 L299.4 812.1 L299.4 813.5 L299.5 814.9 L299.5 816.3 L299.5 817.7 L299.6 819.1 L299.6 820.5 L299.6 822.1 L299.6 823.7 L299.6 825.3 L299.6 826.8 L299.6 828.1 L299.6 829Z" fill="#00BFC4" stroke="#333" stroke-width="2.9" stroke-linejoin="round"/>
<path d="M330.8 829 L330.8 828.9 L330.9 828.9 L331 828.8 L331 828.6 L330.9 828.4 L330.7 828.2 L330.2 827.8 L329.4 827.4 L328.6 826.9 L327.7 826.3 L326.9 825.8 L326.3 825.2 L325.8 824.6 L325.3 824 L325 823.4 L324.7 822.8 L324.4 822.1 L324.1 821.4 L323.9 820.6 L323.7 819.8 L323.6 819 L323.4 818.1 L323.3 817.2 L323.2 816.3 L323.1 815.9 L323 816.1 L322.9 816.2 L322.8 815.7 L322.8 814 L322.7 810.4 L322.6 804 L322.5 794.9 L322.4 784.7 L322.3 774.5 L322.2 765.7 L322.2 759.7 L321.8 759.7 L321.7 765.7 L321.7 774.5 L321.6 784.7 L321.5 794.9 L321.4 804 L321.3 810.4 L321.2 814 L321.1 815.7 L321.1 816.2 L321 816.1 L320.9 815.9 L320.8 816.3 L320.7 817.2 L320.5 818.1 L320.4 819 L320.3 819.8 L320.1 820.6 L319.8 821.4 L319.6 822.1 L319.3 822.8 L319 823.4 L318.6 824 L318.2 824.6 L317.7 825.2 L317.1 825.8 L316.2 826.3 L315.4 826.9 L314.5 827.4 L313.8 827.8 L313.3 828.2 L313 828.4 L312.9 828.6 L313 828.8 L313 828.9 L313.1 828.9 L313.2 829Z" fill="#00BFC4" stroke="#333" stroke-width="2.9" stroke-linejoin="round"/>
<path d="M347.9 829 L348 828.9 L348 828.9 L348 828.8 L348.1 828.7 L348 828.5 L347.8 828.2 L347.5 827.7 L347 827.2 L346.5 826.7 L345.9 826.1 L345.4 825.4 L344.9 824.8 L344.6 824.1 L344.3 823.5 L344 822.8 L343.8 822.1 L343.5 821.3 L343.3 820.5 L343.2 819.8 L343 819 L342.9 818.2 L342.8 817.3 L342.6 816.4 L342.5 815.5 L342.4 814.8 L342.3 814.4 L342.3 814 L342.2 813.2 L342.1 811.5 L342 808.7 L341.9 804 L341.8 797.7 L341.7 790.5 L341.6 783.4 L341.6 777.3 L341.5 773.1 L341.1 773.1 L341.1 777.3 L341 783.4 L340.9 790.5 L340.8 797.7 L340.7 804 L340.6 808.7 L340.6 811.5 L340.5 813.2 L340.4 814 L340.3 814.4 L340.2 814.8 L340.1 815.5 L340 816.4 L339.9 817.3 L339.8 818.2 L339.6 819 L339.5 819.8 L339.3 820.5 L339.1 821.3 L338.9 822.1 L338.6 822.8 L338.4 823.5 L338.1 824.1 L337.7 824.8 L337.3 825.4 L336.7 826.1 L336.2 826.7 L335.6 827.2 L335.2 827.7 L334.8 828.2 L334.7 828.5 L334.6 828.7 L334.6 828.8 L334.6 828.9 L334.7 828.9 L334.7 829Z" fill="#00BFC4" stroke="#333" stroke-width="2.9" stroke-linejoin="round"/>
<path d="M362.4 829 L362.6 828.2 L362.9 827 L363.2 825.6 L363.6 824.3 L363.9 823.1 L364.1 822.1 L364.4 821.2 L364.6 820.4 L364.9 819.6 L365.1 818.9 L365.3 818.1 L365.5 817.5 L365.7 816.9 L365.9 816.2 L365.9 815.5 L365.7 814.7 L365.4 813.9 L365 813 L364.6 812.2 L364.3 811.3 L363.9 810.3 L363.5 809.3 L363.2 808.3 L362.8 807.3 L362.5 806.2 L362.3 805.2 L362.1 804.4 L361.9 803.5 L361.7 802.2 L361.5 800.3 L361.4 797.2 L361.2 793.2 L361.1 789 L361 785.2 L360.9 782.6 L360.4 782.6 L360.3 785.2 L360.2 789 L360.1 793.2 L359.9 797.2 L359.8 800.3 L359.6 802.2 L359.4 803.5 L359.2 804.4 L359 805.2 L358.8 806.2 L358.5 807.3 L358.1 808.3 L357.8 809.3 L357.4 810.3 L357 811.3 L356.7 812.2 L356.3 813 L355.9 813.9 L355.6 814.7 L355.4 815.5 L355.4 816.2 L355.6 816.9 L355.8 817.5 L356 818.1 L356.2 818.9 L356.4 819.6 L356.7 820.4 L356.9 821.2 L357.2 822.1 L357.4 823.1 L357.7 824.3 L358.1 825.6 L358.4 827 L358.7 828.2 L358.9 829Z" fill="#00BFC4" stroke="#333" stroke-width="2.9" stroke-linejoin="round"/>
<path d="M384.8 829 L384.7 828.6 L384.7 828 L384.6 827.3 L384.5 826.5 L384.4 825.6 L384.3 824.8 L384.1 823.9 L383.9 822.9 L383.8 821.9 L383.6 820.9 L383.4 819.9 L383.2 818.9 L383 817.9 L382.9 816.9 L382.7 815.8 L382.6 814.9 L382.4 813.9 L382.3 812.9 L382.1 812.1 L381.9 811.2 L381.7 810.4 L381.5 809.5 L381.3 808.7 L381.2 807.9 L381.1 807.1 L381 806.3 L380.9 805.6 L380.8 804.8 L380.7 803.9 L380.7 802.8 L380.6 801.5 L380.5 799.9 L380.4 798.1 L380.3 796.5 L380.2 795.1 L380.2 794.1 L379.8 794.1 L379.7 795.1 L379.6 796.5 L379.6 798.1 L379.5 799.9 L379.4 801.5 L379.3 802.8 L379.2 803.9 L379.1 804.8 L379.1 805.6 L379 806.3 L378.9 807.1 L378.8 807.9 L378.6 808.7 L378.4 809.5 L378.3 810.4 L378.1 811.2 L377.9 812.1 L377.7 812.9 L377.5 813.9 L377.4 814.9 L377.2 815.8 L377.1 816.9 L376.9 817.9 L376.8 818.9 L376.6 819.9 L376.4 820.9 L376.2 821.9 L376 822.9 L375.8 823.9 L375.7 824.8 L375.6 825.6 L375.5 826.5 L375.4 827.3 L375.3 828 L375.2 828.6 L375.2 829Z" fill="#00BFC4" stroke="#333" stroke-width="2.9" stroke-linejoin="round"/>
<path d="M408.1 829 L408.2 828.9 L408.2 828.9 L408.3 828.8 L408.3 828.7 L408.2 828.5 L408 828.2 L407.6 827.7 L407 827.2 L406.3 826.6 L405.5 826 L404.8 825.4 L404.3 824.8 L403.8 824.2 L403.4 823.6 L403 823.1 L402.6 822.5 L402.3 822 L402 821.4 L401.7 820.8 L401.5 820.3 L401.2 819.8 L401 819.2 L400.8 818.6 L400.7 818 L400.5 817.4 L400.4 816.8 L400.3 816.1 L400.2 815.4 L400.1 814.7 L400 813.8 L399.9 812.7 L399.8 811.5 L399.7 810.1 L399.6 808.9 L399.6 807.8 L399.5 807 L399.1 807 L399 807.8 L399 808.9 L398.9 810.1 L398.8 811.5 L398.7 812.7 L398.6 813.8 L398.5 814.7 L398.4 815.4 L398.3 816.1 L398.2 816.8 L398.1 817.4 L398 818 L397.8 818.6 L397.6 819.2 L397.4 819.8 L397.2 820.3 L396.9 820.8 L396.6 821.4 L396.3 822 L396 822.5 L395.6 823.1 L395.3 823.6 L394.8 824.2 L394.4 824.8 L393.8 825.4 L393.1 826 L392.4 826.6 L391.7 827.2 L391.1 827.7 L390.6 828.2 L390.4 828.5 L390.3 828.7 L390.3 828.8 L390.4 828.9 L390.5 828.9 L390.5 829Z" fill="#00BFC4" stroke="#333" stroke-width="2.9" stroke-linejoin="round"/>
<path d="M418.9 829 L418.9 828.5 L418.9 827.7 L419 826.8 L419.1 826 L419.3 825.2 L419.7 824.6 L420.2 824 L420.8 823.5 L421.4 822.9 L422.1 822.2 L423 821.5 L424 820.6 L425 819.8 L425.8 818.9 L426.1 818 L425.9 817.2 L425.4 816.3 L424.6 815.5 L423.7 814.6 L423.1 813.8 L422.5 812.9 L422 812.1 L421.6 811.3 L421.2 810.4 L420.8 809.6 L420.5 808.9 L420.2 808.3 L419.9 807.6 L419.7 806.7 L419.5 805.3 L419.3 803.2 L419.1 800.3 L419 797.3 L418.9 794.6 L418.9 792.7 L418.4 792.7 L418.4 794.6 L418.3 797.3 L418.1 800.3 L418 803.2 L417.8 805.3 L417.6 806.7 L417.4 807.6 L417.1 808.3 L416.8 808.9 L416.5 809.6 L416.1 810.4 L415.7 811.3 L415.2 812.1 L414.7 812.9 L414.2 813.8 L413.5 814.6 L412.7 815.5 L411.9 816.3 L411.3 817.2 L411.2 818 L411.5 818.9 L412.3 819.8 L413.3 820.6 L414.3 821.5 L415.2 822.2 L415.8 822.9 L416.5 823.5 L417.1 824 L417.6 824.6 L418 825.2 L418.2 826 L418.3 826.8 L418.3 827.7 L418.3 828.5 L418.4 829Z" fill="#00BFC4" stroke="#333" stroke-width="2.9" stroke-linejoin="round"/>
<path d="M442.4 829 L442.3 828.6 L442.3 828 L442.2 827.3 L442.1 826.5 L442 825.6 L441.9 824.8 L441.7 823.9 L441.6 823 L441.4 822 L441.2 821 L441.1 819.9 L440.9 818.9 L440.8 817.8 L440.6 816.7 L440.5 815.5 L440.4 814.4 L440.3 813.2 L440.1 812.1 L440 811 L439.8 809.8 L439.6 808.7 L439.5 807.5 L439.3 806.4 L439.2 805.3 L439.1 804.3 L439 803.3 L438.9 802.4 L438.8 801.4 L438.7 800.5 L438.7 799.4 L438.6 798.2 L438.5 796.9 L438.4 795.5 L438.3 794.3 L438.2 793.2 L438.2 792.4 L437.8 792.4 L437.7 793.2 L437.6 794.3 L437.6 795.5 L437.5 796.9 L437.4 798.2 L437.3 799.4 L437.2 800.5 L437.1 801.4 L437 802.4 L437 803.3 L436.9 804.3 L436.8 805.3 L436.6 806.4 L436.5 807.5 L436.3 808.7 L436.1 809.8 L436 811 L435.8 812.1 L435.7 813.2 L435.5 814.4 L435.4 815.5 L435.3 816.7 L435.2 817.8 L435 818.9 L434.9 819.9 L434.7 821 L434.5 822 L434.4 823 L434.2 823.9 L434.1 824.8 L434 825.6 L433.9 826.5 L433.8 827.3 L433.7 828 L433.6 828.6 L433.6 829Z" fill="#00BFC4" stroke="#333" stroke-width="2.9" stroke-linejoin="round"/>
<path d="M463.6 829 L463.7 828.7 L463.9 828.4 L464.2 827.9 L464.4 827.5 L464.5 827 L464.5 826.5 L464.4 826 L464.1 825.4 L463.7 824.8 L463.3 824.2 L462.9 823.7 L462.5 823.1 L462.2 822.5 L461.8 822 L461.5 821.4 L461.2 820.9 L460.8 820.3 L460.5 819.7 L460.2 819 L459.9 818.4 L459.6 817.6 L459.3 816.9 L459 816.2 L458.8 815.5 L458.6 814.9 L458.5 814.3 L458.3 813.8 L458.2 813.2 L458.1 812.4 L458 811.3 L457.9 809.6 L457.8 807.5 L457.7 805.2 L457.6 803 L457.6 801 L457.5 799.7 L457.1 799.7 L457 801 L457 803 L456.9 805.2 L456.8 807.5 L456.7 809.6 L456.5 811.3 L456.5 812.4 L456.4 813.2 L456.3 813.8 L456.1 814.3 L456 814.9 L455.8 815.5 L455.6 816.2 L455.3 816.9 L455 817.6 L454.7 818.4 L454.4 819 L454.1 819.7 L453.8 820.3 L453.4 820.9 L453.1 821.4 L452.8 822 L452.4 822.5 L452.1 823.1 L451.7 823.7 L451.3 824.2 L450.9 824.8 L450.5 825.4 L450.2 826 L450.1 826.5 L450.1 827 L450.2 827.5 L450.4 827.9 L450.7 828.4 L450.9 828.7 L451 829Z" fill="#00BFC4" stroke="#333" stroke-width="2.9" stroke-linejoin="round"/>
<rect x="703.2" y="576" width="14.9" height="89.6" fill="#CCCCCC"/>
<text text-anchor="middle" transform="translate(705.3 622.3) rotate(90)">ER</text>
<line x1="684" y1="574.7" x2="684" y2="667" stroke="#000" stroke-width="3.3"/>
<line x1="678.4" y1="662" x2="684" y2="662" stroke="#000" stroke-width="2.8"/>
<text x="677.1" y="669.4" text-anchor="end" font-size="18.4">0.0</text>
<line x1="678.4" y1="640.2" x2="684" y2="640.2" stroke="#000" stroke-width="2.8"/>
<text x="677.1" y="647.6" text-anchor="end" font-size="18.4">2.5</text>
<line x1="678.4" y1="618.4" x2="684" y2="618.4" stroke="#000" stroke-width="2.8"/>
<text x="677.1" y="625.8" text-anchor="end" font-size="18.4">5.0</text>
<line x1="678.4" y1="596.6" x2="684" y2="596.6" stroke="#000" stroke-width="2.8"/>
<text x="677.1" y="604" text-anchor="end" font-size="18.4">7.5</text>
<rect x="703.2" y="676" width="14.9" height="89.4" fill="#CCCCCC"/>
<text text-anchor="middle" transform="translate(705.3 722.2) rotate(90)">TP</text>
<line x1="684" y1="675" x2="684" y2="767.3" stroke="#000" stroke-width="3.3"/>
<line x1="678.4" y1="762" x2="684" y2="762" stroke="#000" stroke-width="2.8"/>
<text x="677.1" y="769.4" text-anchor="end" font-size="18.4">0.0</text>
<line x1="678.4" y1="740.2" x2="684" y2="740.2" stroke="#000" stroke-width="2.8"/>
<text x="677.1" y="747.6" text-anchor="end" font-size="18.4">2.5</text>
<line x1="678.4" y1="718.4" x2="684" y2="718.4" stroke="#000" stroke-width="2.8"/>
<text x="677.1" y="725.8" text-anchor="end" font-size="18.4">5.0</text>
<line x1="678.4" y1="696.6" x2="684" y2="696.6" stroke="#000" stroke-width="2.8"/>
<text x="677.1" y="704" text-anchor="end" font-size="18.4">7.5</text>
<rect x="703.2" y="775.7" width="14.9" height="89.8" fill="#CCCCCC"/>
<text text-anchor="middle" transform="translate(705.3 822.1) rotate(90)">HR</text>
<line x1="684" y1="774" x2="684" y2="866" stroke="#000" stroke-width="3.3"/>
<line x1="678.4" y1="861.4" x2="684" y2="861.4" stroke="#000" stroke-width="2.8"/>
<text x="677.1" y="868.8" text-anchor="end" font-size="18.4">0.0</text>
<line x1="678.4" y1="839.6" x2="684" y2="839.6" stroke="#000" stroke-width="2.8"/>
<text x="677.1" y="847" text-anchor="end" font-size="18.4">2.5</text>
<line x1="678.4" y1="817.8" x2="684" y2="817.8" stroke="#000" stroke-width="2.8"/>
<text x="677.1" y="825.2" text-anchor="end" font-size="18.4">5.0</text>
<line x1="678.4" y1="796" x2="684" y2="796" stroke="#000" stroke-width="2.8"/>
<text x="677.1" y="803.4" text-anchor="end" font-size="18.4">7.5</text>
<rect x="703.2" y="875" width="14.9" height="89.8" fill="#CCCCCC"/>
<text text-anchor="middle" transform="translate(705.3 921.4) rotate(90)">TN</text>
<line x1="684" y1="874" x2="684" y2="964.9" stroke="#000" stroke-width="3.3"/>
<line x1="678.4" y1="960.8" x2="684" y2="960.8" stroke="#000" stroke-width="2.8"/>
<text x="677.1" y="968.2" text-anchor="end" font-size="18.4">0.0</text>
<line x1="678.4" y1="939" x2="684" y2="939" stroke="#000" stroke-width="2.8"/>
<text x="677.1" y="946.4" text-anchor="end" font-size="18.4">2.5</text>
<line x1="678.4" y1="917.2" x2="684" y2="917.2" stroke="#000" stroke-width="2.8"/>
<text x="677.1" y="924.6" text-anchor="end" font-size="18.4">5.0</text>
<line x1="678.4" y1="895.4" x2="684" y2="895.4" stroke="#000" stroke-width="2.8"/>
<text x="677.1" y="902.8" text-anchor="end" font-size="18.4">7.5</text>
<line x1="682.4" y1="964.9" x2="703.7" y2="964.9" stroke="#000" stroke-width="3.3"/>
<line x1="688.4" y1="964.9" x2="688.4" y2="969.1" stroke="#000" stroke-width="2.8"/>
<text text-anchor="end" font-style="italic" transform="translate(694.3 977.5) rotate(-75)">Taenia</text>
<text x="680.7" y="566.6">Violin Plot</text>
<text text-anchor="middle" transform="translate(636.5 763) rotate(-90)">avg hyb</text>
<line x1="686.5" y1="861.4" x2="700.5" y2="861.4" stroke="#333" stroke-width="3" stroke-linecap="round"/>
<line x1="686.5" y1="960.3" x2="700.5" y2="960.3" stroke="#333" stroke-width="2.6" stroke-linecap="round"/>
<path d="M697 662.4 L697.4 662.1 L697.9 661.6 L698.6 661 L699.2 660.4 L699.6 659.8 L699.9 659.1 L700.1 658.5 L700.3 657.7 L700.3 657 L700.2 656.3 L700 655.6 L699.7 654.9 L699.3 654.2 L698.8 653.5 L698.3 652.8 L697.9 652.2 L697.4 651.6 L697 651 L696.5 650.4 L696 649.8 L695.6 649.2 L695.1 648.6 L694.7 648 L694.3 647.3 L694 646.7 L693.9 646 L693.8 645.3 L693.8 644.5 L693.8 643.8 L693.8 643.2 L693.7 642.7 L693.7 642.1 L693.7 641.7 L693.7 641.3 L693.6 641 L692.9 641 L692.9 641.3 L692.9 641.7 L692.9 642.1 L692.9 642.7 L692.8 643.2 L692.8 643.8 L692.8 644.5 L692.8 645.3 L692.7 646 L692.5 646.7 L692.3 647.3 L691.9 648 L691.5 648.6 L691 649.2 L690.5 649.8 L690.1 650.4 L689.6 651 L689.2 651.6 L688.7 652.2 L688.2 652.8 L687.8 653.5 L687.3 654.2 L686.9 654.9 L686.6 655.6 L686.3 656.3 L686.3 657 L686.3 657.7 L686.5 658.5 L686.7 659.1 L687 659.8 L687.4 660.4 L688 661 L688.7 661.6 L689.2 662.1 L689.6 662.4Z" fill="#F8766D" stroke="#333" stroke-width="2.9" stroke-linejoin="round"/>
<path d="M699.6 762.4 L699.8 761.5 L699.9 760.3 L700 758.9 L700.1 757.6 L700.2 756.2 L700.1 754.6 L699.9 752.6 L699.5 750.5 L699.1 748.4 L698.7 746.4 L698.2 744.4 L697.6 742.3 L697.1 740.3 L696.5 738.3 L695.9 736.2 L695.5 734.2 L695 732.2 L694.6 730.1 L694.4 727.9 L694.1 725.6 L693.9 723.2 L693.8 720.4 L693.7 717.4 L693.6 714.4 L693.6 711.5 L693.6 708.6 L693.6 705.7 L693.8 702.8 L693.9 699.9 L694 697 L693.9 694.1 L693.8 691.1 L693.6 688.3 L693.6 685.3 L693.6 682.4 L693.5 680.4 L693 680.4 L693 682.4 L693 685.3 L692.9 688.3 L692.8 691.1 L692.7 694.1 L692.6 697 L692.7 699.9 L692.8 702.8 L692.9 705.7 L693 708.6 L693 711.5 L692.9 714.4 L692.9 717.4 L692.8 720.4 L692.6 723.2 L692.5 725.6 L692.2 727.9 L691.9 730.1 L691.6 732.2 L691.1 734.2 L690.6 736.2 L690.1 738.3 L689.5 740.3 L688.9 742.3 L688.4 744.4 L687.9 746.4 L687.4 748.4 L687.1 750.5 L686.7 752.6 L686.5 754.6 L686.4 756.2 L686.5 757.6 L686.5 758.9 L686.7 760.3 L686.8 761.5 L686.9 762.4Z" fill="#7CAE00" stroke="#333" stroke-width="2.9" stroke-linejoin="round"/>
<line x1="354.5" y1="357.4" x2="179" y2="423.5" stroke="#000" stroke-width="1.4"/>
<path d="M163.5 429.4 L180.1 414 L179.4 423.4 L186.1 429.9Z" fill="#000"/>
<line x1="740" y1="164" x2="834" y2="88" stroke="#000" stroke-width="1.5"/>
<path d="M849.1 76.2 L837.6 97 L835.1 87.5 L826.3 83Z" fill="#000"/>
<path d="M619.5 375.8H769V723.9H745" fill="none" stroke="#000" stroke-width="1.4"/>
<path d="M726.6 723.9 L747.6 715.4 L743.6 723.9 L747.6 732.4Z" fill="#000"/>
<path d="M540 448.7V791.9H520" fill="none" stroke="#000" stroke-width="1.4"/>
<path d="M500.7 791.9 L521.7 783.4 L517.7 791.9 L521.7 800.4Z" fill="#000"/>
<rect x="893.6" y="570.2" width="763.6" height="507" fill="none" stroke="#111" stroke-width="1.5"/>
<g stroke-width="1.0" stroke-opacity="0.9"><line x1="1013.1" y1="602.8" x2="1010" y2="636.1" stroke="#519a5c"/><line x1="1013.1" y1="602.8" x2="1028.1" y2="664.7" stroke="#746e57"/><line x1="1083.6" y1="620" x2="1036.1" y2="628.9" stroke="#d6d22a"/><line x1="1083.6" y1="620" x2="1060.3" y2="631.4" stroke="#d6b324"/><line x1="1083.6" y1="620" x2="1010" y2="636.1" stroke="#b0cf27"/><line x1="1083.6" y1="620" x2="1084.7" y2="645.8" stroke="#bf7821"/><line x1="1083.6" y1="620" x2="1108.6" y2="646.4" stroke="#d6c228"/><line x1="1083.6" y1="620" x2="1041.4" y2="652.2" stroke="#c78522"/><line x1="1083.6" y1="620" x2="1064.4" y2="655.8" stroke="#bf7821"/><line x1="1083.6" y1="620" x2="1115.3" y2="663.9" stroke="#d6c228"/><line x1="1083.6" y1="620" x2="1028.1" y2="664.7" stroke="#d3a421"/><line x1="1083.6" y1="620" x2="1086.4" y2="665.6" stroke="#bf7821"/><line x1="1083.6" y1="620" x2="1046.1" y2="670.3" stroke="#ce9120"/><line x1="1083.6" y1="620" x2="1067.5" y2="674.7" stroke="#bf7821"/><line x1="1083.6" y1="620" x2="1091.9" y2="686.1" stroke="#b0cf27"/><line x1="1083.6" y1="620" x2="1038.3" y2="688.1" stroke="#ce9120"/><line x1="1083.6" y1="620" x2="1116.7" y2="690.6" stroke="#c3cf27"/><line x1="1083.6" y1="620" x2="1066.7" y2="693.3" stroke="#c78522"/><line x1="1083.6" y1="620" x2="1085" y2="701.9" stroke="#d3a421"/><line x1="1036.1" y1="628.9" x2="1060.3" y2="631.4" stroke="#d6b324"/><line x1="1036.1" y1="628.9" x2="1010" y2="636.1" stroke="#b0cf27"/><line x1="1036.1" y1="628.9" x2="956.7" y2="645" stroke="#79bb5a"/><line x1="1036.1" y1="628.9" x2="1084.7" y2="645.8" stroke="#bf7821"/><line x1="1036.1" y1="628.9" x2="1108.6" y2="646.4" stroke="#d6c228"/><line x1="1036.1" y1="628.9" x2="988.1" y2="648.6" stroke="#d6c228"/><line x1="1036.1" y1="628.9" x2="1006.7" y2="653.1" stroke="#c3cf27"/><line x1="1036.1" y1="628.9" x2="1041.4" y2="652.2" stroke="#c78522"/><line x1="1036.1" y1="628.9" x2="1064.4" y2="655.8" stroke="#bf7821"/><line x1="1036.1" y1="628.9" x2="966.9" y2="662.5" stroke="#80cc23"/><line x1="1036.1" y1="628.9" x2="1028.1" y2="664.7" stroke="#d3a421"/><line x1="1036.1" y1="628.9" x2="1086.4" y2="665.6" stroke="#bf7821"/><line x1="1036.1" y1="628.9" x2="988.1" y2="668.9" stroke="#c3cf27"/><line x1="1036.1" y1="628.9" x2="1011.7" y2="672.8" stroke="#ce9120"/><line x1="1036.1" y1="628.9" x2="1046.1" y2="670.3" stroke="#ce9120"/><line x1="1036.1" y1="628.9" x2="1067.5" y2="674.7" stroke="#bf7821"/><line x1="1036.1" y1="628.9" x2="1091.9" y2="686.1" stroke="#b0cf27"/><line x1="1036.1" y1="628.9" x2="1038.3" y2="688.1" stroke="#ce9120"/><line x1="1036.1" y1="628.9" x2="992.5" y2="690.8" stroke="#d6b324"/><line x1="1036.1" y1="628.9" x2="1015.3" y2="695" stroke="#d3a421"/><line x1="1036.1" y1="628.9" x2="1066.7" y2="693.3" stroke="#c78522"/><line x1="1060.3" y1="631.4" x2="1010" y2="636.1" stroke="#b0b120"/><line x1="1060.3" y1="631.4" x2="1084.7" y2="645.8" stroke="#bf5a1a"/><line x1="1060.3" y1="631.4" x2="1108.6" y2="646.4" stroke="#d6a322"/><line x1="1060.3" y1="631.4" x2="988.1" y2="648.6" stroke="#d6a322"/><line x1="1060.3" y1="631.4" x2="1006.7" y2="653.1" stroke="#c3b120"/><line x1="1060.3" y1="631.4" x2="1041.4" y2="652.2" stroke="#c7671c"/><line x1="1060.3" y1="631.4" x2="1064.4" y2="655.8" stroke="#bf5a1a"/><line x1="1060.3" y1="631.4" x2="1115.3" y2="663.9" stroke="#d6a322"/><line x1="1060.3" y1="631.4" x2="1028.1" y2="664.7" stroke="#d3851b"/><line x1="1060.3" y1="631.4" x2="1086.4" y2="665.6" stroke="#bf5a1a"/><line x1="1060.3" y1="631.4" x2="988.1" y2="668.9" stroke="#c3b120"/><line x1="1060.3" y1="631.4" x2="1011.7" y2="672.8" stroke="#ce731a"/><line x1="1060.3" y1="631.4" x2="1046.1" y2="670.3" stroke="#ce731a"/><line x1="1060.3" y1="631.4" x2="1067.5" y2="674.7" stroke="#bf5a1a"/><line x1="1060.3" y1="631.4" x2="1091.9" y2="686.1" stroke="#b0b120"/><line x1="1060.3" y1="631.4" x2="1038.3" y2="688.1" stroke="#ce731a"/><line x1="1060.3" y1="631.4" x2="1116.7" y2="690.6" stroke="#c3b120"/><line x1="1060.3" y1="631.4" x2="1015.3" y2="695" stroke="#d3851b"/><line x1="1060.3" y1="631.4" x2="1066.7" y2="693.3" stroke="#c7671c"/><line x1="1060.3" y1="631.4" x2="1085" y2="701.9" stroke="#d3851b"/><line x1="1010" y1="636.1" x2="956.7" y2="645" stroke="#54b956"/><line x1="1010" y1="636.1" x2="1084.7" y2="645.8" stroke="#99761d"/><line x1="1010" y1="636.1" x2="988.1" y2="648.6" stroke="#b0bf24"/><line x1="1010" y1="636.1" x2="1006.7" y2="653.1" stroke="#9dcd23"/><line x1="1010" y1="636.1" x2="1041.4" y2="652.2" stroke="#a2831f"/><line x1="1010" y1="636.1" x2="1064.4" y2="655.8" stroke="#99761d"/><line x1="1010" y1="636.1" x2="966.9" y2="662.5" stroke="#5bca1f"/><line x1="1010" y1="636.1" x2="1028.1" y2="664.7" stroke="#aea21d"/><line x1="1010" y1="636.1" x2="1086.4" y2="665.6" stroke="#99761d"/><line x1="1010" y1="636.1" x2="988.1" y2="668.9" stroke="#9dcd23"/><line x1="1010" y1="636.1" x2="1011.7" y2="672.8" stroke="#a88f1c"/><line x1="1010" y1="636.1" x2="1046.1" y2="670.3" stroke="#a88f1c"/><line x1="1010" y1="636.1" x2="1067.5" y2="674.7" stroke="#99761d"/><line x1="1010" y1="636.1" x2="958.1" y2="685.8" stroke="#b0bf24"/><line x1="1010" y1="636.1" x2="1038.3" y2="688.1" stroke="#a88f1c"/><line x1="1010" y1="636.1" x2="992.5" y2="690.8" stroke="#b0b120"/><line x1="1010" y1="636.1" x2="1015.3" y2="695" stroke="#aea21d"/><line x1="1010" y1="636.1" x2="1066.7" y2="693.3" stroke="#a2831f"/><line x1="1010" y1="636.1" x2="970" y2="702.5" stroke="#b0bf24"/><line x1="956.7" y1="645" x2="988.1" y2="648.6" stroke="#79ab58"/><line x1="956.7" y1="645" x2="1006.7" y2="653.1" stroke="#66b956"/><line x1="956.7" y1="645" x2="966.9" y2="662.5" stroke="#23b653"/><line x1="956.7" y1="645" x2="1028.1" y2="664.7" stroke="#768d51"/><line x1="956.7" y1="645" x2="988.1" y2="668.9" stroke="#66b956"/><line x1="956.7" y1="645" x2="935.3" y2="672.2" stroke="#23b653"/><line x1="956.7" y1="645" x2="1011.7" y2="672.8" stroke="#717b50"/><line x1="956.7" y1="645" x2="958.1" y2="685.8" stroke="#79ab58"/><line x1="956.7" y1="645" x2="992.5" y2="690.8" stroke="#799d54"/><line x1="956.7" y1="645" x2="1015.3" y2="695" stroke="#768d51"/><line x1="956.7" y1="645" x2="970" y2="702.5" stroke="#79ab58"/><line x1="1084.7" y1="645.8" x2="1108.6" y2="646.4" stroke="#bf691f"/><line x1="1084.7" y1="645.8" x2="1006.7" y2="653.1" stroke="#ac761d"/><line x1="1084.7" y1="645.8" x2="1041.4" y2="652.2" stroke="#b02c19"/><line x1="1084.7" y1="645.8" x2="1064.4" y2="655.8" stroke="#a81f17"/><line x1="1084.7" y1="645.8" x2="1115.3" y2="663.9" stroke="#bf691f"/><line x1="1084.7" y1="645.8" x2="1028.1" y2="664.7" stroke="#bc4b17"/><line x1="1084.7" y1="645.8" x2="1086.4" y2="665.6" stroke="#a81f17"/><line x1="1084.7" y1="645.8" x2="1011.7" y2="672.8" stroke="#b73817"/><line x1="1084.7" y1="645.8" x2="1046.1" y2="670.3" stroke="#b73817"/><line x1="1084.7" y1="645.8" x2="1067.5" y2="674.7" stroke="#a81f17"/><line x1="1084.7" y1="645.8" x2="1091.9" y2="686.1" stroke="#99761d"/><line x1="1084.7" y1="645.8" x2="1038.3" y2="688.1" stroke="#b73817"/><line x1="1084.7" y1="645.8" x2="1116.7" y2="690.6" stroke="#ac761d"/><line x1="1084.7" y1="645.8" x2="1066.7" y2="693.3" stroke="#b02c19"/><line x1="1084.7" y1="645.8" x2="1085" y2="701.9" stroke="#bc4b17"/><line x1="1084.7" y1="645.8" x2="1058.3" y2="718.9" stroke="#bf7821"/><line x1="1108.6" y1="646.4" x2="1041.4" y2="652.2" stroke="#c77520"/><line x1="1108.6" y1="646.4" x2="1064.4" y2="655.8" stroke="#bf691f"/><line x1="1108.6" y1="646.4" x2="1115.3" y2="663.9" stroke="#d6b226"/><line x1="1108.6" y1="646.4" x2="1086.4" y2="665.6" stroke="#bf691f"/><line x1="1108.6" y1="646.4" x2="1046.1" y2="670.3" stroke="#ce811e"/><line x1="1108.6" y1="646.4" x2="1067.5" y2="674.7" stroke="#bf691f"/><line x1="1108.6" y1="646.4" x2="1091.9" y2="686.1" stroke="#b0bf24"/><line x1="1108.6" y1="646.4" x2="1038.3" y2="688.1" stroke="#ce811e"/><line x1="1108.6" y1="646.4" x2="1116.7" y2="690.6" stroke="#c3bf24"/><line x1="1108.6" y1="646.4" x2="1066.7" y2="693.3" stroke="#c77520"/><line x1="1108.6" y1="646.4" x2="1085" y2="701.9" stroke="#d3941f"/><line x1="988.1" y1="648.6" x2="1006.7" y2="653.1" stroke="#c3bf24"/><line x1="988.1" y1="648.6" x2="1041.4" y2="652.2" stroke="#c77520"/><line x1="988.1" y1="648.6" x2="1064.4" y2="655.8" stroke="#bf691f"/><line x1="988.1" y1="648.6" x2="966.9" y2="662.5" stroke="#80bd21"/><line x1="988.1" y1="648.6" x2="1028.1" y2="664.7" stroke="#d3941f"/><line x1="988.1" y1="648.6" x2="988.1" y2="668.9" stroke="#c3bf24"/><line x1="988.1" y1="648.6" x2="935.3" y2="672.2" stroke="#80bd21"/><line x1="988.1" y1="648.6" x2="1011.7" y2="672.8" stroke="#ce811e"/><line x1="988.1" y1="648.6" x2="1046.1" y2="670.3" stroke="#ce811e"/><line x1="988.1" y1="648.6" x2="958.1" y2="685.8" stroke="#d6b226"/><line x1="988.1" y1="648.6" x2="1038.3" y2="688.1" stroke="#ce811e"/><line x1="988.1" y1="648.6" x2="992.5" y2="690.8" stroke="#d6a322"/><line x1="988.1" y1="648.6" x2="1015.3" y2="695" stroke="#d3941f"/><line x1="988.1" y1="648.6" x2="970" y2="702.5" stroke="#d6b226"/><line x1="1006.7" y1="653.1" x2="1041.4" y2="652.2" stroke="#b4831f"/><line x1="1006.7" y1="653.1" x2="1064.4" y2="655.8" stroke="#ac761d"/><line x1="1006.7" y1="653.1" x2="966.9" y2="662.5" stroke="#6dca1f"/><line x1="1006.7" y1="653.1" x2="1028.1" y2="664.7" stroke="#c0a21d"/><line x1="1006.7" y1="653.1" x2="1086.4" y2="665.6" stroke="#ac761d"/><line x1="1006.7" y1="653.1" x2="988.1" y2="668.9" stroke="#b0cd23"/><line x1="1006.7" y1="653.1" x2="935.3" y2="672.2" stroke="#6dca1f"/><line x1="1006.7" y1="653.1" x2="1011.7" y2="672.8" stroke="#bb8f1c"/><line x1="1006.7" y1="653.1" x2="1046.1" y2="670.3" stroke="#bb8f1c"/><line x1="1006.7" y1="653.1" x2="1067.5" y2="674.7" stroke="#ac761d"/><line x1="1006.7" y1="653.1" x2="958.1" y2="685.8" stroke="#c3bf24"/><line x1="1006.7" y1="653.1" x2="1038.3" y2="688.1" stroke="#bb8f1c"/><line x1="1006.7" y1="653.1" x2="992.5" y2="690.8" stroke="#c3b120"/><line x1="1006.7" y1="653.1" x2="1015.3" y2="695" stroke="#c0a21d"/><line x1="1006.7" y1="653.1" x2="1066.7" y2="693.3" stroke="#b4831f"/><line x1="1006.7" y1="653.1" x2="970" y2="702.5" stroke="#c3bf24"/><line x1="1041.4" y1="652.2" x2="1064.4" y2="655.8" stroke="#b02c19"/><line x1="1041.4" y1="652.2" x2="966.9" y2="662.5" stroke="#71801b"/><line x1="1041.4" y1="652.2" x2="1115.3" y2="663.9" stroke="#c77520"/><line x1="1041.4" y1="652.2" x2="1028.1" y2="664.7" stroke="#c45719"/><line x1="1041.4" y1="652.2" x2="1086.4" y2="665.6" stroke="#b02c19"/><line x1="1041.4" y1="652.2" x2="988.1" y2="668.9" stroke="#b4831f"/><line x1="1041.4" y1="652.2" x2="1011.7" y2="672.8" stroke="#bf4518"/><line x1="1041.4" y1="652.2" x2="1046.1" y2="670.3" stroke="#bf4518"/><line x1="1041.4" y1="652.2" x2="1067.5" y2="674.7" stroke="#b02c19"/><line x1="1041.4" y1="652.2" x2="1091.9" y2="686.1" stroke="#a2831f"/><line x1="1041.4" y1="652.2" x2="1038.3" y2="688.1" stroke="#bf4518"/><line x1="1041.4" y1="652.2" x2="992.5" y2="690.8" stroke="#c7671c"/><line x1="1041.4" y1="652.2" x2="1015.3" y2="695" stroke="#c45719"/><line x1="1041.4" y1="652.2" x2="1066.7" y2="693.3" stroke="#b8391a"/><line x1="1041.4" y1="652.2" x2="1085" y2="701.9" stroke="#c45719"/><line x1="1041.4" y1="652.2" x2="1058.3" y2="718.9" stroke="#c78522"/><line x1="1064.4" y1="655.8" x2="1115.3" y2="663.9" stroke="#bf691f"/><line x1="1064.4" y1="655.8" x2="1028.1" y2="664.7" stroke="#bc4b17"/><line x1="1064.4" y1="655.8" x2="1086.4" y2="665.6" stroke="#a81f17"/><line x1="1064.4" y1="655.8" x2="988.1" y2="668.9" stroke="#ac761d"/><line x1="1064.4" y1="655.8" x2="1011.7" y2="672.8" stroke="#b73817"/><line x1="1064.4" y1="655.8" x2="1046.1" y2="670.3" stroke="#b73817"/><line x1="1064.4" y1="655.8" x2="1067.5" y2="674.7" stroke="#a81f17"/><line x1="1064.4" y1="655.8" x2="1091.9" y2="686.1" stroke="#99761d"/><line x1="1064.4" y1="655.8" x2="1038.3" y2="688.1" stroke="#b73817"/><line x1="1064.4" y1="655.8" x2="992.5" y2="690.8" stroke="#bf5a1a"/><line x1="1064.4" y1="655.8" x2="1116.7" y2="690.6" stroke="#ac761d"/><line x1="1064.4" y1="655.8" x2="1015.3" y2="695" stroke="#bc4b17"/><line x1="1064.4" y1="655.8" x2="1066.7" y2="693.3" stroke="#b02c19"/><line x1="1064.4" y1="655.8" x2="1085" y2="701.9" stroke="#bc4b17"/><line x1="1064.4" y1="655.8" x2="1058.3" y2="718.9" stroke="#bf7821"/><line x1="966.9" y1="662.5" x2="1028.1" y2="664.7" stroke="#7e9f1a"/><line x1="966.9" y1="662.5" x2="988.1" y2="668.9" stroke="#6dca1f"/><line x1="966.9" y1="662.5" x2="935.3" y2="672.2" stroke="#2ac71c"/><line x1="966.9" y1="662.5" x2="1011.7" y2="672.8" stroke="#788c19"/><line x1="966.9" y1="662.5" x2="1046.1" y2="670.3" stroke="#788c19"/><line x1="966.9" y1="662.5" x2="958.1" y2="685.8" stroke="#80bd21"/><line x1="966.9" y1="662.5" x2="1038.3" y2="688.1" stroke="#788c19"/><line x1="966.9" y1="662.5" x2="992.5" y2="690.8" stroke="#80ae1d"/><line x1="966.9" y1="662.5" x2="1015.3" y2="695" stroke="#7e9f1a"/><line x1="966.9" y1="662.5" x2="970" y2="702.5" stroke="#80bd21"/><line x1="1115.3" y1="663.9" x2="1086.4" y2="665.6" stroke="#bf691f"/><line x1="1115.3" y1="663.9" x2="1046.1" y2="670.3" stroke="#ce811e"/><line x1="1115.3" y1="663.9" x2="1067.5" y2="674.7" stroke="#bf691f"/><line x1="1115.3" y1="663.9" x2="1091.9" y2="686.1" stroke="#b0bf24"/><line x1="1115.3" y1="663.9" x2="1038.3" y2="688.1" stroke="#ce811e"/><line x1="1115.3" y1="663.9" x2="1116.7" y2="690.6" stroke="#c3bf24"/><line x1="1115.3" y1="663.9" x2="1066.7" y2="693.3" stroke="#c77520"/><line x1="1115.3" y1="663.9" x2="1085" y2="701.9" stroke="#d3941f"/><line x1="1115.3" y1="663.9" x2="1058.3" y2="718.9" stroke="#d6c228"/><line x1="1028.1" y1="664.7" x2="1086.4" y2="665.6" stroke="#bc4b17"/><line x1="1028.1" y1="664.7" x2="988.1" y2="668.9" stroke="#c0a21d"/><line x1="1028.1" y1="664.7" x2="1011.7" y2="672.8" stroke="#cb6317"/><line x1="1028.1" y1="664.7" x2="1046.1" y2="670.3" stroke="#cb6317"/><line x1="1028.1" y1="664.7" x2="1067.5" y2="674.7" stroke="#bc4b17"/><line x1="1028.1" y1="664.7" x2="958.1" y2="685.8" stroke="#d3941f"/><line x1="1028.1" y1="664.7" x2="1091.9" y2="686.1" stroke="#aea21d"/><line x1="1028.1" y1="664.7" x2="1038.3" y2="688.1" stroke="#cb6317"/><line x1="1028.1" y1="664.7" x2="992.5" y2="690.8" stroke="#d3851b"/><line x1="1028.1" y1="664.7" x2="1015.3" y2="695" stroke="#d17618"/><line x1="1028.1" y1="664.7" x2="1066.7" y2="693.3" stroke="#c45719"/><line x1="1028.1" y1="664.7" x2="970" y2="702.5" stroke="#d3941f"/><line x1="1028.1" y1="664.7" x2="1085" y2="701.9" stroke="#d17618"/><line x1="1028.1" y1="664.7" x2="1058.3" y2="718.9" stroke="#d3a421"/><line x1="1086.4" y1="665.6" x2="1011.7" y2="672.8" stroke="#b73817"/><line x1="1086.4" y1="665.6" x2="1046.1" y2="670.3" stroke="#b73817"/><line x1="1086.4" y1="665.6" x2="1067.5" y2="674.7" stroke="#a81f17"/><line x1="1086.4" y1="665.6" x2="1091.9" y2="686.1" stroke="#99761d"/><line x1="1086.4" y1="665.6" x2="1038.3" y2="688.1" stroke="#b73817"/><line x1="1086.4" y1="665.6" x2="1116.7" y2="690.6" stroke="#ac761d"/><line x1="1086.4" y1="665.6" x2="1015.3" y2="695" stroke="#bc4b17"/><line x1="1086.4" y1="665.6" x2="1066.7" y2="693.3" stroke="#b02c19"/><line x1="1086.4" y1="665.6" x2="1085" y2="701.9" stroke="#bc4b17"/><line x1="1086.4" y1="665.6" x2="1058.3" y2="718.9" stroke="#bf7821"/><line x1="988.1" y1="668.9" x2="935.3" y2="672.2" stroke="#6dca1f"/><line x1="988.1" y1="668.9" x2="1011.7" y2="672.8" stroke="#bb8f1c"/><line x1="988.1" y1="668.9" x2="1046.1" y2="670.3" stroke="#bb8f1c"/><line x1="988.1" y1="668.9" x2="1067.5" y2="674.7" stroke="#ac761d"/><line x1="988.1" y1="668.9" x2="958.1" y2="685.8" stroke="#c3bf24"/><line x1="988.1" y1="668.9" x2="1038.3" y2="688.1" stroke="#bb8f1c"/><line x1="988.1" y1="668.9" x2="992.5" y2="690.8" stroke="#c3b120"/><line x1="988.1" y1="668.9" x2="1015.3" y2="695" stroke="#c0a21d"/><line x1="988.1" y1="668.9" x2="970" y2="702.5" stroke="#c3bf24"/><line x1="935.3" y1="672.2" x2="1011.7" y2="672.8" stroke="#788c19"/><line x1="935.3" y1="672.2" x2="958.1" y2="685.8" stroke="#80bd21"/><line x1="935.3" y1="672.2" x2="992.5" y2="690.8" stroke="#80ae1d"/><line x1="935.3" y1="672.2" x2="970" y2="702.5" stroke="#80bd21"/><line x1="935.3" y1="672.2" x2="917.2" y2="718.9" stroke="#1fa85e"/><line x1="1011.7" y1="672.8" x2="1046.1" y2="670.3" stroke="#c65116"/><line x1="1011.7" y1="672.8" x2="1067.5" y2="674.7" stroke="#b73817"/><line x1="1011.7" y1="672.8" x2="958.1" y2="685.8" stroke="#ce811e"/><line x1="1011.7" y1="672.8" x2="1091.9" y2="686.1" stroke="#a88f1c"/><line x1="1011.7" y1="672.8" x2="1038.3" y2="688.1" stroke="#c65116"/><line x1="1011.7" y1="672.8" x2="992.5" y2="690.8" stroke="#ce731a"/><line x1="1011.7" y1="672.8" x2="1015.3" y2="695" stroke="#cb6317"/><line x1="1011.7" y1="672.8" x2="1066.7" y2="693.3" stroke="#bf4518"/><line x1="1011.7" y1="672.8" x2="970" y2="702.5" stroke="#ce811e"/><line x1="1011.7" y1="672.8" x2="1085" y2="701.9" stroke="#cb6317"/><line x1="1011.7" y1="672.8" x2="1058.3" y2="718.9" stroke="#ce9120"/><line x1="1046.1" y1="670.3" x2="1067.5" y2="674.7" stroke="#b73817"/><line x1="1046.1" y1="670.3" x2="1091.9" y2="686.1" stroke="#a88f1c"/><line x1="1046.1" y1="670.3" x2="1038.3" y2="688.1" stroke="#c65116"/><line x1="1046.1" y1="670.3" x2="992.5" y2="690.8" stroke="#ce731a"/><line x1="1046.1" y1="670.3" x2="1116.7" y2="690.6" stroke="#bb8f1c"/><line x1="1046.1" y1="670.3" x2="1015.3" y2="695" stroke="#cb6317"/><line x1="1046.1" y1="670.3" x2="1066.7" y2="693.3" stroke="#bf4518"/><line x1="1046.1" y1="670.3" x2="1085" y2="701.9" stroke="#cb6317"/><line x1="1046.1" y1="670.3" x2="1058.3" y2="718.9" stroke="#ce9120"/><line x1="1067.5" y1="674.7" x2="1091.9" y2="686.1" stroke="#99761d"/><line x1="1067.5" y1="674.7" x2="1038.3" y2="688.1" stroke="#b73817"/><line x1="1067.5" y1="674.7" x2="992.5" y2="690.8" stroke="#bf5a1a"/><line x1="1067.5" y1="674.7" x2="1116.7" y2="690.6" stroke="#ac761d"/><line x1="1067.5" y1="674.7" x2="1015.3" y2="695" stroke="#bc4b17"/><line x1="1067.5" y1="674.7" x2="1066.7" y2="693.3" stroke="#b02c19"/><line x1="1067.5" y1="674.7" x2="1085" y2="701.9" stroke="#bc4b17"/><line x1="1067.5" y1="674.7" x2="1058.3" y2="718.9" stroke="#bf7821"/><line x1="958.1" y1="685.8" x2="1038.3" y2="688.1" stroke="#ce811e"/><line x1="958.1" y1="685.8" x2="992.5" y2="690.8" stroke="#d6a322"/><line x1="958.1" y1="685.8" x2="1015.3" y2="695" stroke="#d3941f"/><line x1="958.1" y1="685.8" x2="970" y2="702.5" stroke="#d6b226"/><line x1="958.1" y1="685.8" x2="917.2" y2="718.9" stroke="#759d63"/><line x1="1091.9" y1="686.1" x2="1038.3" y2="688.1" stroke="#a88f1c"/><line x1="1091.9" y1="686.1" x2="1116.7" y2="690.6" stroke="#9dcd23"/><line x1="1091.9" y1="686.1" x2="1015.3" y2="695" stroke="#aea21d"/><line x1="1091.9" y1="686.1" x2="1066.7" y2="693.3" stroke="#a2831f"/><line x1="1091.9" y1="686.1" x2="1085" y2="701.9" stroke="#aea21d"/><line x1="1091.9" y1="686.1" x2="1058.3" y2="718.9" stroke="#b0cf27"/><line x1="1091.9" y1="686.1" x2="1109.4" y2="740.3" stroke="#519a5c"/><line x1="1038.3" y1="688.1" x2="992.5" y2="690.8" stroke="#ce731a"/><line x1="1038.3" y1="688.1" x2="1116.7" y2="690.6" stroke="#bb8f1c"/><line x1="1038.3" y1="688.1" x2="1015.3" y2="695" stroke="#cb6317"/><line x1="1038.3" y1="688.1" x2="1066.7" y2="693.3" stroke="#bf4518"/><line x1="1038.3" y1="688.1" x2="970" y2="702.5" stroke="#ce811e"/><line x1="1038.3" y1="688.1" x2="1085" y2="701.9" stroke="#cb6317"/><line x1="1038.3" y1="688.1" x2="1058.3" y2="718.9" stroke="#ce9120"/><line x1="992.5" y1="690.8" x2="1015.3" y2="695" stroke="#d3851b"/><line x1="992.5" y1="690.8" x2="1066.7" y2="693.3" stroke="#c7671c"/><line x1="992.5" y1="690.8" x2="970" y2="702.5" stroke="#d6a322"/><line x1="992.5" y1="690.8" x2="1058.3" y2="718.9" stroke="#d6b324"/><line x1="1116.7" y1="690.6" x2="1066.7" y2="693.3" stroke="#b4831f"/><line x1="1116.7" y1="690.6" x2="1085" y2="701.9" stroke="#c0a21d"/><line x1="1116.7" y1="690.6" x2="1058.3" y2="718.9" stroke="#c3cf27"/><line x1="1116.7" y1="690.6" x2="1109.4" y2="740.3" stroke="#639a5c"/><line x1="1015.3" y1="695" x2="1066.7" y2="693.3" stroke="#c45719"/><line x1="1015.3" y1="695" x2="970" y2="702.5" stroke="#d3941f"/><line x1="1015.3" y1="695" x2="1085" y2="701.9" stroke="#d17618"/><line x1="1015.3" y1="695" x2="1058.3" y2="718.9" stroke="#d3a421"/><line x1="1066.7" y1="693.3" x2="1085" y2="701.9" stroke="#c45719"/><line x1="1066.7" y1="693.3" x2="1058.3" y2="718.9" stroke="#c78522"/><line x1="970" y1="702.5" x2="917.2" y2="718.9" stroke="#759d63"/><line x1="1085" y1="701.9" x2="1058.3" y2="718.9" stroke="#d3a421"/><line x1="1085" y1="701.9" x2="1109.4" y2="740.3" stroke="#746e57"/><line x1="1058.3" y1="718.9" x2="1109.4" y2="740.3" stroke="#769c60"/></g>
<circle cx="1013.1" cy="602.8" r="4.2" fill="#1C7BB3" stroke="#16628f" stroke-width="0.5"/><circle cx="1083.6" cy="620" r="4.8" fill="#FFFA33" stroke="#ccc828" stroke-width="0.5"/><circle cx="1036.1" cy="628.9" r="4.8" fill="#FFFA33" stroke="#ccc828" stroke-width="0.5"/><circle cx="1060.3" cy="631.4" r="4.8" fill="#FFB224" stroke="#cc8e1c" stroke-width="0.5"/><circle cx="1010" cy="636.1" r="5" fill="#A6F52A" stroke="#84c421" stroke-width="0.5"/><circle cx="956.7" cy="645" r="4.2" fill="#22C4A4" stroke="#1b9c83" stroke-width="0.5"/><circle cx="1084.7" cy="645.8" r="6.2" fill="#C8261C" stroke="#a01e16" stroke-width="0.5"/><circle cx="1108.6" cy="646.4" r="4.8" fill="#FFD42E" stroke="#cca924" stroke-width="0.5"/><circle cx="988.1" cy="648.6" r="4.8" fill="#FFD42E" stroke="#cca924" stroke-width="0.5"/><circle cx="1006.7" cy="653.1" r="4.8" fill="#D2F52A" stroke="#a8c421" stroke-width="0.5"/><circle cx="1041.4" cy="652.2" r="5.6" fill="#DC4420" stroke="#b03619" stroke-width="0.5"/><circle cx="1064.4" cy="655.8" r="6.8" fill="#C8261C" stroke="#a01e16" stroke-width="0.5"/><circle cx="966.9" cy="662.5" r="5" fill="#33EE22" stroke="#28be1b" stroke-width="0.5"/><circle cx="1115.3" cy="663.9" r="4.8" fill="#FFD42E" stroke="#cca924" stroke-width="0.5"/><circle cx="1028.1" cy="664.7" r="4.8" fill="#F98D1D" stroke="#c77017" stroke-width="0.5"/><circle cx="1086.4" cy="665.6" r="6" fill="#C8261C" stroke="#a01e16" stroke-width="0.5"/><circle cx="988.1" cy="668.9" r="4.8" fill="#D2F52A" stroke="#a8c421" stroke-width="0.5"/><circle cx="935.3" cy="672.2" r="5" fill="#33EE22" stroke="#28be1b" stroke-width="0.5"/><circle cx="1011.7" cy="672.8" r="5.6" fill="#EC611B" stroke="#bc4d15" stroke-width="0.5"/><circle cx="1046.1" cy="670.3" r="5.6" fill="#EC611B" stroke="#bc4d15" stroke-width="0.5"/><circle cx="1067.5" cy="674.7" r="6.8" fill="#C8261C" stroke="#a01e16" stroke-width="0.5"/><circle cx="958.1" cy="685.8" r="4.8" fill="#FFD42E" stroke="#cca924" stroke-width="0.5"/><circle cx="1091.9" cy="686.1" r="5" fill="#A6F52A" stroke="#84c421" stroke-width="0.5"/><circle cx="1038.3" cy="688.1" r="5.6" fill="#EC611B" stroke="#bc4d15" stroke-width="0.5"/><circle cx="992.5" cy="690.8" r="4.8" fill="#FFB224" stroke="#cc8e1c" stroke-width="0.5"/><circle cx="1116.7" cy="690.6" r="5" fill="#D2F52A" stroke="#a8c421" stroke-width="0.5"/><circle cx="1015.3" cy="695" r="5.6" fill="#F98D1D" stroke="#c77017" stroke-width="0.5"/><circle cx="1066.7" cy="693.3" r="5.6" fill="#DC4420" stroke="#b03619" stroke-width="0.5"/><circle cx="970" cy="702.5" r="4.8" fill="#FFD42E" stroke="#cca924" stroke-width="0.5"/><circle cx="1085" cy="701.9" r="5.6" fill="#F98D1D" stroke="#c77017" stroke-width="0.5"/><circle cx="1058.3" cy="718.9" r="4.8" fill="#FFFA33" stroke="#ccc828" stroke-width="0.5"/><circle cx="917.2" cy="718.9" r="4.2" fill="#19A3C0" stroke="#148299" stroke-width="0.5"/><circle cx="1109.4" cy="740.3" r="4.2" fill="#1C7BB3" stroke="#16628f" stroke-width="0.5"/>
<g stroke-width="1.0" stroke-opacity="0.9"><line x1="1251.1" y1="662.2" x2="1244.7" y2="685.8" stroke="#71801b"/><line x1="1251.1" y1="662.2" x2="1226.1" y2="695.3" stroke="#788c19"/><line x1="1251.1" y1="662.2" x2="1268.6" y2="690.6" stroke="#69731a"/><line x1="1251.1" y1="662.2" x2="1286.9" y2="695.3" stroke="#69731a"/><line x1="1251.1" y1="662.2" x2="1230" y2="716.1" stroke="#80ae1d"/><line x1="1251.1" y1="662.2" x2="1259.7" y2="713.3" stroke="#69731a"/><line x1="1251.1" y1="662.2" x2="1282.5" y2="713.3" stroke="#69731a"/><line x1="1329.4" y1="680" x2="1367.5" y2="678.9" stroke="#65c23e"/><line x1="1329.4" y1="680" x2="1268.6" y2="690.6" stroke="#ac761d"/><line x1="1329.4" y1="680" x2="1286.9" y2="695.3" stroke="#ac761d"/><line x1="1329.4" y1="680" x2="1318.1" y2="703.9" stroke="#b4831f"/><line x1="1329.4" y1="680" x2="1373.1" y2="712.2" stroke="#6dca1f"/><line x1="1329.4" y1="680" x2="1282.5" y2="713.3" stroke="#ac761d"/><line x1="1329.4" y1="680" x2="1337.5" y2="723.3" stroke="#c3cf27"/><line x1="1329.4" y1="680" x2="1304.2" y2="730" stroke="#ac761d"/><line x1="1367.5" y1="678.9" x2="1318.1" y2="703.9" stroke="#697839"/><line x1="1367.5" y1="678.9" x2="1373.1" y2="712.2" stroke="#22bf3a"/><line x1="1367.5" y1="678.9" x2="1337.5" y2="723.3" stroke="#78c441"/><line x1="1244.7" y1="685.8" x2="1226.1" y2="695.3" stroke="#bf4518"/><line x1="1244.7" y1="685.8" x2="1268.6" y2="690.6" stroke="#b02c19"/><line x1="1244.7" y1="685.8" x2="1286.9" y2="695.3" stroke="#b02c19"/><line x1="1244.7" y1="685.8" x2="1230" y2="716.1" stroke="#c7671c"/><line x1="1244.7" y1="685.8" x2="1259.7" y2="713.3" stroke="#b02c19"/><line x1="1244.7" y1="685.8" x2="1282.5" y2="713.3" stroke="#b02c19"/><line x1="1244.7" y1="685.8" x2="1244.4" y2="737.8" stroke="#b02c19"/><line x1="1244.7" y1="685.8" x2="1264.2" y2="739.7" stroke="#b02c19"/><line x1="1226.1" y1="695.3" x2="1268.6" y2="690.6" stroke="#b73817"/><line x1="1226.1" y1="695.3" x2="1286.9" y2="695.3" stroke="#b73817"/><line x1="1226.1" y1="695.3" x2="1230" y2="716.1" stroke="#ce731a"/><line x1="1226.1" y1="695.3" x2="1259.7" y2="713.3" stroke="#b73817"/><line x1="1226.1" y1="695.3" x2="1282.5" y2="713.3" stroke="#b73817"/><line x1="1226.1" y1="695.3" x2="1244.4" y2="737.8" stroke="#b73817"/><line x1="1226.1" y1="695.3" x2="1264.2" y2="739.7" stroke="#b73817"/><line x1="1268.6" y1="690.6" x2="1286.9" y2="695.3" stroke="#a81f17"/><line x1="1268.6" y1="690.6" x2="1318.1" y2="703.9" stroke="#b02c19"/><line x1="1268.6" y1="690.6" x2="1230" y2="716.1" stroke="#bf5a1a"/><line x1="1268.6" y1="690.6" x2="1259.7" y2="713.3" stroke="#a81f17"/><line x1="1268.6" y1="690.6" x2="1282.5" y2="713.3" stroke="#a81f17"/><line x1="1268.6" y1="690.6" x2="1304.2" y2="730" stroke="#a81f17"/><line x1="1268.6" y1="690.6" x2="1244.4" y2="737.8" stroke="#a81f17"/><line x1="1268.6" y1="690.6" x2="1264.2" y2="739.7" stroke="#a81f17"/><line x1="1268.6" y1="690.6" x2="1288.9" y2="748.9" stroke="#b02c19"/><line x1="1286.9" y1="695.3" x2="1318.1" y2="703.9" stroke="#b02c19"/><line x1="1286.9" y1="695.3" x2="1230" y2="716.1" stroke="#bf5a1a"/><line x1="1286.9" y1="695.3" x2="1259.7" y2="713.3" stroke="#a81f17"/><line x1="1286.9" y1="695.3" x2="1282.5" y2="713.3" stroke="#a81f17"/><line x1="1286.9" y1="695.3" x2="1337.5" y2="723.3" stroke="#bf7821"/><line x1="1286.9" y1="695.3" x2="1304.2" y2="730" stroke="#a81f17"/><line x1="1286.9" y1="695.3" x2="1244.4" y2="737.8" stroke="#a81f17"/><line x1="1286.9" y1="695.3" x2="1264.2" y2="739.7" stroke="#a81f17"/><line x1="1286.9" y1="695.3" x2="1288.9" y2="748.9" stroke="#b02c19"/><line x1="1318.1" y1="703.9" x2="1373.1" y2="712.2" stroke="#71801b"/><line x1="1318.1" y1="703.9" x2="1259.7" y2="713.3" stroke="#b02c19"/><line x1="1318.1" y1="703.9" x2="1282.5" y2="713.3" stroke="#b02c19"/><line x1="1318.1" y1="703.9" x2="1337.5" y2="723.3" stroke="#c78522"/><line x1="1318.1" y1="703.9" x2="1304.2" y2="730" stroke="#b02c19"/><line x1="1318.1" y1="703.9" x2="1264.2" y2="739.7" stroke="#b02c19"/><line x1="1318.1" y1="703.9" x2="1288.9" y2="748.9" stroke="#b8391a"/><line x1="1373.1" y1="712.2" x2="1337.5" y2="723.3" stroke="#80cc23"/><line x1="1373.1" y1="712.2" x2="1304.2" y2="730" stroke="#69731a"/><line x1="1230" y1="716.1" x2="1259.7" y2="713.3" stroke="#bf5a1a"/><line x1="1230" y1="716.1" x2="1282.5" y2="713.3" stroke="#bf5a1a"/><line x1="1230" y1="716.1" x2="1244.4" y2="737.8" stroke="#bf5a1a"/><line x1="1230" y1="716.1" x2="1264.2" y2="739.7" stroke="#bf5a1a"/><line x1="1230" y1="716.1" x2="1288.9" y2="748.9" stroke="#c7671c"/><line x1="1259.7" y1="713.3" x2="1282.5" y2="713.3" stroke="#a81f17"/><line x1="1259.7" y1="713.3" x2="1304.2" y2="730" stroke="#a81f17"/><line x1="1259.7" y1="713.3" x2="1244.4" y2="737.8" stroke="#a81f17"/><line x1="1259.7" y1="713.3" x2="1264.2" y2="739.7" stroke="#a81f17"/><line x1="1259.7" y1="713.3" x2="1288.9" y2="748.9" stroke="#b02c19"/><line x1="1282.5" y1="713.3" x2="1337.5" y2="723.3" stroke="#bf7821"/><line x1="1282.5" y1="713.3" x2="1304.2" y2="730" stroke="#a81f17"/><line x1="1282.5" y1="713.3" x2="1244.4" y2="737.8" stroke="#a81f17"/><line x1="1282.5" y1="713.3" x2="1264.2" y2="739.7" stroke="#a81f17"/><line x1="1282.5" y1="713.3" x2="1288.9" y2="748.9" stroke="#b02c19"/><line x1="1337.5" y1="723.3" x2="1304.2" y2="730" stroke="#bf7821"/><line x1="1337.5" y1="723.3" x2="1288.9" y2="748.9" stroke="#c78522"/><line x1="1304.2" y1="730" x2="1244.4" y2="737.8" stroke="#a81f17"/><line x1="1304.2" y1="730" x2="1264.2" y2="739.7" stroke="#a81f17"/><line x1="1304.2" y1="730" x2="1288.9" y2="748.9" stroke="#b02c19"/><line x1="1244.4" y1="737.8" x2="1264.2" y2="739.7" stroke="#a81f17"/><line x1="1244.4" y1="737.8" x2="1288.9" y2="748.9" stroke="#b02c19"/><line x1="1264.2" y1="739.7" x2="1288.9" y2="748.9" stroke="#b02c19"/></g>
<circle cx="1251.1" cy="662.2" r="4.2" fill="#33EE22" stroke="#28be1b" stroke-width="0.5"/><circle cx="1329.4" cy="680" r="4.8" fill="#D2F52A" stroke="#a8c421" stroke-width="0.5"/><circle cx="1367.5" cy="678.9" r="4.2" fill="#1FDB6A" stroke="#18af54" stroke-width="0.5"/><circle cx="1244.7" cy="685.8" r="5.8" fill="#DC4420" stroke="#b03619" stroke-width="0.5"/><circle cx="1226.1" cy="695.3" r="5.6" fill="#EC611B" stroke="#bc4d15" stroke-width="0.5"/><circle cx="1268.6" cy="690.6" r="7.3" fill="#C8261C" stroke="#a01e16" stroke-width="0.5"/><circle cx="1286.9" cy="695.3" r="6.8" fill="#C8261C" stroke="#a01e16" stroke-width="0.5"/><circle cx="1318.1" cy="703.9" r="5.6" fill="#DC4420" stroke="#b03619" stroke-width="0.5"/><circle cx="1373.1" cy="712.2" r="4.4" fill="#33EE22" stroke="#28be1b" stroke-width="0.5"/><circle cx="1230" cy="716.1" r="4.8" fill="#FFB224" stroke="#cc8e1c" stroke-width="0.5"/><circle cx="1259.7" cy="713.3" r="7.3" fill="#C8261C" stroke="#a01e16" stroke-width="0.5"/><circle cx="1282.5" cy="713.3" r="6.6" fill="#C8261C" stroke="#a01e16" stroke-width="0.5"/><circle cx="1337.5" cy="723.3" r="4.8" fill="#FFFA33" stroke="#ccc828" stroke-width="0.5"/><circle cx="1304.2" cy="730" r="6.6" fill="#C8261C" stroke="#a01e16" stroke-width="0.5"/><circle cx="1244.4" cy="737.8" r="7.3" fill="#C8261C" stroke="#a01e16" stroke-width="0.5"/><circle cx="1264.2" cy="739.7" r="6.6" fill="#C8261C" stroke="#a01e16" stroke-width="0.5"/><circle cx="1288.9" cy="748.9" r="5.8" fill="#DC4420" stroke="#b03619" stroke-width="0.5"/>
<g stroke-width="0.7" stroke-opacity="0.9"></g>
<circle cx="1450.6" cy="734.4" r="4.2" fill="#1565AA" stroke="#105088" stroke-width="0.5"/><circle cx="1459.4" cy="742.2" r="4.2" fill="#1565AA" stroke="#105088" stroke-width="0.5"/><circle cx="1460.6" cy="758.9" r="4.2" fill="#1C7BB3" stroke="#16628f" stroke-width="0.5"/>
<g stroke-width="1.1" stroke-opacity="0.9"><line x1="1048.3" y1="873.3" x2="1109.4" y2="877.5" stroke="#1a8590"/><line x1="1048.3" y1="873.3" x2="1013.6" y2="922.8" stroke="#219759"/><line x1="1048.3" y1="873.3" x2="1036.1" y2="920.8" stroke="#769c60"/><line x1="1109.4" y1="877.5" x2="1169.2" y2="879.2" stroke="#54b956"/><line x1="1109.4" y1="877.5" x2="1138.6" y2="892.8" stroke="#54b956"/><line x1="1109.4" y1="877.5" x2="1059.4" y2="901.1" stroke="#23b653"/><line x1="1109.4" y1="877.5" x2="1165.8" y2="902.8" stroke="#66b956"/><line x1="1109.4" y1="877.5" x2="1145.6" y2="910.3" stroke="#23b653"/><line x1="1109.4" y1="877.5" x2="1129.2" y2="920.8" stroke="#23b653"/><line x1="1109.4" y1="877.5" x2="1095.3" y2="928.1" stroke="#54b956"/><line x1="1169.2" y1="879.2" x2="1138.6" y2="892.8" stroke="#8bcd23"/><line x1="1169.2" y1="879.2" x2="1197.5" y2="894.4" stroke="#8bcd23"/><line x1="1169.2" y1="879.2" x2="1222.5" y2="889.4" stroke="#8bcd23"/><line x1="1169.2" y1="879.2" x2="1165.8" y2="902.8" stroke="#9dcd23"/><line x1="1169.2" y1="879.2" x2="1145.6" y2="910.3" stroke="#5bca1f"/><line x1="1169.2" y1="879.2" x2="1188.1" y2="914.7" stroke="#b0bf24"/><line x1="1169.2" y1="879.2" x2="1129.2" y2="920.8" stroke="#5bca1f"/><line x1="1169.2" y1="879.2" x2="1213.1" y2="923.6" stroke="#8bcd23"/><line x1="1169.2" y1="879.2" x2="1157.5" y2="932.8" stroke="#b0bf24"/><line x1="1169.2" y1="879.2" x2="1186.1" y2="931.1" stroke="#b0cf27"/><line x1="1138.6" y1="892.8" x2="1197.5" y2="894.4" stroke="#8bcd23"/><line x1="1138.6" y1="892.8" x2="1165.8" y2="902.8" stroke="#9dcd23"/><line x1="1138.6" y1="892.8" x2="1145.6" y2="910.3" stroke="#5bca1f"/><line x1="1138.6" y1="892.8" x2="1188.1" y2="914.7" stroke="#b0bf24"/><line x1="1138.6" y1="892.8" x2="1129.2" y2="920.8" stroke="#5bca1f"/><line x1="1138.6" y1="892.8" x2="1095.3" y2="928.1" stroke="#8bcd23"/><line x1="1138.6" y1="892.8" x2="1157.5" y2="932.8" stroke="#b0bf24"/><line x1="1138.6" y1="892.8" x2="1186.1" y2="931.1" stroke="#b0cf27"/><line x1="1197.5" y1="894.4" x2="1222.5" y2="889.4" stroke="#8bcd23"/><line x1="1197.5" y1="894.4" x2="1165.8" y2="902.8" stroke="#9dcd23"/><line x1="1197.5" y1="894.4" x2="1145.6" y2="910.3" stroke="#5bca1f"/><line x1="1197.5" y1="894.4" x2="1242.8" y2="904.7" stroke="#9dcd23"/><line x1="1197.5" y1="894.4" x2="1188.1" y2="914.7" stroke="#b0bf24"/><line x1="1197.5" y1="894.4" x2="1213.1" y2="923.6" stroke="#8bcd23"/><line x1="1197.5" y1="894.4" x2="1243.6" y2="927.8" stroke="#aea21d"/><line x1="1197.5" y1="894.4" x2="1157.5" y2="932.8" stroke="#b0bf24"/><line x1="1197.5" y1="894.4" x2="1186.1" y2="931.1" stroke="#b0cf27"/><line x1="1197.5" y1="894.4" x2="1207.2" y2="946.4" stroke="#b0cf27"/><line x1="1197.5" y1="894.4" x2="1233.1" y2="944.4" stroke="#9dcd23"/><line x1="1222.5" y1="889.4" x2="1281.4" y2="894.4" stroke="#5bca1f"/><line x1="1222.5" y1="889.4" x2="1165.8" y2="902.8" stroke="#9dcd23"/><line x1="1222.5" y1="889.4" x2="1242.8" y2="904.7" stroke="#9dcd23"/><line x1="1222.5" y1="889.4" x2="1188.1" y2="914.7" stroke="#b0bf24"/><line x1="1222.5" y1="889.4" x2="1213.1" y2="923.6" stroke="#8bcd23"/><line x1="1222.5" y1="889.4" x2="1243.6" y2="927.8" stroke="#aea21d"/><line x1="1222.5" y1="889.4" x2="1186.1" y2="931.1" stroke="#b0cf27"/><line x1="1222.5" y1="889.4" x2="1207.2" y2="946.4" stroke="#b0cf27"/><line x1="1222.5" y1="889.4" x2="1233.1" y2="944.4" stroke="#9dcd23"/><line x1="1281.4" y1="894.4" x2="1242.8" y2="904.7" stroke="#6dca1f"/><line x1="1281.4" y1="894.4" x2="1297.8" y2="910.3" stroke="#2ac71c"/><line x1="1281.4" y1="894.4" x2="1326.7" y2="917.2" stroke="#23b653"/><line x1="1281.4" y1="894.4" x2="1243.6" y2="927.8" stroke="#7e9f1a"/><line x1="1281.4" y1="894.4" x2="1288.3" y2="939.2" stroke="#80cc23"/><line x1="1281.4" y1="894.4" x2="1265.3" y2="944.4" stroke="#80cc23"/><line x1="1059.4" y1="901.1" x2="1013.6" y2="922.8" stroke="#2ac71c"/><line x1="1059.4" y1="901.1" x2="1036.1" y2="920.8" stroke="#80cc23"/><line x1="1059.4" y1="901.1" x2="1062.2" y2="930" stroke="#5bca1f"/><line x1="1059.4" y1="901.1" x2="1095.3" y2="928.1" stroke="#5bca1f"/><line x1="1059.4" y1="901.1" x2="1034.7" y2="947.8" stroke="#2ac71c"/><line x1="1059.4" y1="901.1" x2="1058.3" y2="959.4" stroke="#5bca1f"/><line x1="1165.8" y1="902.8" x2="1145.6" y2="910.3" stroke="#6dca1f"/><line x1="1165.8" y1="902.8" x2="1188.1" y2="914.7" stroke="#c3bf24"/><line x1="1165.8" y1="902.8" x2="1129.2" y2="920.8" stroke="#6dca1f"/><line x1="1165.8" y1="902.8" x2="1213.1" y2="923.6" stroke="#9dcd23"/><line x1="1165.8" y1="902.8" x2="1157.5" y2="932.8" stroke="#c3bf24"/><line x1="1165.8" y1="902.8" x2="1186.1" y2="931.1" stroke="#c3cf27"/><line x1="1165.8" y1="902.8" x2="1207.2" y2="946.4" stroke="#c3cf27"/><line x1="1165.8" y1="902.8" x2="1147.8" y2="955.3" stroke="#b0cd23"/><line x1="1165.8" y1="902.8" x2="1166.9" y2="962.8" stroke="#9dcd23"/><line x1="1145.6" y1="910.3" x2="1188.1" y2="914.7" stroke="#80bd21"/><line x1="1145.6" y1="910.3" x2="1129.2" y2="920.8" stroke="#2ac71c"/><line x1="1145.6" y1="910.3" x2="1095.3" y2="928.1" stroke="#5bca1f"/><line x1="1145.6" y1="910.3" x2="1157.5" y2="932.8" stroke="#80bd21"/><line x1="1145.6" y1="910.3" x2="1186.1" y2="931.1" stroke="#80cc23"/><line x1="1145.6" y1="910.3" x2="1121.9" y2="954.7" stroke="#22bf3a"/><line x1="1145.6" y1="910.3" x2="1147.8" y2="955.3" stroke="#6dca1f"/><line x1="1145.6" y1="910.3" x2="1166.9" y2="962.8" stroke="#5bca1f"/><line x1="1242.8" y1="904.7" x2="1297.8" y2="910.3" stroke="#6dca1f"/><line x1="1242.8" y1="904.7" x2="1188.1" y2="914.7" stroke="#c3bf24"/><line x1="1242.8" y1="904.7" x2="1213.1" y2="923.6" stroke="#9dcd23"/><line x1="1242.8" y1="904.7" x2="1243.6" y2="927.8" stroke="#c0a21d"/><line x1="1242.8" y1="904.7" x2="1186.1" y2="931.1" stroke="#c3cf27"/><line x1="1242.8" y1="904.7" x2="1288.3" y2="939.2" stroke="#c3cf27"/><line x1="1242.8" y1="904.7" x2="1207.2" y2="946.4" stroke="#c3cf27"/><line x1="1242.8" y1="904.7" x2="1233.1" y2="944.4" stroke="#b0cd23"/><line x1="1242.8" y1="904.7" x2="1265.3" y2="944.4" stroke="#c3cf27"/><line x1="1297.8" y1="910.3" x2="1326.7" y2="917.2" stroke="#23b653"/><line x1="1297.8" y1="910.3" x2="1243.6" y2="927.8" stroke="#7e9f1a"/><line x1="1297.8" y1="910.3" x2="1288.3" y2="939.2" stroke="#80cc23"/><line x1="1297.8" y1="910.3" x2="1325.6" y2="940" stroke="#22bf3a"/><line x1="1297.8" y1="910.3" x2="1265.3" y2="944.4" stroke="#80cc23"/><line x1="1326.7" y1="917.2" x2="1288.3" y2="939.2" stroke="#79bb5a"/><line x1="1326.7" y1="917.2" x2="1325.6" y2="940" stroke="#1bae71"/><line x1="1326.7" y1="917.2" x2="1387.5" y2="927.2" stroke="#1a8590"/><line x1="1188.1" y1="914.7" x2="1129.2" y2="920.8" stroke="#80bd21"/><line x1="1188.1" y1="914.7" x2="1213.1" y2="923.6" stroke="#b0bf24"/><line x1="1188.1" y1="914.7" x2="1243.6" y2="927.8" stroke="#d3941f"/><line x1="1188.1" y1="914.7" x2="1157.5" y2="932.8" stroke="#d6b226"/><line x1="1188.1" y1="914.7" x2="1186.1" y2="931.1" stroke="#d6c228"/><line x1="1188.1" y1="914.7" x2="1207.2" y2="946.4" stroke="#d6c228"/><line x1="1188.1" y1="914.7" x2="1233.1" y2="944.4" stroke="#c3bf24"/><line x1="1188.1" y1="914.7" x2="1147.8" y2="955.3" stroke="#c3bf24"/><line x1="1188.1" y1="914.7" x2="1166.9" y2="962.8" stroke="#b0bf24"/><line x1="1188.1" y1="914.7" x2="1202.5" y2="972.2" stroke="#80bd21"/><line x1="1013.6" y1="922.8" x2="1036.1" y2="920.8" stroke="#80cc23"/><line x1="1013.6" y1="922.8" x2="981.1" y2="928.1" stroke="#1fa85e"/><line x1="1013.6" y1="922.8" x2="1062.2" y2="930" stroke="#5bca1f"/><line x1="1013.6" y1="922.8" x2="1034.7" y2="947.8" stroke="#2ac71c"/><line x1="1013.6" y1="922.8" x2="1058.3" y2="959.4" stroke="#5bca1f"/><line x1="1013.6" y1="922.8" x2="1001.1" y2="965" stroke="#23b653"/><line x1="1013.6" y1="922.8" x2="1041.4" y2="976.1" stroke="#2ac71c"/><line x1="1036.1" y1="920.8" x2="981.1" y2="928.1" stroke="#75ad66"/><line x1="1036.1" y1="920.8" x2="1062.2" y2="930" stroke="#b0cf27"/><line x1="1036.1" y1="920.8" x2="1095.3" y2="928.1" stroke="#b0cf27"/><line x1="1036.1" y1="920.8" x2="1034.7" y2="947.8" stroke="#80cc23"/><line x1="1036.1" y1="920.8" x2="1058.3" y2="959.4" stroke="#b0cf27"/><line x1="1036.1" y1="920.8" x2="1001.1" y2="965" stroke="#79bb5a"/><line x1="1036.1" y1="920.8" x2="1041.4" y2="976.1" stroke="#80cc23"/><line x1="1129.2" y1="920.8" x2="1095.3" y2="928.1" stroke="#5bca1f"/><line x1="1129.2" y1="920.8" x2="1157.5" y2="932.8" stroke="#80bd21"/><line x1="1129.2" y1="920.8" x2="1186.1" y2="931.1" stroke="#80cc23"/><line x1="1129.2" y1="920.8" x2="1121.9" y2="954.7" stroke="#22bf3a"/><line x1="1129.2" y1="920.8" x2="1147.8" y2="955.3" stroke="#6dca1f"/><line x1="1129.2" y1="920.8" x2="1166.9" y2="962.8" stroke="#5bca1f"/><line x1="1213.1" y1="923.6" x2="1243.6" y2="927.8" stroke="#aea21d"/><line x1="1213.1" y1="923.6" x2="1157.5" y2="932.8" stroke="#b0bf24"/><line x1="1213.1" y1="923.6" x2="1186.1" y2="931.1" stroke="#b0cf27"/><line x1="1213.1" y1="923.6" x2="1207.2" y2="946.4" stroke="#b0cf27"/><line x1="1213.1" y1="923.6" x2="1233.1" y2="944.4" stroke="#9dcd23"/><line x1="1213.1" y1="923.6" x2="1265.3" y2="944.4" stroke="#b0cf27"/><line x1="1213.1" y1="923.6" x2="1166.9" y2="962.8" stroke="#8bcd23"/><line x1="1213.1" y1="923.6" x2="1202.5" y2="972.2" stroke="#5bca1f"/><line x1="1213.1" y1="923.6" x2="1246.7" y2="973.6" stroke="#5bca1f"/><line x1="981.1" y1="928.1" x2="1034.7" y2="947.8" stroke="#1fa85e"/><line x1="981.1" y1="928.1" x2="1001.1" y2="965" stroke="#189695"/><line x1="1062.2" y1="930" x2="1095.3" y2="928.1" stroke="#8bcd23"/><line x1="1062.2" y1="930" x2="1034.7" y2="947.8" stroke="#5bca1f"/><line x1="1062.2" y1="930" x2="1058.3" y2="959.4" stroke="#8bcd23"/><line x1="1062.2" y1="930" x2="1041.4" y2="976.1" stroke="#5bca1f"/><line x1="1095.3" y1="928.1" x2="1157.5" y2="932.8" stroke="#b0bf24"/><line x1="1095.3" y1="928.1" x2="1121.9" y2="954.7" stroke="#52c23e"/><line x1="1095.3" y1="928.1" x2="1147.8" y2="955.3" stroke="#9dcd23"/><line x1="1095.3" y1="928.1" x2="1058.3" y2="959.4" stroke="#8bcd23"/><line x1="1095.3" y1="928.1" x2="1103.6" y2="983.3" stroke="#50ab62"/><line x1="1243.6" y1="927.8" x2="1186.1" y2="931.1" stroke="#d3a421"/><line x1="1243.6" y1="927.8" x2="1288.3" y2="939.2" stroke="#d3a421"/><line x1="1243.6" y1="927.8" x2="1207.2" y2="946.4" stroke="#d3a421"/><line x1="1243.6" y1="927.8" x2="1233.1" y2="944.4" stroke="#c0a21d"/><line x1="1243.6" y1="927.8" x2="1265.3" y2="944.4" stroke="#d3a421"/><line x1="1243.6" y1="927.8" x2="1202.5" y2="972.2" stroke="#7e9f1a"/><line x1="1243.6" y1="927.8" x2="1246.7" y2="973.6" stroke="#7e9f1a"/><line x1="1243.6" y1="927.8" x2="1282.8" y2="971.9" stroke="#768d51"/><line x1="1157.5" y1="932.8" x2="1186.1" y2="931.1" stroke="#d6c228"/><line x1="1157.5" y1="932.8" x2="1207.2" y2="946.4" stroke="#d6c228"/><line x1="1157.5" y1="932.8" x2="1121.9" y2="954.7" stroke="#78b53f"/><line x1="1157.5" y1="932.8" x2="1147.8" y2="955.3" stroke="#c3bf24"/><line x1="1157.5" y1="932.8" x2="1166.9" y2="962.8" stroke="#b0bf24"/><line x1="1157.5" y1="932.8" x2="1202.5" y2="972.2" stroke="#80bd21"/><line x1="1157.5" y1="932.8" x2="1154.7" y2="990.8" stroke="#78b53f"/><line x1="1186.1" y1="931.1" x2="1207.2" y2="946.4" stroke="#d6d22a"/><line x1="1186.1" y1="931.1" x2="1233.1" y2="944.4" stroke="#c3cf27"/><line x1="1186.1" y1="931.1" x2="1147.8" y2="955.3" stroke="#c3cf27"/><line x1="1186.1" y1="931.1" x2="1166.9" y2="962.8" stroke="#b0cf27"/><line x1="1186.1" y1="931.1" x2="1202.5" y2="972.2" stroke="#80cc23"/><line x1="1288.3" y1="939.2" x2="1325.6" y2="940" stroke="#78c441"/><line x1="1288.3" y1="939.2" x2="1233.1" y2="944.4" stroke="#c3cf27"/><line x1="1288.3" y1="939.2" x2="1265.3" y2="944.4" stroke="#d6d22a"/><line x1="1288.3" y1="939.2" x2="1246.7" y2="973.6" stroke="#80cc23"/><line x1="1288.3" y1="939.2" x2="1282.8" y2="971.9" stroke="#79bb5a"/><line x1="1325.6" y1="940" x2="1265.3" y2="944.4" stroke="#78c441"/><line x1="1325.6" y1="940" x2="1282.8" y2="971.9" stroke="#1bae71"/><line x1="1325.6" y1="940" x2="1387.5" y2="927.2" stroke="#188f77"/><line x1="1034.7" y1="947.8" x2="1058.3" y2="959.4" stroke="#5bca1f"/><line x1="1034.7" y1="947.8" x2="1001.1" y2="965" stroke="#23b653"/><line x1="1034.7" y1="947.8" x2="1041.4" y2="976.1" stroke="#2ac71c"/><line x1="1034.7" y1="947.8" x2="1047.8" y2="1004.2" stroke="#2ac71c"/><line x1="1207.2" y1="946.4" x2="1233.1" y2="944.4" stroke="#c3cf27"/><line x1="1207.2" y1="946.4" x2="1265.3" y2="944.4" stroke="#d6d22a"/><line x1="1207.2" y1="946.4" x2="1147.8" y2="955.3" stroke="#c3cf27"/><line x1="1207.2" y1="946.4" x2="1166.9" y2="962.8" stroke="#b0cf27"/><line x1="1207.2" y1="946.4" x2="1202.5" y2="972.2" stroke="#80cc23"/><line x1="1207.2" y1="946.4" x2="1246.7" y2="973.6" stroke="#80cc23"/><line x1="1233.1" y1="944.4" x2="1265.3" y2="944.4" stroke="#c3cf27"/><line x1="1233.1" y1="944.4" x2="1202.5" y2="972.2" stroke="#6dca1f"/><line x1="1233.1" y1="944.4" x2="1246.7" y2="973.6" stroke="#6dca1f"/><line x1="1233.1" y1="944.4" x2="1282.8" y2="971.9" stroke="#66b956"/><line x1="1265.3" y1="944.4" x2="1246.7" y2="973.6" stroke="#80cc23"/><line x1="1265.3" y1="944.4" x2="1282.8" y2="971.9" stroke="#79bb5a"/><line x1="1121.9" y1="954.7" x2="1147.8" y2="955.3" stroke="#65c23e"/><line x1="1121.9" y1="954.7" x2="1166.9" y2="962.8" stroke="#52c23e"/><line x1="1121.9" y1="954.7" x2="1103.6" y2="983.3" stroke="#17a07d"/><line x1="1121.9" y1="954.7" x2="1154.7" y2="990.8" stroke="#1ab759"/><line x1="1121.9" y1="954.7" x2="1148.6" y2="1010" stroke="#1ab759"/><line x1="1147.8" y1="955.3" x2="1166.9" y2="962.8" stroke="#9dcd23"/><line x1="1147.8" y1="955.3" x2="1202.5" y2="972.2" stroke="#6dca1f"/><line x1="1147.8" y1="955.3" x2="1103.6" y2="983.3" stroke="#62ab62"/><line x1="1147.8" y1="955.3" x2="1154.7" y2="990.8" stroke="#65c23e"/><line x1="1147.8" y1="955.3" x2="1148.6" y2="1010" stroke="#65c23e"/><line x1="1058.3" y1="959.4" x2="1001.1" y2="965" stroke="#54b956"/><line x1="1058.3" y1="959.4" x2="1041.4" y2="976.1" stroke="#5bca1f"/><line x1="1058.3" y1="959.4" x2="1103.6" y2="983.3" stroke="#50ab62"/><line x1="1058.3" y1="959.4" x2="1047.8" y2="1004.2" stroke="#5bca1f"/><line x1="1058.3" y1="959.4" x2="1075.6" y2="1017.5" stroke="#50ab62"/><line x1="1166.9" y1="962.8" x2="1202.5" y2="972.2" stroke="#5bca1f"/><line x1="1166.9" y1="962.8" x2="1154.7" y2="990.8" stroke="#52c23e"/><line x1="1166.9" y1="962.8" x2="1148.6" y2="1010" stroke="#52c23e"/><line x1="1001.1" y1="965" x2="1041.4" y2="976.1" stroke="#23b653"/><line x1="1001.1" y1="965" x2="1047.8" y2="1004.2" stroke="#23b653"/><line x1="1202.5" y1="972.2" x2="1246.7" y2="973.6" stroke="#2ac71c"/><line x1="1202.5" y1="972.2" x2="1103.6" y2="983.3" stroke="#1fa85e"/><line x1="1202.5" y1="972.2" x2="1154.7" y2="990.8" stroke="#22bf3a"/><line x1="1202.5" y1="972.2" x2="1219.4" y2="1028.3" stroke="#219759"/><line x1="1246.7" y1="973.6" x2="1282.8" y2="971.9" stroke="#23b653"/><line x1="1041.4" y1="976.1" x2="1103.6" y2="983.3" stroke="#1fa85e"/><line x1="1041.4" y1="976.1" x2="1047.8" y2="1004.2" stroke="#2ac71c"/><line x1="1041.4" y1="976.1" x2="1075.6" y2="1017.5" stroke="#1fa85e"/><line x1="1103.6" y1="983.3" x2="1154.7" y2="990.8" stroke="#17a07d"/><line x1="1103.6" y1="983.3" x2="1047.8" y2="1004.2" stroke="#1fa85e"/><line x1="1103.6" y1="983.3" x2="1148.6" y2="1010" stroke="#17a07d"/><line x1="1103.6" y1="983.3" x2="1075.6" y2="1017.5" stroke="#1588a1"/><line x1="1154.7" y1="990.8" x2="1148.6" y2="1010" stroke="#1ab759"/><line x1="1154.7" y1="990.8" x2="1127.5" y2="1038.1" stroke="#188f77"/><line x1="1047.8" y1="1004.2" x2="1075.6" y2="1017.5" stroke="#1fa85e"/><line x1="1148.6" y1="1010" x2="1127.5" y2="1038.1" stroke="#188f77"/><line x1="1148.6" y1="1010" x2="1110" y2="1058.1" stroke="#188f77"/><line x1="1075.6" y1="1017.5" x2="1127.5" y2="1038.1" stroke="#16789b"/><line x1="1075.6" y1="1017.5" x2="1110" y2="1058.1" stroke="#16789b"/><line x1="1127.5" y1="1038.1" x2="1110" y2="1058.1" stroke="#176796"/><line x1="1387.5" y1="927.2" x2="1455.6" y2="924.4" stroke="#219759"/><line x1="1455.6" y1="924.4" x2="1510.8" y2="901.1" stroke="#6dca1f"/><line x1="1455.6" y1="924.4" x2="1513.3" y2="923.9" stroke="#69731a"/><line x1="1455.6" y1="924.4" x2="1515.3" y2="941.4" stroke="#69731a"/><line x1="1455.6" y1="924.4" x2="1490.6" y2="952.2" stroke="#7e9f1a"/><line x1="1536.1" y1="849.4" x2="1534.2" y2="889.4" stroke="#5e545c"/><line x1="1536.1" y1="849.4" x2="1557.2" y2="895.3" stroke="#5e545c"/><line x1="1536.1" y1="849.4" x2="1510.8" y2="901.1" stroke="#62ab62"/><line x1="1534.2" y1="889.4" x2="1557.2" y2="895.3" stroke="#a81f17"/><line x1="1534.2" y1="889.4" x2="1510.8" y2="901.1" stroke="#ac761d"/><line x1="1534.2" y1="889.4" x2="1537.5" y2="919.7" stroke="#a81f17"/><line x1="1534.2" y1="889.4" x2="1566.1" y2="918.3" stroke="#a81f17"/><line x1="1534.2" y1="889.4" x2="1513.3" y2="923.9" stroke="#a81f17"/><line x1="1534.2" y1="889.4" x2="1561.9" y2="937.2" stroke="#a81f17"/><line x1="1534.2" y1="889.4" x2="1515.3" y2="941.4" stroke="#a81f17"/><line x1="1534.2" y1="889.4" x2="1539.2" y2="944.7" stroke="#a81f17"/><line x1="1534.2" y1="889.4" x2="1490.6" y2="952.2" stroke="#bc4b17"/><line x1="1534.2" y1="889.4" x2="1561.9" y2="964.4" stroke="#bf691f"/><line x1="1557.2" y1="895.3" x2="1510.8" y2="901.1" stroke="#ac761d"/><line x1="1557.2" y1="895.3" x2="1537.5" y2="919.7" stroke="#a81f17"/><line x1="1557.2" y1="895.3" x2="1566.1" y2="918.3" stroke="#a81f17"/><line x1="1557.2" y1="895.3" x2="1513.3" y2="923.9" stroke="#a81f17"/><line x1="1557.2" y1="895.3" x2="1561.9" y2="937.2" stroke="#a81f17"/><line x1="1557.2" y1="895.3" x2="1515.3" y2="941.4" stroke="#a81f17"/><line x1="1557.2" y1="895.3" x2="1539.2" y2="944.7" stroke="#a81f17"/><line x1="1557.2" y1="895.3" x2="1561.9" y2="964.4" stroke="#bf691f"/><line x1="1557.2" y1="895.3" x2="1536.4" y2="971.7" stroke="#a81f17"/><line x1="1510.8" y1="901.1" x2="1537.5" y2="919.7" stroke="#ac761d"/><line x1="1510.8" y1="901.1" x2="1566.1" y2="918.3" stroke="#ac761d"/><line x1="1510.8" y1="901.1" x2="1513.3" y2="923.9" stroke="#ac761d"/><line x1="1510.8" y1="901.1" x2="1561.9" y2="937.2" stroke="#ac761d"/><line x1="1510.8" y1="901.1" x2="1515.3" y2="941.4" stroke="#ac761d"/><line x1="1510.8" y1="901.1" x2="1539.2" y2="944.7" stroke="#ac761d"/><line x1="1510.8" y1="901.1" x2="1490.6" y2="952.2" stroke="#c0a21d"/><line x1="1510.8" y1="901.1" x2="1536.4" y2="971.7" stroke="#ac761d"/><line x1="1537.5" y1="919.7" x2="1566.1" y2="918.3" stroke="#a81f17"/><line x1="1537.5" y1="919.7" x2="1513.3" y2="923.9" stroke="#a81f17"/><line x1="1537.5" y1="919.7" x2="1561.9" y2="937.2" stroke="#a81f17"/><line x1="1537.5" y1="919.7" x2="1515.3" y2="941.4" stroke="#a81f17"/><line x1="1537.5" y1="919.7" x2="1539.2" y2="944.7" stroke="#a81f17"/><line x1="1537.5" y1="919.7" x2="1490.6" y2="952.2" stroke="#bc4b17"/><line x1="1537.5" y1="919.7" x2="1561.9" y2="964.4" stroke="#bf691f"/><line x1="1537.5" y1="919.7" x2="1536.4" y2="971.7" stroke="#a81f17"/><line x1="1566.1" y1="918.3" x2="1513.3" y2="923.9" stroke="#a81f17"/><line x1="1566.1" y1="918.3" x2="1561.9" y2="937.2" stroke="#a81f17"/><line x1="1566.1" y1="918.3" x2="1515.3" y2="941.4" stroke="#a81f17"/><line x1="1566.1" y1="918.3" x2="1539.2" y2="944.7" stroke="#a81f17"/><line x1="1566.1" y1="918.3" x2="1561.9" y2="964.4" stroke="#bf691f"/><line x1="1566.1" y1="918.3" x2="1536.4" y2="971.7" stroke="#a81f17"/><line x1="1513.3" y1="923.9" x2="1561.9" y2="937.2" stroke="#a81f17"/><line x1="1513.3" y1="923.9" x2="1515.3" y2="941.4" stroke="#a81f17"/><line x1="1513.3" y1="923.9" x2="1539.2" y2="944.7" stroke="#a81f17"/><line x1="1513.3" y1="923.9" x2="1490.6" y2="952.2" stroke="#bc4b17"/><line x1="1513.3" y1="923.9" x2="1561.9" y2="964.4" stroke="#bf691f"/><line x1="1513.3" y1="923.9" x2="1536.4" y2="971.7" stroke="#a81f17"/><line x1="1561.9" y1="937.2" x2="1515.3" y2="941.4" stroke="#a81f17"/><line x1="1561.9" y1="937.2" x2="1539.2" y2="944.7" stroke="#a81f17"/><line x1="1561.9" y1="937.2" x2="1490.6" y2="952.2" stroke="#bc4b17"/><line x1="1561.9" y1="937.2" x2="1561.9" y2="964.4" stroke="#bf691f"/><line x1="1561.9" y1="937.2" x2="1536.4" y2="971.7" stroke="#a81f17"/><line x1="1515.3" y1="941.4" x2="1539.2" y2="944.7" stroke="#a81f17"/><line x1="1515.3" y1="941.4" x2="1490.6" y2="952.2" stroke="#bc4b17"/><line x1="1515.3" y1="941.4" x2="1561.9" y2="964.4" stroke="#bf691f"/><line x1="1515.3" y1="941.4" x2="1536.4" y2="971.7" stroke="#a81f17"/><line x1="1539.2" y1="944.7" x2="1490.6" y2="952.2" stroke="#bc4b17"/><line x1="1539.2" y1="944.7" x2="1561.9" y2="964.4" stroke="#bf691f"/><line x1="1539.2" y1="944.7" x2="1536.4" y2="971.7" stroke="#a81f17"/><line x1="1490.6" y1="952.2" x2="1561.9" y2="964.4" stroke="#d3941f"/><line x1="1490.6" y1="952.2" x2="1536.4" y2="971.7" stroke="#bc4b17"/><line x1="1561.9" y1="964.4" x2="1536.4" y2="971.7" stroke="#bf691f"/></g>
<circle cx="1048.3" cy="873.3" r="4.2" fill="#1C7BB3" stroke="#16628f" stroke-width="0.5"/><circle cx="1109.4" cy="877.5" r="4.2" fill="#22C4A4" stroke="#1b9c83" stroke-width="0.5"/><circle cx="1169.2" cy="879.2" r="5" fill="#A6F52A" stroke="#84c421" stroke-width="0.5"/><circle cx="1138.6" cy="892.8" r="5" fill="#A6F52A" stroke="#84c421" stroke-width="0.5"/><circle cx="1197.5" cy="894.4" r="5" fill="#A6F52A" stroke="#84c421" stroke-width="0.5"/><circle cx="1222.5" cy="889.4" r="5" fill="#A6F52A" stroke="#84c421" stroke-width="0.5"/><circle cx="1281.4" cy="894.4" r="4.4" fill="#33EE22" stroke="#28be1b" stroke-width="0.5"/><circle cx="1059.4" cy="901.1" r="4.4" fill="#33EE22" stroke="#28be1b" stroke-width="0.5"/><circle cx="1165.8" cy="902.8" r="5" fill="#D2F52A" stroke="#a8c421" stroke-width="0.5"/><circle cx="1145.6" cy="910.3" r="4.4" fill="#33EE22" stroke="#28be1b" stroke-width="0.5"/><circle cx="1242.8" cy="904.7" r="5" fill="#D2F52A" stroke="#a8c421" stroke-width="0.5"/><circle cx="1297.8" cy="910.3" r="4.4" fill="#33EE22" stroke="#28be1b" stroke-width="0.5"/><circle cx="1326.7" cy="917.2" r="4.2" fill="#22C4A4" stroke="#1b9c83" stroke-width="0.5"/><circle cx="1188.1" cy="914.7" r="4.8" fill="#FFD42E" stroke="#cca924" stroke-width="0.5"/><circle cx="1013.6" cy="922.8" r="4.4" fill="#33EE22" stroke="#28be1b" stroke-width="0.5"/><circle cx="1036.1" cy="920.8" r="4.8" fill="#FFFA33" stroke="#ccc828" stroke-width="0.5"/><circle cx="1129.2" cy="920.8" r="5" fill="#33EE22" stroke="#28be1b" stroke-width="0.5"/><circle cx="1213.1" cy="923.6" r="5" fill="#A6F52A" stroke="#84c421" stroke-width="0.5"/><circle cx="981.1" cy="928.1" r="4.2" fill="#19A3C0" stroke="#148299" stroke-width="0.5"/><circle cx="1062.2" cy="930" r="5" fill="#A6F52A" stroke="#84c421" stroke-width="0.5"/><circle cx="1095.3" cy="928.1" r="5" fill="#A6F52A" stroke="#84c421" stroke-width="0.5"/><circle cx="1243.6" cy="927.8" r="4.8" fill="#F98D1D" stroke="#c77017" stroke-width="0.5"/><circle cx="1157.5" cy="932.8" r="4.8" fill="#FFD42E" stroke="#cca924" stroke-width="0.5"/><circle cx="1186.1" cy="931.1" r="4.8" fill="#FFFA33" stroke="#ccc828" stroke-width="0.5"/><circle cx="1288.3" cy="939.2" r="4.8" fill="#FFFA33" stroke="#ccc828" stroke-width="0.5"/><circle cx="1325.6" cy="940" r="4.4" fill="#1FDB6A" stroke="#18af54" stroke-width="0.5"/><circle cx="1034.7" cy="947.8" r="5" fill="#33EE22" stroke="#28be1b" stroke-width="0.5"/><circle cx="1207.2" cy="946.4" r="4.8" fill="#FFFA33" stroke="#ccc828" stroke-width="0.5"/><circle cx="1233.1" cy="944.4" r="5" fill="#D2F52A" stroke="#a8c421" stroke-width="0.5"/><circle cx="1265.3" cy="944.4" r="4.8" fill="#FFFA33" stroke="#ccc828" stroke-width="0.5"/><circle cx="1121.9" cy="954.7" r="4.4" fill="#1FDB6A" stroke="#18af54" stroke-width="0.5"/><circle cx="1147.8" cy="955.3" r="5" fill="#D2F52A" stroke="#a8c421" stroke-width="0.5"/><circle cx="1058.3" cy="959.4" r="5" fill="#A6F52A" stroke="#84c421" stroke-width="0.5"/><circle cx="1166.9" cy="962.8" r="5" fill="#A6F52A" stroke="#84c421" stroke-width="0.5"/><circle cx="1001.1" cy="965" r="4.2" fill="#22C4A4" stroke="#1b9c83" stroke-width="0.5"/><circle cx="1202.5" cy="972.2" r="5" fill="#33EE22" stroke="#28be1b" stroke-width="0.5"/><circle cx="1246.7" cy="973.6" r="4.4" fill="#33EE22" stroke="#28be1b" stroke-width="0.5"/><circle cx="1282.8" cy="971.9" r="4.2" fill="#22C4A4" stroke="#1b9c83" stroke-width="0.5"/><circle cx="1041.4" cy="976.1" r="4.4" fill="#33EE22" stroke="#28be1b" stroke-width="0.5"/><circle cx="1103.6" cy="983.3" r="4.2" fill="#19A3C0" stroke="#148299" stroke-width="0.5"/><circle cx="1154.7" cy="990.8" r="4.4" fill="#1FDB6A" stroke="#18af54" stroke-width="0.5"/><circle cx="1047.8" cy="1004.2" r="4.4" fill="#33EE22" stroke="#28be1b" stroke-width="0.5"/><circle cx="1148.6" cy="1010" r="4.4" fill="#1FDB6A" stroke="#18af54" stroke-width="0.5"/><circle cx="1075.6" cy="1017.5" r="4.2" fill="#19A3C0" stroke="#148299" stroke-width="0.5"/><circle cx="1219.4" cy="1028.3" r="4.2" fill="#1C7BB3" stroke="#16628f" stroke-width="0.5"/><circle cx="1127.5" cy="1038.1" r="4.2" fill="#1C7BB3" stroke="#16628f" stroke-width="0.5"/><circle cx="1110" cy="1058.1" r="4.2" fill="#1C7BB3" stroke="#16628f" stroke-width="0.5"/><circle cx="1387.5" cy="927.2" r="4.2" fill="#1C7BB3" stroke="#16628f" stroke-width="0.5"/><circle cx="1455.6" cy="924.4" r="4.4" fill="#33EE22" stroke="#28be1b" stroke-width="0.5"/><circle cx="1536.1" cy="849.4" r="4.2" fill="#19A3C0" stroke="#148299" stroke-width="0.5"/><circle cx="1534.2" cy="889.4" r="6.6" fill="#C8261C" stroke="#a01e16" stroke-width="0.5"/><circle cx="1557.2" cy="895.3" r="6.6" fill="#C8261C" stroke="#a01e16" stroke-width="0.5"/><circle cx="1510.8" cy="901.1" r="5" fill="#D2F52A" stroke="#a8c421" stroke-width="0.5"/><circle cx="1537.5" cy="919.7" r="7" fill="#C8261C" stroke="#a01e16" stroke-width="0.5"/><circle cx="1566.1" cy="918.3" r="6.6" fill="#C8261C" stroke="#a01e16" stroke-width="0.5"/><circle cx="1513.3" cy="923.9" r="6.6" fill="#C8261C" stroke="#a01e16" stroke-width="0.5"/><circle cx="1561.9" cy="937.2" r="6.6" fill="#C8261C" stroke="#a01e16" stroke-width="0.5"/><circle cx="1515.3" cy="941.4" r="7" fill="#C8261C" stroke="#a01e16" stroke-width="0.5"/><circle cx="1539.2" cy="944.7" r="7.2" fill="#C8261C" stroke="#a01e16" stroke-width="0.5"/><circle cx="1490.6" cy="952.2" r="4.8" fill="#F98D1D" stroke="#c77017" stroke-width="0.5"/><circle cx="1561.9" cy="964.4" r="4.8" fill="#FFD42E" stroke="#cca924" stroke-width="0.5"/><circle cx="1536.4" cy="971.7" r="6.6" fill="#C8261C" stroke="#a01e16" stroke-width="0.5"/>
<rect x="1365.6" y="610.6" width="6.9" height="3.9" fill="#2a5caa"/>
<rect x="1372.5" y="598.9" width="6.9" height="15.6" fill="#2a5caa"/>
<rect x="1379.4" y="605.3" width="6.9" height="9.2" fill="#2e7ab8"/>
<rect x="1393.1" y="604.4" width="7.2" height="10" fill="#2bb5c8"/>
<rect x="1407.2" y="605.3" width="6.9" height="9.2" fill="#27c9a0"/>
<rect x="1414.2" y="610.6" width="6.9" height="3.9" fill="#27c9a0"/>
<rect x="1421.1" y="602.2" width="6.9" height="12.2" fill="#27d68a"/>
<rect x="1428.1" y="608.6" width="6.9" height="5.8" fill="#2bdc70"/>
<rect x="1441.9" y="605.3" width="6.9" height="9.2" fill="#3fe83a"/>
<rect x="1448.9" y="592.5" width="6.9" height="21.9" fill="#5cf02e"/>
<rect x="1455.8" y="596.1" width="6.9" height="18.3" fill="#80f030"/>
<rect x="1462.8" y="596.1" width="6.9" height="18.3" fill="#a0f032"/>
<rect x="1476.7" y="604.4" width="6.9" height="10" fill="#f4f442"/>
<rect x="1483.6" y="608.6" width="6.9" height="5.8" fill="#f8e040"/>
<rect x="1490.6" y="608.6" width="6.9" height="5.8" fill="#f8d838"/>
<rect x="1497.5" y="610.6" width="6.1" height="3.9" fill="#f8c838"/>
<rect x="1510.6" y="612.2" width="6.9" height="2.2" fill="#f5a030"/>
<rect x="1517.5" y="610.8" width="6.9" height="3.6" fill="#f5a030"/>
<rect x="1531.4" y="610.6" width="6.9" height="3.9" fill="#f08828"/>
<rect x="1545.3" y="612.2" width="6.9" height="2.2" fill="#e06030"/>
<rect x="1552.2" y="611.4" width="6.9" height="3.1" fill="#e06030"/>
<rect x="1559.2" y="608.6" width="6.9" height="5.8" fill="#dd5530"/>
<rect x="1566.1" y="610.8" width="6.9" height="3.6" fill="#d84a30"/>
<rect x="1573.1" y="610.8" width="6.9" height="3.6" fill="#d54530"/>
<rect x="1580" y="579.4" width="6.9" height="35" fill="#d24530"/>
<text x="1370.3" y="631.7" text-anchor="middle" font-size="12.1">1</text>
<text x="1470.3" y="631.7" text-anchor="middle" font-size="12.1">No. of samples</text>
<text x="1572.5" y="631.7" text-anchor="middle" font-size="12.1">18.9</text>
<text x="999.7" y="735.5" font-size="19">HR</text>
<text x="1315.5" y="757.8" font-size="19">TN</text>
<text x="1167.8" y="1023.9" font-size="19">ER</text>
<text x="1526.4" y="1005.3" font-size="19">TP</text>
<rect x="156.8" y="1351.5" width="40.2" height="64.1" fill="#C0504D"/>
<rect x="156.8" y="1269.3" width="40.2" height="82.6" fill="#4F81BD"/>
<rect x="156.8" y="1241.4" width="40.2" height="28.1" fill="#9BBB59"/>
<rect x="156.8" y="1175.5" width="40.2" height="66.2" fill="#8064A2"/>
<rect x="217.5" y="1323.2" width="40.5" height="92.4" fill="#C0504D"/>
<rect x="217.5" y="1248.2" width="40.5" height="75.4" fill="#4F81BD"/>
<rect x="217.5" y="1210.5" width="40.5" height="37.9" fill="#9BBB59"/>
<rect x="217.5" y="1175.5" width="40.5" height="35.3" fill="#8064A2"/>
<rect x="278.8" y="1339.8" width="40.2" height="75.8" fill="#C0504D"/>
<rect x="278.8" y="1265.4" width="40.2" height="74.6" fill="#4F81BD"/>
<rect x="278.8" y="1234.3" width="40.2" height="31.5" fill="#9BBB59"/>
<rect x="278.8" y="1175.5" width="40.2" height="59.1" fill="#8064A2"/>
<rect x="339.5" y="1343.8" width="40.5" height="71.8" fill="#C0504D"/>
<rect x="339.5" y="1274.3" width="40.5" height="69.8" fill="#4F81BD"/>
<rect x="339.5" y="1249.4" width="40.5" height="25.2" fill="#9BBB59"/>
<rect x="339.5" y="1175.5" width="40.5" height="74.2" fill="#8064A2"/>
<line x1="146.5" y1="1175.5" x2="146.5" y2="1418.3" stroke="#222" stroke-width="1.1"/>
<line x1="143.3" y1="1415.3" x2="149.1" y2="1415.3" stroke="#222" stroke-width="1.1"/>
<line x1="143.3" y1="1391.3" x2="149.1" y2="1391.3" stroke="#222" stroke-width="1.1"/>
<line x1="143.3" y1="1367.3" x2="149.1" y2="1367.3" stroke="#222" stroke-width="1.1"/>
<line x1="143.3" y1="1343.4" x2="149.1" y2="1343.4" stroke="#222" stroke-width="1.1"/>
<line x1="143.3" y1="1319.4" x2="149.1" y2="1319.4" stroke="#222" stroke-width="1.1"/>
<line x1="143.3" y1="1295.4" x2="149.1" y2="1295.4" stroke="#222" stroke-width="1.1"/>
<line x1="143.3" y1="1271.4" x2="149.1" y2="1271.4" stroke="#222" stroke-width="1.1"/>
<line x1="143.3" y1="1247.4" x2="149.1" y2="1247.4" stroke="#222" stroke-width="1.1"/>
<line x1="143.3" y1="1223.5" x2="149.1" y2="1223.5" stroke="#222" stroke-width="1.1"/>
<line x1="143.3" y1="1199.5" x2="149.1" y2="1199.5" stroke="#222" stroke-width="1.1"/>
<line x1="143.3" y1="1175.5" x2="149.1" y2="1175.5" stroke="#222" stroke-width="1.1"/>
<line x1="143.5" y1="1415.3" x2="390.5" y2="1415.3" stroke="#222" stroke-width="1.3"/>
<line x1="146.5" y1="1412.1" x2="146.5" y2="1419.5" stroke="#222" stroke-width="1.1"/>
<line x1="207.3" y1="1412.1" x2="207.3" y2="1419.5" stroke="#222" stroke-width="1.1"/>
<line x1="268.3" y1="1412.1" x2="268.3" y2="1419.5" stroke="#222" stroke-width="1.1"/>
<line x1="329.3" y1="1412.1" x2="329.3" y2="1419.5" stroke="#222" stroke-width="1.1"/>
<line x1="390" y1="1412.1" x2="390" y2="1419.5" stroke="#222" stroke-width="1.1"/>
<text x="129.5" y="1422.6" text-anchor="end" font-size="17.4">0</text>
<text x="129.5" y="1374" text-anchor="end" font-size="17.4">20</text>
<text x="129.5" y="1325.5" text-anchor="end" font-size="17.4">40</text>
<text x="129.5" y="1276.9" text-anchor="end" font-size="17.4">60</text>
<text x="129.5" y="1228.4" text-anchor="end" font-size="17.4">80</text>
<text x="129.5" y="1179.8" text-anchor="end" font-size="17.4">100</text>
<text x="257.5" y="1156" text-anchor="middle">Virus</text>
<text text-anchor="middle" transform="translate(85.7 1291) rotate(-90)">Percentage of signals detected</text>
<text x="171.8" y="1440" text-anchor="middle" font-size="18">ER</text>
<text x="237" y="1440" text-anchor="middle" font-size="18">HR</text>
<text x="299.6" y="1440" text-anchor="middle" font-size="18">TN</text>
<text x="357.9" y="1440" text-anchor="middle" font-size="18">TP</text>
<rect x="127" y="1467.5" width="20.3" height="20.3" fill="#8064A2"/>
<text x="152" y="1487.8" font-size="17.9">Others</text>
<rect x="127" y="1494.3" width="20.3" height="20.3" fill="#9BBB59"/>
<text x="153" y="1513.8" font-size="17.9">Respiratory</text>
<rect x="127" y="1521.8" width="20.3" height="20.3" fill="#C0504D"/>
<text x="155.5" y="1540.8" font-size="17.9">Cancer associated</text>
<rect x="256" y="1493.3" width="20.3" height="20.3" fill="#4F81BD"/>
<text x="283" y="1512.1" font-size="17.9">Enteric virus</text>
<rect x="569" y="1380.9" width="38.4" height="17.8" fill="#4572A7"/>
<rect x="569" y="1262" width="38.4" height="119.2" fill="#AA4643"/>
<rect x="569" y="1243.6" width="38.4" height="18.7" fill="#89A54E"/>
<rect x="569" y="1234.8" width="38.4" height="9.1" fill="#71588F"/>
<rect x="569" y="1226.3" width="38.4" height="8.8" fill="#4198AF"/>
<rect x="569" y="1186.9" width="38.4" height="39.7" fill="#DB843D"/>
<rect x="569" y="1183.9" width="38.4" height="3.3" fill="#93A9CF"/>
<rect x="569" y="1174.5" width="38.4" height="9.7" fill="#D19392"/>
<rect x="569" y="1168" width="38.4" height="6.8" fill="#B9CD96"/>
<rect x="627" y="1378.4" width="38.5" height="20.3" fill="#4572A7"/>
<rect x="627" y="1269.6" width="38.5" height="109" fill="#AA4643"/>
<rect x="627" y="1253" width="38.5" height="16.9" fill="#89A54E"/>
<rect x="627" y="1238.7" width="38.5" height="14.6" fill="#71588F"/>
<rect x="627" y="1227.9" width="38.5" height="11.1" fill="#4198AF"/>
<rect x="627" y="1192.9" width="38.5" height="35.3" fill="#DB843D"/>
<rect x="627" y="1186.9" width="38.5" height="6.3" fill="#93A9CF"/>
<rect x="627" y="1179.1" width="38.5" height="8.1" fill="#D19392"/>
<rect x="627" y="1168" width="38.5" height="11.4" fill="#B9CD96"/>
<rect x="685" y="1372.8" width="38.5" height="25.9" fill="#4572A7"/>
<rect x="685" y="1264.3" width="38.5" height="108.8" fill="#AA4643"/>
<rect x="685" y="1255.8" width="38.5" height="8.8" fill="#89A54E"/>
<rect x="685" y="1229.3" width="38.5" height="26.8" fill="#71588F"/>
<rect x="685" y="1185.7" width="38.5" height="43.8" fill="#DB843D"/>
<rect x="685" y="1177.7" width="38.5" height="8.4" fill="#93A9CF"/>
<rect x="685" y="1168" width="38.5" height="10" fill="#B9CD96"/>
<rect x="743" y="1380.4" width="38.7" height="18.3" fill="#4572A7"/>
<rect x="743" y="1272.6" width="38.7" height="108.1" fill="#AA4643"/>
<rect x="743" y="1254.2" width="38.7" height="18.7" fill="#89A54E"/>
<rect x="743" y="1238.7" width="38.7" height="15.7" fill="#71588F"/>
<rect x="743" y="1229.7" width="38.7" height="9.3" fill="#4198AF"/>
<rect x="743" y="1191.5" width="38.7" height="38.5" fill="#DB843D"/>
<rect x="743" y="1188" width="38.7" height="3.8" fill="#93A9CF"/>
<rect x="743" y="1177.7" width="38.7" height="10.7" fill="#D19392"/>
<rect x="743" y="1168" width="38.7" height="10" fill="#B9CD96"/>
<line x1="559" y1="1168" x2="559" y2="1398.4" stroke="#777" stroke-width="1" stroke-dasharray="5 1.5 1 1.5"/>
<line x1="557.5" y1="1398.4" x2="560.5" y2="1398.4" stroke="#777" stroke-width="1"/>
<line x1="557.5" y1="1375.4" x2="560.5" y2="1375.4" stroke="#777" stroke-width="1"/>
<line x1="557.5" y1="1352.3" x2="560.5" y2="1352.3" stroke="#777" stroke-width="1"/>
<line x1="557.5" y1="1329.3" x2="560.5" y2="1329.3" stroke="#777" stroke-width="1"/>
<line x1="557.5" y1="1306.2" x2="560.5" y2="1306.2" stroke="#777" stroke-width="1"/>
<line x1="557.5" y1="1283.2" x2="560.5" y2="1283.2" stroke="#777" stroke-width="1"/>
<line x1="557.5" y1="1260.2" x2="560.5" y2="1260.2" stroke="#777" stroke-width="1"/>
<line x1="557.5" y1="1237.1" x2="560.5" y2="1237.1" stroke="#777" stroke-width="1"/>
<line x1="557.5" y1="1214.1" x2="560.5" y2="1214.1" stroke="#777" stroke-width="1"/>
<line x1="557.5" y1="1191" x2="560.5" y2="1191" stroke="#777" stroke-width="1"/>
<line x1="557.5" y1="1168" x2="560.5" y2="1168" stroke="#777" stroke-width="1"/>
<line x1="556" y1="1398.4" x2="792" y2="1398.4" stroke="#555" stroke-width="1"/>
<line x1="617" y1="1395.9" x2="617" y2="1401.4" stroke="#555" stroke-width="1"/>
<line x1="675" y1="1395.9" x2="675" y2="1401.4" stroke="#555" stroke-width="1"/>
<line x1="733" y1="1395.9" x2="733" y2="1401.4" stroke="#555" stroke-width="1"/>
<line x1="791.3" y1="1395.9" x2="791.3" y2="1401.4" stroke="#555" stroke-width="1"/>
<text x="551.5" y="1408.2" text-anchor="end" font-size="17.4">0</text>
<text x="551.5" y="1362.1" text-anchor="end" font-size="17.4">20</text>
<text x="551.5" y="1316" text-anchor="end" font-size="17.4">40</text>
<text x="551.5" y="1270" text-anchor="end" font-size="17.4">60</text>
<text x="551.5" y="1223.9" text-anchor="end" font-size="17.4">80</text>
<text x="551.5" y="1177.8" text-anchor="end" font-size="17.4">100</text>
<text x="673" y="1154.4" text-anchor="middle">Bacteria</text>
<text text-anchor="middle" transform="translate(507 1289) rotate(-90)">Percentage of signals detected</text>
<text x="592" y="1422" text-anchor="middle" font-size="18">ER</text>
<text x="652" y="1422" text-anchor="middle" font-size="18">HR</text>
<text x="708.5" y="1422" text-anchor="middle" font-size="18">TN</text>
<text x="768" y="1422" text-anchor="middle" font-size="18">TP</text>
<rect x="565.6" y="1442" width="18.6" height="18.6" fill="#B9CD96"/>
<text x="589.6" y="1458.7" font-size="17.9">Tenericutes</text>
<rect x="565.6" y="1467" width="18.6" height="18.6" fill="#93A9CF"/>
<text x="591" y="1483.8" font-size="17.9">Fusobacteria</text>
<rect x="566.6" y="1492.3" width="18.6" height="18.6" fill="#4198AF"/>
<text x="591" y="1511.4" font-size="17.9">Delta/epsilon subdivisions</text>
<rect x="567.1" y="1518.3" width="18.6" height="18.6" fill="#71588F"/>
<text x="592" y="1536.8" font-size="17.9">Chlamydiae</text>
<rect x="567.1" y="1543.7" width="18.6" height="18.6" fill="#89A54E"/>
<text x="592.7" y="1562.3" font-size="17.9">Bacteroidetes/Chlorobi group</text>
<rect x="567.6" y="1568.5" width="18.6" height="18.6" fill="#4572A7"/>
<text x="591.7" y="1586.3" font-size="17.9">Actinobacteria</text>
<rect x="698" y="1442.2" width="18.6" height="18.6" fill="#D19392"/>
<text x="719.6" y="1459.8" font-size="17.9">Spirochaetia</text>
<rect x="698" y="1467.5" width="18.6" height="18.6" fill="#DB843D"/>
<text x="721.4" y="1483.8" font-size="17.9">Firmicutes</text>
<rect x="698.5" y="1517.2" width="18.6" height="18.6" fill="#AA4643"/>
<text x="722" y="1536.8" font-size="17.9">Proteobacteria</text>
<rect x="946.8" y="1245.4" width="34.6" height="150.1" fill="#4F81BD"/>
<rect x="946.8" y="1222.8" width="34.6" height="22.9" fill="#C0504D"/>
<rect x="946.8" y="1202.6" width="34.6" height="20.5" fill="#9BBB59"/>
<rect x="946.8" y="1171" width="34.6" height="31.9" fill="#8064A2"/>
<rect x="999.2" y="1248.6" width="34.8" height="146.9" fill="#4F81BD"/>
<rect x="999.2" y="1221" width="34.8" height="27.9" fill="#C0504D"/>
<rect x="999.2" y="1210" width="34.8" height="11.3" fill="#9BBB59"/>
<rect x="999.2" y="1171" width="34.8" height="39.3" fill="#8064A2"/>
<rect x="1051.8" y="1277" width="35.1" height="118.5" fill="#4F81BD"/>
<rect x="1051.8" y="1193.6" width="35.1" height="83.7" fill="#C0504D"/>
<rect x="1051.8" y="1171" width="35.1" height="22.9" fill="#8064A2"/>
<rect x="1104.4" y="1254" width="34.9" height="141.5" fill="#4F81BD"/>
<rect x="1104.4" y="1220.5" width="34.9" height="33.7" fill="#C0504D"/>
<rect x="1104.4" y="1209.3" width="34.9" height="11.5" fill="#9BBB59"/>
<rect x="1104.4" y="1171" width="34.9" height="38.6" fill="#8064A2"/>
<line x1="937.7" y1="1171" x2="937.7" y2="1398.2" stroke="#222" stroke-width="1.1"/>
<line x1="934.5" y1="1395.2" x2="940.3" y2="1395.2" stroke="#222" stroke-width="1.1"/>
<line x1="934.5" y1="1372.8" x2="940.3" y2="1372.8" stroke="#222" stroke-width="1.1"/>
<line x1="934.5" y1="1350.4" x2="940.3" y2="1350.4" stroke="#222" stroke-width="1.1"/>
<line x1="934.5" y1="1327.9" x2="940.3" y2="1327.9" stroke="#222" stroke-width="1.1"/>
<line x1="934.5" y1="1305.5" x2="940.3" y2="1305.5" stroke="#222" stroke-width="1.1"/>
<line x1="934.5" y1="1283.1" x2="940.3" y2="1283.1" stroke="#222" stroke-width="1.1"/>
<line x1="934.5" y1="1260.7" x2="940.3" y2="1260.7" stroke="#222" stroke-width="1.1"/>
<line x1="934.5" y1="1238.3" x2="940.3" y2="1238.3" stroke="#222" stroke-width="1.1"/>
<line x1="934.5" y1="1215.8" x2="940.3" y2="1215.8" stroke="#222" stroke-width="1.1"/>
<line x1="934.5" y1="1193.4" x2="940.3" y2="1193.4" stroke="#222" stroke-width="1.1"/>
<line x1="934.5" y1="1171" x2="940.3" y2="1171" stroke="#222" stroke-width="1.1"/>
<line x1="934.7" y1="1395.2" x2="1148.6" y2="1395.2" stroke="#222" stroke-width="1.3"/>
<line x1="937.7" y1="1392" x2="937.7" y2="1399.4" stroke="#222" stroke-width="1.1"/>
<line x1="990.5" y1="1392" x2="990.5" y2="1399.4" stroke="#222" stroke-width="1.1"/>
<line x1="1042.9" y1="1392" x2="1042.9" y2="1399.4" stroke="#222" stroke-width="1.1"/>
<line x1="1095.5" y1="1392" x2="1095.5" y2="1399.4" stroke="#222" stroke-width="1.1"/>
<line x1="1148.4" y1="1392" x2="1148.4" y2="1399.4" stroke="#222" stroke-width="1.1"/>
<text x="932.5" y="1401.5" text-anchor="end" font-size="17.4">0</text>
<text x="932.5" y="1357.6" text-anchor="end" font-size="17.4">20</text>
<text x="932.5" y="1313.7" text-anchor="end" font-size="17.4">40</text>
<text x="932.5" y="1269.8" text-anchor="end" font-size="17.4">60</text>
<text x="932.5" y="1225.9" text-anchor="end" font-size="17.4">80</text>
<text x="932.5" y="1182" text-anchor="end" font-size="17.4">100</text>
<text x="1045.2" y="1154.4" text-anchor="middle">Fungi</text>
<text text-anchor="middle" transform="translate(888.5 1290.4) rotate(-90)">Percentage of signals detected</text>
<text x="967" y="1417" text-anchor="middle" font-size="18">ER</text>
<text x="1022" y="1417" text-anchor="middle" font-size="18">HR</text>
<text x="1072.5" y="1417" text-anchor="middle" font-size="18">TN</text>
<text x="1127" y="1417" text-anchor="middle" font-size="18">TP</text>
<rect x="929.3" y="1435" width="17.8" height="17.8" fill="#8064A2"/>
<text x="951.4" y="1453.2" font-size="17.9">Mucoromycota</text>
<rect x="929.3" y="1459.2" width="17.8" height="17.8" fill="#C0504D"/>
<text x="951.8" y="1477.1" font-size="17.9">Basidiomycota</text>
<rect x="1069.4" y="1433" width="17.8" height="17.8" fill="#9BBB59"/>
<text x="1091.5" y="1450.8" font-size="17.9">Microsporidia</text>
<rect x="1069.4" y="1457.4" width="17.8" height="17.8" fill="#4F81BD"/>
<text x="1091.5" y="1474.8" font-size="17.9">Ascomycota</text>
<rect x="1321.2" y="1382.9" width="33.8" height="5.4" fill="#4572A7"/>
<rect x="1321.2" y="1354.7" width="33.8" height="28.5" fill="#AA4643"/>
<rect x="1321.2" y="1351.2" width="33.8" height="3.8" fill="#89A54E"/>
<rect x="1321.2" y="1343" width="33.8" height="8.5" fill="#71588F"/>
<rect x="1321.2" y="1260.6" width="33.8" height="82.7" fill="#DB843D"/>
<rect x="1321.2" y="1205.1" width="33.8" height="55.8" fill="#D19392"/>
<rect x="1321.2" y="1174.9" width="33.8" height="30.5" fill="#B9CD96"/>
<rect x="1321.2" y="1167.6" width="33.8" height="7.6" fill="#A99BBD"/>
<rect x="1372.5" y="1381.4" width="33.9" height="6.9" fill="#4572A7"/>
<rect x="1372.5" y="1349" width="33.9" height="32.7" fill="#AA4643"/>
<rect x="1372.5" y="1345" width="33.9" height="4.3" fill="#89A54E"/>
<rect x="1372.5" y="1338.2" width="33.9" height="7.1" fill="#71588F"/>
<rect x="1372.5" y="1333.1" width="33.9" height="5.4" fill="#66FFFF"/>
<rect x="1372.5" y="1258.2" width="33.9" height="75.2" fill="#DB843D"/>
<rect x="1372.5" y="1253.1" width="33.9" height="5.4" fill="#6B2424"/>
<rect x="1372.5" y="1201.8" width="33.9" height="51.7" fill="#D19392"/>
<rect x="1372.5" y="1169.6" width="33.9" height="32.5" fill="#B9CD96"/>
<rect x="1372.5" y="1167.6" width="33.9" height="2.3" fill="#A99BBD"/>
<rect x="1423.8" y="1360.7" width="33.9" height="27.6" fill="#4572A7"/>
<rect x="1423.8" y="1325" width="33.9" height="36" fill="#AA4643"/>
<rect x="1423.8" y="1306.9" width="33.9" height="18.4" fill="#89A54E"/>
<rect x="1423.8" y="1265.2" width="33.9" height="42" fill="#DB843D"/>
<rect x="1423.8" y="1221.4" width="33.9" height="44.2" fill="#D19392"/>
<rect x="1423.8" y="1181.5" width="33.9" height="40.2" fill="#B9CD96"/>
<rect x="1423.8" y="1167.6" width="33.9" height="14.2" fill="#A99BBD"/>
<rect x="1475" y="1380.1" width="34" height="8.2" fill="#4572A7"/>
<rect x="1475" y="1342.2" width="34" height="38.2" fill="#AA4643"/>
<rect x="1475" y="1274.3" width="34" height="68.2" fill="#DB843D"/>
<rect x="1475" y="1198.9" width="34" height="75.7" fill="#D19392"/>
<rect x="1475" y="1167.6" width="34" height="31.6" fill="#B9CD96"/>
<line x1="1313" y1="1167.6" x2="1313" y2="1391" stroke="#222" stroke-width="1.1"/>
<line x1="1309.8" y1="1388" x2="1315.6" y2="1388" stroke="#222" stroke-width="1.1"/>
<line x1="1309.8" y1="1366" x2="1315.6" y2="1366" stroke="#222" stroke-width="1.1"/>
<line x1="1309.8" y1="1343.9" x2="1315.6" y2="1343.9" stroke="#222" stroke-width="1.1"/>
<line x1="1309.8" y1="1321.9" x2="1315.6" y2="1321.9" stroke="#222" stroke-width="1.1"/>
<line x1="1309.8" y1="1299.8" x2="1315.6" y2="1299.8" stroke="#222" stroke-width="1.1"/>
<line x1="1309.8" y1="1277.8" x2="1315.6" y2="1277.8" stroke="#222" stroke-width="1.1"/>
<line x1="1309.8" y1="1255.8" x2="1315.6" y2="1255.8" stroke="#222" stroke-width="1.1"/>
<line x1="1309.8" y1="1233.7" x2="1315.6" y2="1233.7" stroke="#222" stroke-width="1.1"/>
<line x1="1309.8" y1="1211.7" x2="1315.6" y2="1211.7" stroke="#222" stroke-width="1.1"/>
<line x1="1309.8" y1="1189.6" x2="1315.6" y2="1189.6" stroke="#222" stroke-width="1.1"/>
<line x1="1309.8" y1="1167.6" x2="1315.6" y2="1167.6" stroke="#222" stroke-width="1.1"/>
<line x1="1310" y1="1388" x2="1517.7" y2="1388" stroke="#222" stroke-width="1.3"/>
<line x1="1313" y1="1384.8" x2="1313" y2="1392.2" stroke="#222" stroke-width="1.1"/>
<line x1="1364" y1="1384.8" x2="1364" y2="1392.2" stroke="#222" stroke-width="1.1"/>
<line x1="1415.2" y1="1384.8" x2="1415.2" y2="1392.2" stroke="#222" stroke-width="1.1"/>
<line x1="1466.2" y1="1384.8" x2="1466.2" y2="1392.2" stroke="#222" stroke-width="1.1"/>
<line x1="1517.5" y1="1384.8" x2="1517.5" y2="1392.2" stroke="#222" stroke-width="1.1"/>
<text x="1309" y="1394.8" text-anchor="end" font-size="17.4">0</text>
<text x="1309" y="1352.2" text-anchor="end" font-size="17.4">20</text>
<text x="1309" y="1306.6" text-anchor="end" font-size="17.4">40</text>
<text x="1309" y="1262.6" text-anchor="end" font-size="17.4">60</text>
<text x="1309" y="1218.5" text-anchor="end" font-size="17.4">80</text>
<text x="1309" y="1177.4" text-anchor="end" font-size="17.4">100</text>
<text x="1415.2" y="1154.3" text-anchor="middle">Parasite</text>
<text text-anchor="middle" transform="translate(1262.5 1284) rotate(-90)">Percentage of signals detected</text>
<text x="1341.5" y="1410.8" text-anchor="middle" font-size="18">ER</text>
<text x="1394.7" y="1410.8" text-anchor="middle" font-size="18">HR</text>
<text x="1442.8" y="1410.8" text-anchor="middle" font-size="18">TN</text>
<text x="1499" y="1410.8" text-anchor="middle" font-size="18">TP</text>
<rect x="1546.7" y="1170.2" width="17.6" height="17.6" fill="#A99BBD"/>
<text x="1569.5" y="1188.4" font-size="17.9">Sarcomastigophora</text>
<rect x="1546.7" y="1193.9" width="17.6" height="17.6" fill="#B9CD96"/>
<text x="1571" y="1212.8" font-size="17.9">Protozoa</text>
<rect x="1546.7" y="1217.7" width="17.6" height="17.6" fill="#D19392"/>
<text x="1572.6" y="1237.1" font-size="17.9">Platyhelminthes</text>
<rect x="1546.7" y="1243" width="17.6" height="17.6" fill="#6B2424"/>
<text x="1573.9" y="1261.8" font-size="17.9">Percolozoa</text>
<rect x="1546.7" y="1269" width="17.6" height="17.6" fill="#DB843D"/>
<text x="1574.8" y="1285.9" font-size="17.9">Nematoda</text>
<rect x="1546.7" y="1293" width="17.6" height="17.6" fill="#66FFFF"/>
<text x="1572.3" y="1310.9" font-size="17.9">Metamonada</text>
<rect x="1546.7" y="1319" width="17.6" height="17.6" fill="#71588F"/>
<text x="1572.3" y="1337.5" font-size="17.9">Balamuthia</text>
<rect x="1546.7" y="1345" width="17.6" height="17.6" fill="#89A54E"/>
<text x="1569.5" y="1363.2" font-size="17.9">Arthropoda</text>
<rect x="1546.7" y="1370.3" width="17.6" height="17.6" fill="#AA4643"/>
<text x="1571" y="1387.9" font-size="17.9">Apicomplexa</text>
<rect x="1546.7" y="1394.4" width="17.6" height="17.6" fill="#4572A7"/>
<text x="1571" y="1413.2" font-size="17.9">Acanthocephala</text>
<ellipse cx="265.1" cy="1816.5" rx="130.2" ry="74.4" transform="rotate(-45 265.1 1816.5)" fill="#7CAE00" stroke="none" fill-opacity="0.46"/>
<ellipse cx="153.5" cy="1816.5" rx="130.2" ry="74.4" transform="rotate(45 153.5 1816.5)" fill="#F8766D" stroke="none" fill-opacity="0.46"/>
<ellipse cx="209.3" cy="1779.3" rx="122.8" ry="55.8" transform="rotate(-45 209.3 1779.3)" fill="#C77CFF" stroke="none" fill-opacity="0.46"/>
<ellipse cx="209.3" cy="1779.3" rx="130.2" ry="55.8" transform="rotate(45 209.3 1779.3)" fill="#00BFC4" stroke="none" fill-opacity="0.4"/>
<ellipse cx="265.1" cy="1816.5" rx="130.2" ry="74.4" transform="rotate(-45 265.1 1816.5)" fill="none" stroke="#000" stroke-width="1.8"/>
<ellipse cx="153.5" cy="1816.5" rx="130.2" ry="74.4" transform="rotate(45 153.5 1816.5)" fill="none" stroke="#000" stroke-width="1.8"/>
<ellipse cx="209.3" cy="1779.3" rx="122.8" ry="55.8" transform="rotate(-45 209.3 1779.3)" fill="none" stroke="#000" stroke-width="1.8"/>
<ellipse cx="209.3" cy="1779.3" rx="130.2" ry="55.8" transform="rotate(45 209.3 1779.3)" fill="none" stroke="#000" stroke-width="1.8"/>
<text x="90.5" y="1781.5" text-anchor="middle" class="sf" fill="#111" font-size="14.5">1</text>
<text x="153.9" y="1710.8" text-anchor="middle" class="sf" fill="#111" font-size="14.5">0</text>
<text x="264.7" y="1710.8" text-anchor="middle" class="sf" fill="#111" font-size="14.5">0</text>
<text x="328.1" y="1781.5" text-anchor="middle" class="sf" fill="#111" font-size="14.5">0</text>
<text x="138.8" y="1747.5" text-anchor="middle" class="sf" fill="#111" font-size="14.5">0</text>
<text x="209.3" y="1740.2" text-anchor="middle" class="sf" fill="#111" font-size="14.5">0</text>
<text x="279.8" y="1747.5" text-anchor="middle" class="sf" fill="#111" font-size="14.5">0</text>
<text x="172.1" y="1781.3" text-anchor="middle" class="sf" fill="#111" font-size="14.5">0</text>
<text x="246.5" y="1781.3" text-anchor="middle" class="sf" fill="#111" font-size="14.5">0</text>
<text x="209.3" y="1822.1" text-anchor="middle" class="sf" fill="#111" font-size="14.5">19</text>
<text x="142.3" y="1840.8" text-anchor="middle" class="sf" fill="#111" font-size="14.5">0</text>
<text x="276.3" y="1840.8" text-anchor="middle" class="sf" fill="#111" font-size="14.5">1</text>
<text x="181.8" y="1855.9" text-anchor="middle" class="sf" fill="#111" font-size="14.5">4</text>
<text x="236.8" y="1855.9" text-anchor="middle" class="sf" fill="#111" font-size="14.5">1</text>
<text x="209.3" y="1893.3" text-anchor="middle" class="sf" fill="#111" font-size="14.5">1</text>
<text x="56.3" y="1704.5" font-size="18">ER</text>
<text x="142.5" y="1673.3" font-size="18">HR</text>
<text x="254.5" y="1673.3" font-size="18">TN</text>
<text x="337.5" y="1705.8" font-size="18">TP</text>
<text x="217" y="1948.5" text-anchor="middle">Viral Families</text>
<ellipse cx="682.7" cy="1813.9" rx="132.5" ry="75.7" transform="rotate(-45 682.7 1813.9)" fill="#7CAE00" stroke="none" fill-opacity="0.46"/>
<ellipse cx="569.2" cy="1813.9" rx="132.5" ry="75.7" transform="rotate(45 569.2 1813.9)" fill="#F8766D" stroke="none" fill-opacity="0.46"/>
<ellipse cx="626" cy="1776.1" rx="124.9" ry="56.8" transform="rotate(-45 626 1776.1)" fill="#C77CFF" stroke="none" fill-opacity="0.46"/>
<ellipse cx="626" cy="1776.1" rx="132.5" ry="56.8" transform="rotate(45 626 1776.1)" fill="#00BFC4" stroke="none" fill-opacity="0.4"/>
<ellipse cx="682.7" cy="1813.9" rx="132.5" ry="75.7" transform="rotate(-45 682.7 1813.9)" fill="none" stroke="#000" stroke-width="1.8"/>
<ellipse cx="569.2" cy="1813.9" rx="132.5" ry="75.7" transform="rotate(45 569.2 1813.9)" fill="none" stroke="#000" stroke-width="1.8"/>
<ellipse cx="626" cy="1776.1" rx="124.9" ry="56.8" transform="rotate(-45 626 1776.1)" fill="none" stroke="#000" stroke-width="1.8"/>
<ellipse cx="626" cy="1776.1" rx="132.5" ry="56.8" transform="rotate(45 626 1776.1)" fill="none" stroke="#000" stroke-width="1.8"/>
<text x="505.1" y="1778.3" text-anchor="middle" class="sf" fill="#111" font-size="14.5">15</text>
<text x="569.6" y="1706.4" text-anchor="middle" class="sf" fill="#111" font-size="14.5">2</text>
<text x="682.3" y="1706.4" text-anchor="middle" class="sf" fill="#111" font-size="14.5">1</text>
<text x="746.8" y="1778.3" text-anchor="middle" class="sf" fill="#111" font-size="14.5">0</text>
<text x="554.2" y="1743.7" text-anchor="middle" class="sf" fill="#111" font-size="14.5">8</text>
<text x="626" y="1736.3" text-anchor="middle" class="sf" fill="#111" font-size="14.5">0</text>
<text x="697.7" y="1743.7" text-anchor="middle" class="sf" fill="#111" font-size="14.5">0</text>
<text x="588.1" y="1778.1" text-anchor="middle" class="sf" fill="#111" font-size="14.5">1</text>
<text x="663.8" y="1778.1" text-anchor="middle" class="sf" fill="#111" font-size="14.5">0</text>
<text x="626" y="1819.5" text-anchor="middle" class="sf" fill="#111" font-size="14.5">20</text>
<text x="557.8" y="1838.6" text-anchor="middle" class="sf" fill="#111" font-size="14.5">2</text>
<text x="694.1" y="1838.6" text-anchor="middle" class="sf" fill="#111" font-size="14.5">0</text>
<text x="597.9" y="1854" text-anchor="middle" class="sf" fill="#111" font-size="14.5">0</text>
<text x="654" y="1854" text-anchor="middle" class="sf" fill="#111" font-size="14.5">31</text>
<text x="626" y="1892" text-anchor="middle" class="sf" fill="#111" font-size="14.5">3</text>
<text x="453.8" y="1711.3" font-size="18">ER</text>
<text x="536.3" y="1668.8" font-size="18">HR</text>
<text x="698" y="1674.5" font-size="18">TN</text>
<text x="784.5" y="1720" font-size="18">TP</text>
<text x="636" y="1948.5" text-anchor="middle">Bacterial genera</text>
<ellipse cx="1108.5" cy="1809.4" rx="137.9" ry="78.8" transform="rotate(-45 1108.5 1809.4)" fill="#7CAE00" stroke="none" fill-opacity="0.46"/>
<ellipse cx="990.3" cy="1809.4" rx="137.9" ry="78.8" transform="rotate(45 990.3 1809.4)" fill="#F8766D" stroke="none" fill-opacity="0.46"/>
<ellipse cx="1049.4" cy="1770" rx="130" ry="59.1" transform="rotate(-45 1049.4 1770)" fill="#C77CFF" stroke="none" fill-opacity="0.46"/>
<ellipse cx="1049.4" cy="1770" rx="137.9" ry="59.1" transform="rotate(45 1049.4 1770)" fill="#00BFC4" stroke="none" fill-opacity="0.4"/>
<ellipse cx="1108.5" cy="1809.4" rx="137.9" ry="78.8" transform="rotate(-45 1108.5 1809.4)" fill="none" stroke="#000" stroke-width="1.8"/>
<ellipse cx="990.3" cy="1809.4" rx="137.9" ry="78.8" transform="rotate(45 990.3 1809.4)" fill="none" stroke="#000" stroke-width="1.8"/>
<ellipse cx="1049.4" cy="1770" rx="130" ry="59.1" transform="rotate(-45 1049.4 1770)" fill="none" stroke="#000" stroke-width="1.8"/>
<ellipse cx="1049.4" cy="1770" rx="137.9" ry="59.1" transform="rotate(45 1049.4 1770)" fill="none" stroke="#000" stroke-width="1.8"/>
<text x="923.6" y="1772.2" text-anchor="middle" class="sf" fill="#111" font-size="14.5">7</text>
<text x="990.7" y="1697.3" text-anchor="middle" class="sf" fill="#111" font-size="14.5">2</text>
<text x="1108.1" y="1697.3" text-anchor="middle" class="sf" fill="#111" font-size="14.5">0</text>
<text x="1175.2" y="1772.2" text-anchor="middle" class="sf" fill="#111" font-size="14.5">1</text>
<text x="974.7" y="1736.1" text-anchor="middle" class="sf" fill="#111" font-size="14.5">1</text>
<text x="1049.4" y="1728.4" text-anchor="middle" class="sf" fill="#111" font-size="14.5">0</text>
<text x="1124.1" y="1736.1" text-anchor="middle" class="sf" fill="#111" font-size="14.5">0</text>
<text x="1010" y="1771.9" text-anchor="middle" class="sf" fill="#111" font-size="14.5">0</text>
<text x="1088.8" y="1771.9" text-anchor="middle" class="sf" fill="#111" font-size="14.5">0</text>
<text x="1049.4" y="1815.1" text-anchor="middle" class="sf" fill="#111" font-size="14.5">6</text>
<text x="978.5" y="1834.9" text-anchor="middle" class="sf" fill="#111" font-size="14.5">0</text>
<text x="1120.3" y="1834.9" text-anchor="middle" class="sf" fill="#111" font-size="14.5">0</text>
<text x="1020.2" y="1851" text-anchor="middle" class="sf" fill="#111" font-size="14.5">2</text>
<text x="1078.6" y="1851" text-anchor="middle" class="sf" fill="#111" font-size="14.5">20</text>
<text x="1049.4" y="1890.6" text-anchor="middle" class="sf" fill="#111" font-size="14.5">1</text>
<text x="878.8" y="1698.3" font-size="18">ER</text>
<text x="960" y="1660" font-size="18">HR</text>
<text x="1122.5" y="1665.8" font-size="18">TN</text>
<text x="1211.3" y="1710" font-size="18">TP</text>
<text x="1054.8" y="1948.5" text-anchor="middle">Fungal genera</text>
<ellipse cx="1550.1" cy="1808.6" rx="141.4" ry="80.8" transform="rotate(-45 1550.1 1808.6)" fill="#7CAE00" stroke="none" fill-opacity="0.46"/>
<ellipse cx="1428.9" cy="1808.6" rx="141.4" ry="80.8" transform="rotate(45 1428.9 1808.6)" fill="#F8766D" stroke="none" fill-opacity="0.46"/>
<ellipse cx="1489.5" cy="1768.2" rx="133.3" ry="60.6" transform="rotate(-45 1489.5 1768.2)" fill="#C77CFF" stroke="none" fill-opacity="0.46"/>
<ellipse cx="1489.5" cy="1768.2" rx="141.4" ry="60.6" transform="rotate(45 1489.5 1768.2)" fill="#00BFC4" stroke="none" fill-opacity="0.4"/>
<ellipse cx="1550.1" cy="1808.6" rx="141.4" ry="80.8" transform="rotate(-45 1550.1 1808.6)" fill="none" stroke="#000" stroke-width="1.8"/>
<ellipse cx="1428.9" cy="1808.6" rx="141.4" ry="80.8" transform="rotate(45 1428.9 1808.6)" fill="none" stroke="#000" stroke-width="1.8"/>
<ellipse cx="1489.5" cy="1768.2" rx="133.3" ry="60.6" transform="rotate(-45 1489.5 1768.2)" fill="none" stroke="#000" stroke-width="1.8"/>
<ellipse cx="1489.5" cy="1768.2" rx="141.4" ry="60.6" transform="rotate(45 1489.5 1768.2)" fill="none" stroke="#000" stroke-width="1.8"/>
<text x="1360.5" y="1770.3" text-anchor="middle" class="sf" fill="#111" font-size="14.5">12</text>
<text x="1429.3" y="1693.5" text-anchor="middle" class="sf" fill="#111" font-size="14.5">7</text>
<text x="1549.7" y="1693.5" text-anchor="middle" class="sf" fill="#111" font-size="14.5">2</text>
<text x="1618.5" y="1770.3" text-anchor="middle" class="sf" fill="#111" font-size="14.5">0</text>
<text x="1412.9" y="1733.3" text-anchor="middle" class="sf" fill="#111" font-size="14.5">7</text>
<text x="1489.5" y="1725.5" text-anchor="middle" class="sf" fill="#111" font-size="14.5">0</text>
<text x="1566.1" y="1733.3" text-anchor="middle" class="sf" fill="#111" font-size="14.5">0</text>
<text x="1449.1" y="1770.1" text-anchor="middle" class="sf" fill="#111" font-size="14.5">4</text>
<text x="1529.9" y="1770.1" text-anchor="middle" class="sf" fill="#111" font-size="14.5">0</text>
<text x="1489.5" y="1814.3" text-anchor="middle" class="sf" fill="#111" font-size="14.5">6</text>
<text x="1416.8" y="1834.7" text-anchor="middle" class="sf" fill="#111" font-size="14.5">0</text>
<text x="1562.2" y="1834.7" text-anchor="middle" class="sf" fill="#111" font-size="14.5">0</text>
<text x="1459.6" y="1851.1" text-anchor="middle" class="sf" fill="#111" font-size="14.5">0</text>
<text x="1519.4" y="1851.1" text-anchor="middle" class="sf" fill="#111" font-size="14.5">15</text>
<text x="1489.5" y="1891.7" text-anchor="middle" class="sf" fill="#111" font-size="14.5">2</text>
<text x="1313.8" y="1692.5" font-size="18">ER</text>
<text x="1395.8" y="1653.8" font-size="18">HR</text>
<text x="1557.5" y="1660" font-size="18">TN</text>
<text x="1647.5" y="1703.8" font-size="18">TP</text>
<text x="1503" y="1948.5" text-anchor="middle">Parasitic genera</text>
<line x1="1339" y1="1684.5" x2="1357" y2="1684.5" stroke="#999" stroke-width="0.8" stroke-dasharray="2.5 1.2"/>
<line x1="1624" y1="1684" x2="1657" y2="1684" stroke="#999" stroke-width="0.8" stroke-dasharray="2.5 1.2"/>
</svg>
</body></html>
